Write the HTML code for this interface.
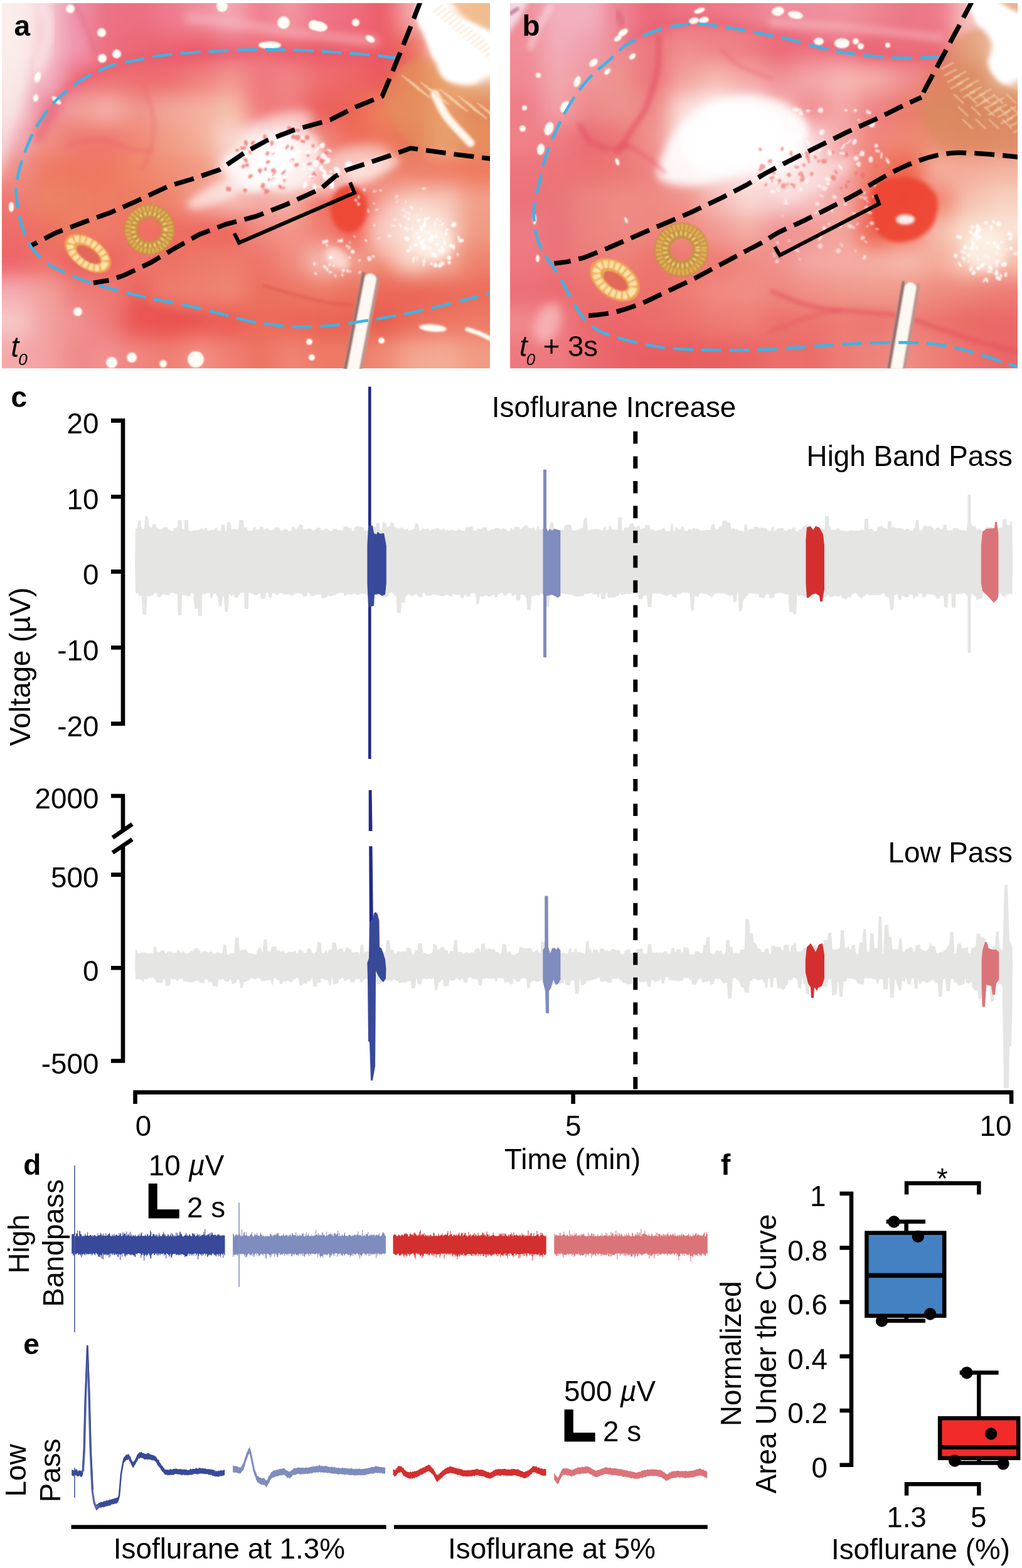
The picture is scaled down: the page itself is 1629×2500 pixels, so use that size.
<!DOCTYPE html>
<html lang="en"><head><meta charset="utf-8"><title>Figure</title>
<style>html,body{margin:0;padding:0;background:#fff}svg{display:block}text{font-family:"Liberation Sans",Arial,Helvetica,sans-serif;fill:#000}</style></head><body>
<svg width="1629" height="2500" viewBox="0 0 1629 2500">
<rect width="1629" height="2500" fill="#fff"/>
<defs><filter id="b1" x="-50%" y="-50%" width="200%" height="200%" color-interpolation-filters="sRGB"><feGaussianBlur stdDeviation="1"/></filter><filter id="b1.5" x="-50%" y="-50%" width="200%" height="200%" color-interpolation-filters="sRGB"><feGaussianBlur stdDeviation="1.5"/></filter><filter id="b2" x="-50%" y="-50%" width="200%" height="200%" color-interpolation-filters="sRGB"><feGaussianBlur stdDeviation="2"/></filter><filter id="b3" x="-50%" y="-50%" width="200%" height="200%" color-interpolation-filters="sRGB"><feGaussianBlur stdDeviation="3"/></filter><filter id="b4" x="-50%" y="-50%" width="200%" height="200%" color-interpolation-filters="sRGB"><feGaussianBlur stdDeviation="4"/></filter><filter id="b5" x="-50%" y="-50%" width="200%" height="200%" color-interpolation-filters="sRGB"><feGaussianBlur stdDeviation="5"/></filter><filter id="b6" x="-50%" y="-50%" width="200%" height="200%" color-interpolation-filters="sRGB"><feGaussianBlur stdDeviation="6"/></filter><filter id="b7" x="-50%" y="-50%" width="200%" height="200%" color-interpolation-filters="sRGB"><feGaussianBlur stdDeviation="7"/></filter><filter id="b8" x="-50%" y="-50%" width="200%" height="200%" color-interpolation-filters="sRGB"><feGaussianBlur stdDeviation="8"/></filter><filter id="b9" x="-50%" y="-50%" width="200%" height="200%" color-interpolation-filters="sRGB"><feGaussianBlur stdDeviation="9"/></filter><filter id="b10" x="-50%" y="-50%" width="200%" height="200%" color-interpolation-filters="sRGB"><feGaussianBlur stdDeviation="10"/></filter><filter id="b12" x="-50%" y="-50%" width="200%" height="200%" color-interpolation-filters="sRGB"><feGaussianBlur stdDeviation="12"/></filter><filter id="b14" x="-50%" y="-50%" width="200%" height="200%" color-interpolation-filters="sRGB"><feGaussianBlur stdDeviation="14"/></filter><filter id="b16" x="-50%" y="-50%" width="200%" height="200%" color-interpolation-filters="sRGB"><feGaussianBlur stdDeviation="16"/></filter><filter id="b20" x="-50%" y="-50%" width="200%" height="200%" color-interpolation-filters="sRGB"><feGaussianBlur stdDeviation="20"/></filter><filter id="b30" x="-50%" y="-50%" width="200%" height="200%" color-interpolation-filters="sRGB"><feGaussianBlur stdDeviation="30"/></filter><clipPath id="clipA"><rect x="3" y="5" width="778" height="582.3"/></clipPath><clipPath id="clipB"><rect x="813" y="5" width="809" height="582.3"/></clipPath></defs>
<g id="panel-a"><g clip-path="url(#clipA)">
<g filter="url(#b16)"><rect x="-146.1" y="-144" width="149.6" height="149.5" fill="#F8E5E3"/><rect x="2.5" y="-144" width="49.6" height="149.5" fill="#F8E5E3"/><rect x="51.1" y="-144" width="49.6" height="149.5" fill="#F4C5CF"/><rect x="99.8" y="-144" width="49.6" height="149.5" fill="#EE8FA7"/><rect x="148.4" y="-144" width="49.6" height="149.5" fill="#EC7184"/><rect x="197" y="-144" width="49.6" height="149.5" fill="#EC6F81"/><rect x="245.6" y="-144" width="49.6" height="149.5" fill="#EE7A8D"/><rect x="294.2" y="-144" width="49.6" height="149.5" fill="#F08D9E"/><rect x="342.9" y="-144" width="49.6" height="149.5" fill="#F4A6B1"/><rect x="391.5" y="-144" width="49.6" height="149.5" fill="#F07F8F"/><rect x="440.1" y="-144" width="49.6" height="149.5" fill="#F295A1"/><rect x="488.8" y="-144" width="49.6" height="149.5" fill="#EE7587"/><rect x="537.4" y="-144" width="49.6" height="149.5" fill="#EE6D7E"/><rect x="586" y="-144" width="49.6" height="149.5" fill="#EC5F6A"/><rect x="634.6" y="-144" width="49.6" height="149.5" fill="#F4ACAC"/><rect x="683.2" y="-144" width="49.6" height="149.5" fill="#FFFAF6"/><rect x="731.9" y="-144" width="49.6" height="149.5" fill="#F4D3AC"/><rect x="780.5" y="-144" width="149.6" height="149.5" fill="#F4D3AC"/><rect x="-146.1" y="4.5" width="149.6" height="49.5" fill="#F8E5E3"/><rect x="2.5" y="4.5" width="49.6" height="49.5" fill="#F8E5E3"/><rect x="51.1" y="4.5" width="49.6" height="49.5" fill="#F4C5CF"/><rect x="99.8" y="4.5" width="49.6" height="49.5" fill="#EE8FA7"/><rect x="148.4" y="4.5" width="49.6" height="49.5" fill="#EC7184"/><rect x="197" y="4.5" width="49.6" height="49.5" fill="#EC6F81"/><rect x="245.6" y="4.5" width="49.6" height="49.5" fill="#EE7A8D"/><rect x="294.2" y="4.5" width="49.6" height="49.5" fill="#F08D9E"/><rect x="342.9" y="4.5" width="49.6" height="49.5" fill="#F4A6B1"/><rect x="391.5" y="4.5" width="49.6" height="49.5" fill="#F07F8F"/><rect x="440.1" y="4.5" width="49.6" height="49.5" fill="#F295A1"/><rect x="488.8" y="4.5" width="49.6" height="49.5" fill="#EE7587"/><rect x="537.4" y="4.5" width="49.6" height="49.5" fill="#EE6D7E"/><rect x="586" y="4.5" width="49.6" height="49.5" fill="#EC5F6A"/><rect x="634.6" y="4.5" width="49.6" height="49.5" fill="#F4ACAC"/><rect x="683.2" y="4.5" width="49.6" height="49.5" fill="#FFFAF6"/><rect x="731.9" y="4.5" width="49.6" height="49.5" fill="#F4D3AC"/><rect x="780.5" y="4.5" width="149.6" height="49.5" fill="#F4D3AC"/><rect x="-146.1" y="53" width="149.6" height="49.5" fill="#F8E5E3"/><rect x="2.5" y="53" width="49.6" height="49.5" fill="#F8E5E3"/><rect x="51.1" y="53" width="49.6" height="49.5" fill="#F4C0CD"/><rect x="99.8" y="53" width="49.6" height="49.5" fill="#F095AF"/><rect x="148.4" y="53" width="49.6" height="49.5" fill="#EC6D7E"/><rect x="197" y="53" width="49.6" height="49.5" fill="#EC6776"/><rect x="245.6" y="53" width="49.6" height="49.5" fill="#EC6574"/><rect x="294.2" y="53" width="49.6" height="49.5" fill="#EC5F6A"/><rect x="342.9" y="53" width="49.6" height="49.5" fill="#EE6D7E"/><rect x="391.5" y="53" width="49.6" height="49.5" fill="#F0757E"/><rect x="440.1" y="53" width="49.6" height="49.5" fill="#EE6974"/><rect x="488.8" y="53" width="49.6" height="49.5" fill="#EC626D"/><rect x="537.4" y="53" width="49.6" height="49.5" fill="#EE6571"/><rect x="586" y="53" width="49.6" height="49.5" fill="#EC5C64"/><rect x="634.6" y="53" width="49.6" height="49.5" fill="#EA6D5F"/><rect x="683.2" y="53" width="49.6" height="49.5" fill="#F8E5D3"/><rect x="731.9" y="53" width="49.6" height="49.5" fill="#FFFFFF"/><rect x="780.5" y="53" width="149.6" height="49.5" fill="#FFFFFF"/><rect x="-146.1" y="101.5" width="149.6" height="49.5" fill="#F6DCDC"/><rect x="2.5" y="101.5" width="49.6" height="49.5" fill="#F6DCDC"/><rect x="51.1" y="101.5" width="49.6" height="49.5" fill="#F2B1C1"/><rect x="99.8" y="101.5" width="49.6" height="49.5" fill="#EE7184"/><rect x="148.4" y="101.5" width="49.6" height="49.5" fill="#EE7174"/><rect x="197" y="101.5" width="49.6" height="49.5" fill="#EE6D6F"/><rect x="245.6" y="101.5" width="49.6" height="49.5" fill="#EE6D6F"/><rect x="294.2" y="101.5" width="49.6" height="49.5" fill="#F07F7E"/><rect x="342.9" y="101.5" width="49.6" height="49.5" fill="#F2958F"/><rect x="391.5" y="101.5" width="49.6" height="49.5" fill="#F07A7E"/><rect x="440.1" y="101.5" width="49.6" height="49.5" fill="#F08484"/><rect x="488.8" y="101.5" width="49.6" height="49.5" fill="#EE6D6F"/><rect x="537.4" y="101.5" width="49.6" height="49.5" fill="#EE6566"/><rect x="586" y="101.5" width="49.6" height="49.5" fill="#EA595C"/><rect x="634.6" y="101.5" width="49.6" height="49.5" fill="#E88459"/><rect x="683.2" y="101.5" width="49.6" height="49.5" fill="#F0B67E"/><rect x="731.9" y="101.5" width="49.6" height="49.5" fill="#F8E1CA"/><rect x="780.5" y="101.5" width="149.6" height="49.5" fill="#F8E1CA"/><rect x="-146.1" y="150" width="149.6" height="49.5" fill="#F4CFD3"/><rect x="2.5" y="150" width="49.6" height="49.5" fill="#F4CFD3"/><rect x="51.1" y="150" width="49.6" height="49.5" fill="#EE849B"/><rect x="99.8" y="150" width="49.6" height="49.5" fill="#F2A098"/><rect x="148.4" y="150" width="49.6" height="49.5" fill="#F4B1A7"/><rect x="197" y="150" width="49.6" height="49.5" fill="#F0958D"/><rect x="245.6" y="150" width="49.6" height="49.5" fill="#F2A69B"/><rect x="294.2" y="150" width="49.6" height="49.5" fill="#F4B1A1"/><rect x="342.9" y="150" width="49.6" height="49.5" fill="#F6C0AC"/><rect x="391.5" y="150" width="49.6" height="49.5" fill="#F07A79"/><rect x="440.1" y="150" width="49.6" height="49.5" fill="#F07F7E"/><rect x="488.8" y="150" width="49.6" height="49.5" fill="#EC5F5C"/><rect x="537.4" y="150" width="49.6" height="49.5" fill="#EC6556"/><rect x="586" y="150" width="49.6" height="49.5" fill="#EC845C"/><rect x="634.6" y="150" width="49.6" height="49.5" fill="#EA8A5C"/><rect x="683.2" y="150" width="49.6" height="49.5" fill="#F0B17E"/><rect x="731.9" y="150" width="49.6" height="49.5" fill="#E48456"/><rect x="780.5" y="150" width="149.6" height="49.5" fill="#E48456"/><rect x="-146.1" y="198.5" width="149.6" height="49.5" fill="#F0ACB7"/><rect x="2.5" y="198.5" width="49.6" height="49.5" fill="#F0ACB7"/><rect x="51.1" y="198.5" width="49.6" height="49.5" fill="#F08F84"/><rect x="99.8" y="198.5" width="49.6" height="49.5" fill="#EE7A6F"/><rect x="148.4" y="198.5" width="49.6" height="49.5" fill="#EE786D"/><rect x="197" y="198.5" width="49.6" height="49.5" fill="#F08A74"/><rect x="245.6" y="198.5" width="49.6" height="49.5" fill="#F29E87"/><rect x="294.2" y="198.5" width="49.6" height="49.5" fill="#F4AE98"/><rect x="342.9" y="198.5" width="49.6" height="49.5" fill="#F8D8CF"/><rect x="391.5" y="198.5" width="49.6" height="49.5" fill="#F8D3CF"/><rect x="440.1" y="198.5" width="49.6" height="49.5" fill="#FAE5E1"/><rect x="488.8" y="198.5" width="49.6" height="49.5" fill="#F08A7E"/><rect x="537.4" y="198.5" width="49.6" height="49.5" fill="#EE6D5C"/><rect x="586" y="198.5" width="49.6" height="49.5" fill="#EE755C"/><rect x="634.6" y="198.5" width="49.6" height="49.5" fill="#E47A56"/><rect x="683.2" y="198.5" width="49.6" height="49.5" fill="#F0B68A"/><rect x="731.9" y="198.5" width="49.6" height="49.5" fill="#EC8F62"/><rect x="780.5" y="198.5" width="149.6" height="49.5" fill="#EC8F62"/><rect x="-146.1" y="247" width="149.6" height="49.5" fill="#F08F8A"/><rect x="2.5" y="247" width="49.6" height="49.5" fill="#F08F8A"/><rect x="51.1" y="247" width="49.6" height="49.5" fill="#EE7A64"/><rect x="99.8" y="247" width="49.6" height="49.5" fill="#EE7862"/><rect x="148.4" y="247" width="49.6" height="49.5" fill="#EE7A64"/><rect x="197" y="247" width="49.6" height="49.5" fill="#F0846A"/><rect x="245.6" y="247" width="49.6" height="49.5" fill="#F08F76"/><rect x="294.2" y="247" width="49.6" height="49.5" fill="#F29881"/><rect x="342.9" y="247" width="49.6" height="49.5" fill="#F6C0B7"/><rect x="391.5" y="247" width="49.6" height="49.5" fill="#F8D8D3"/><rect x="440.1" y="247" width="49.6" height="49.5" fill="#F8D3CF"/><rect x="488.8" y="247" width="49.6" height="49.5" fill="#F06D62"/><rect x="537.4" y="247" width="49.6" height="49.5" fill="#F4A095"/><rect x="586" y="247" width="49.6" height="49.5" fill="#F0846F"/><rect x="634.6" y="247" width="49.6" height="49.5" fill="#EE7F6A"/><rect x="683.2" y="247" width="49.6" height="49.5" fill="#EE7A62"/><rect x="731.9" y="247" width="49.6" height="49.5" fill="#EE7A5F"/><rect x="780.5" y="247" width="149.6" height="49.5" fill="#EE7A5F"/><rect x="-146.1" y="295.5" width="149.6" height="49.5" fill="#EE7A74"/><rect x="2.5" y="295.5" width="49.6" height="49.5" fill="#EE7A74"/><rect x="51.1" y="295.5" width="49.6" height="49.5" fill="#EC8466"/><rect x="99.8" y="295.5" width="49.6" height="49.5" fill="#EC7F62"/><rect x="148.4" y="295.5" width="49.6" height="49.5" fill="#EE7A64"/><rect x="197" y="295.5" width="49.6" height="49.5" fill="#EC7F62"/><rect x="245.6" y="295.5" width="49.6" height="49.5" fill="#EE846A"/><rect x="294.2" y="295.5" width="49.6" height="49.5" fill="#F4A095"/><rect x="342.9" y="295.5" width="49.6" height="49.5" fill="#F6C0B7"/><rect x="391.5" y="295.5" width="49.6" height="49.5" fill="#F4ACA7"/><rect x="440.1" y="295.5" width="49.6" height="49.5" fill="#F4B1A7"/><rect x="488.8" y="295.5" width="49.6" height="49.5" fill="#F07162"/><rect x="537.4" y="295.5" width="49.6" height="49.5" fill="#EE4D3E"/><rect x="586" y="295.5" width="49.6" height="49.5" fill="#F4A095"/><rect x="634.6" y="295.5" width="49.6" height="49.5" fill="#F6C5B7"/><rect x="683.2" y="295.5" width="49.6" height="49.5" fill="#F6CABC"/><rect x="731.9" y="295.5" width="49.6" height="49.5" fill="#F2A08A"/><rect x="780.5" y="295.5" width="149.6" height="49.5" fill="#F2A08A"/><rect x="-146.1" y="344" width="149.6" height="49.5" fill="#EE6D6A"/><rect x="2.5" y="344" width="49.6" height="49.5" fill="#EE6D6A"/><rect x="51.1" y="344" width="49.6" height="49.5" fill="#EC715F"/><rect x="99.8" y="344" width="49.6" height="49.5" fill="#EE7F62"/><rect x="148.4" y="344" width="49.6" height="49.5" fill="#EE7A6A"/><rect x="197" y="344" width="49.6" height="49.5" fill="#EE7162"/><rect x="245.6" y="344" width="49.6" height="49.5" fill="#EE6D62"/><rect x="294.2" y="344" width="49.6" height="49.5" fill="#EE695F"/><rect x="342.9" y="344" width="49.6" height="49.5" fill="#EE655C"/><rect x="391.5" y="344" width="49.6" height="49.5" fill="#F08A7E"/><rect x="440.1" y="344" width="49.6" height="49.5" fill="#F2958A"/><rect x="488.8" y="344" width="49.6" height="49.5" fill="#F07F74"/><rect x="537.4" y="344" width="49.6" height="49.5" fill="#F06556"/><rect x="586" y="344" width="49.6" height="49.5" fill="#F4ACA1"/><rect x="634.6" y="344" width="49.6" height="49.5" fill="#FAE5D8"/><rect x="683.2" y="344" width="49.6" height="49.5" fill="#F8DCCF"/><rect x="731.9" y="344" width="49.6" height="49.5" fill="#F09B84"/><rect x="780.5" y="344" width="149.6" height="49.5" fill="#F09B84"/><rect x="-146.1" y="392.5" width="149.6" height="49.5" fill="#EE656A"/><rect x="2.5" y="392.5" width="49.6" height="49.5" fill="#EE656A"/><rect x="51.1" y="392.5" width="49.6" height="49.5" fill="#EE716A"/><rect x="99.8" y="392.5" width="49.6" height="49.5" fill="#EC625C"/><rect x="148.4" y="392.5" width="49.6" height="49.5" fill="#EC655D"/><rect x="197" y="392.5" width="49.6" height="49.5" fill="#EE756A"/><rect x="245.6" y="392.5" width="49.6" height="49.5" fill="#EC7164"/><rect x="294.2" y="392.5" width="49.6" height="49.5" fill="#EE7967"/><rect x="342.9" y="392.5" width="49.6" height="49.5" fill="#EE7D6C"/><rect x="391.5" y="392.5" width="49.6" height="49.5" fill="#EE756A"/><rect x="440.1" y="392.5" width="49.6" height="49.5" fill="#F08A7E"/><rect x="488.8" y="392.5" width="49.6" height="49.5" fill="#F6C0B7"/><rect x="537.4" y="392.5" width="49.6" height="49.5" fill="#F2A08F"/><rect x="586" y="392.5" width="49.6" height="49.5" fill="#F08A74"/><rect x="634.6" y="392.5" width="49.6" height="49.5" fill="#F6C5B1"/><rect x="683.2" y="392.5" width="49.6" height="49.5" fill="#F4B19B"/><rect x="731.9" y="392.5" width="49.6" height="49.5" fill="#EE846F"/><rect x="780.5" y="392.5" width="149.6" height="49.5" fill="#EE846F"/><rect x="-146.1" y="441" width="149.6" height="49.5" fill="#F4ACB3"/><rect x="2.5" y="441" width="49.6" height="49.5" fill="#F4ACB3"/><rect x="51.1" y="441" width="49.6" height="49.5" fill="#F2A19B"/><rect x="99.8" y="441" width="49.6" height="49.5" fill="#EE7D7B"/><rect x="148.4" y="441" width="49.6" height="49.5" fill="#EE7972"/><rect x="197" y="441" width="49.6" height="49.5" fill="#EC655F"/><rect x="245.6" y="441" width="49.6" height="49.5" fill="#EE7D6E"/><rect x="294.2" y="441" width="49.6" height="49.5" fill="#EE8172"/><rect x="342.9" y="441" width="49.6" height="49.5" fill="#EE8672"/><rect x="391.5" y="441" width="49.6" height="49.5" fill="#EC715F"/><rect x="440.1" y="441" width="49.6" height="49.5" fill="#EC7562"/><rect x="488.8" y="441" width="49.6" height="49.5" fill="#EE7A66"/><rect x="537.4" y="441" width="49.6" height="49.5" fill="#EC715F"/><rect x="586" y="441" width="49.6" height="49.5" fill="#EC6959"/><rect x="634.6" y="441" width="49.6" height="49.5" fill="#EA6556"/><rect x="683.2" y="441" width="49.6" height="49.5" fill="#EA6959"/><rect x="731.9" y="441" width="49.6" height="49.5" fill="#EC6D5C"/><rect x="780.5" y="441" width="149.6" height="49.5" fill="#EC6D5C"/><rect x="-146.1" y="489.5" width="149.6" height="49.5" fill="#F6C7C8"/><rect x="2.5" y="489.5" width="49.6" height="49.5" fill="#F6C7C8"/><rect x="51.1" y="489.5" width="49.6" height="49.5" fill="#F2A1A1"/><rect x="99.8" y="489.5" width="49.6" height="49.5" fill="#F09090"/><rect x="148.4" y="489.5" width="49.6" height="49.5" fill="#EE7B79"/><rect x="197" y="489.5" width="49.6" height="49.5" fill="#EA5350"/><rect x="245.6" y="489.5" width="49.6" height="49.5" fill="#EA504D"/><rect x="294.2" y="489.5" width="49.6" height="49.5" fill="#EC5953"/><rect x="342.9" y="489.5" width="49.6" height="49.5" fill="#EC5C54"/><rect x="391.5" y="489.5" width="49.6" height="49.5" fill="#EC6B5A"/><rect x="440.1" y="489.5" width="49.6" height="49.5" fill="#EC6757"/><rect x="488.8" y="489.5" width="49.6" height="49.5" fill="#EA6354"/><rect x="537.4" y="489.5" width="49.6" height="49.5" fill="#EA6253"/><rect x="586" y="489.5" width="49.6" height="49.5" fill="#E85C4D"/><rect x="634.6" y="489.5" width="49.6" height="49.5" fill="#EC6D5C"/><rect x="683.2" y="489.5" width="49.6" height="49.5" fill="#EE7562"/><rect x="731.9" y="489.5" width="49.6" height="49.5" fill="#EE7A66"/><rect x="780.5" y="489.5" width="149.6" height="49.5" fill="#EE7A66"/><rect x="-146.1" y="538" width="149.6" height="49.5" fill="#F4A9A9"/><rect x="2.5" y="538" width="49.6" height="49.5" fill="#F4A9A9"/><rect x="51.1" y="538" width="49.6" height="49.5" fill="#F4A0A1"/><rect x="99.8" y="538" width="49.6" height="49.5" fill="#F08A8A"/><rect x="148.4" y="538" width="49.6" height="49.5" fill="#F28F8F"/><rect x="197" y="538" width="49.6" height="49.5" fill="#F0847E"/><rect x="245.6" y="538" width="49.6" height="49.5" fill="#F07F74"/><rect x="294.2" y="538" width="49.6" height="49.5" fill="#F28F84"/><rect x="342.9" y="538" width="49.6" height="49.5" fill="#F07F74"/><rect x="391.5" y="538" width="49.6" height="49.5" fill="#EE7362"/><rect x="440.1" y="538" width="49.6" height="49.5" fill="#F08474"/><rect x="488.8" y="538" width="49.6" height="49.5" fill="#EE7A66"/><rect x="537.4" y="538" width="49.6" height="49.5" fill="#EE7A66"/><rect x="586" y="538" width="49.6" height="49.5" fill="#F08A74"/><rect x="634.6" y="538" width="49.6" height="49.5" fill="#F4A68F"/><rect x="683.2" y="538" width="49.6" height="49.5" fill="#F4AC95"/><rect x="731.9" y="538" width="49.6" height="49.5" fill="#F29B84"/><rect x="780.5" y="538" width="149.6" height="49.5" fill="#F29B84"/><rect x="-146.1" y="586.5" width="149.6" height="149.5" fill="#F4A9A9"/><rect x="2.5" y="586.5" width="49.6" height="149.5" fill="#F4A9A9"/><rect x="51.1" y="586.5" width="49.6" height="149.5" fill="#F4A0A1"/><rect x="99.8" y="586.5" width="49.6" height="149.5" fill="#F08A8A"/><rect x="148.4" y="586.5" width="49.6" height="149.5" fill="#F28F8F"/><rect x="197" y="586.5" width="49.6" height="149.5" fill="#F0847E"/><rect x="245.6" y="586.5" width="49.6" height="149.5" fill="#F07F74"/><rect x="294.2" y="586.5" width="49.6" height="149.5" fill="#F28F84"/><rect x="342.9" y="586.5" width="49.6" height="149.5" fill="#F07F74"/><rect x="391.5" y="586.5" width="49.6" height="149.5" fill="#EE7362"/><rect x="440.1" y="586.5" width="49.6" height="149.5" fill="#F08474"/><rect x="488.8" y="586.5" width="49.6" height="149.5" fill="#EE7A66"/><rect x="537.4" y="586.5" width="49.6" height="149.5" fill="#EE7A66"/><rect x="586" y="586.5" width="49.6" height="149.5" fill="#F08A74"/><rect x="634.6" y="586.5" width="49.6" height="149.5" fill="#F4A68F"/><rect x="683.2" y="586.5" width="49.6" height="149.5" fill="#F4AC95"/><rect x="731.9" y="586.5" width="49.6" height="149.5" fill="#F29B84"/><rect x="780.5" y="586.5" width="149.6" height="149.5" fill="#F29B84"/></g>
<path d="M-10 -10C-0.3 -56.7 36.7 -21.7 48 -10C59.3 1.7 59.3 35 58 60C56.7 85 46 115 40 140C34 165 27.3 190 22 210C16.7 230 13.3 250 8 260C2.7 270 -7 315 -10 270C-13 225 -19.7 36.7 -10 -10Z" fill="#FCF2EE" opacity="0.6" filter="url(#b9)"/>
<path d="M68 0C69.7 8.3 79 31.7 78 50C77 68.3 64.7 100 62 110" fill="none" stroke="#FFFFFF" stroke-width="14" stroke-linecap="round" opacity="0.6" filter="url(#b8)"/>
<path d="M120 5C123.3 12.5 134.7 36.7 140 50C145.3 63.3 150 79.2 152 85" fill="none" stroke="#DC6678" stroke-width="6" stroke-linecap="round" opacity="0.5" filter="url(#b4)"/>
<path d="M60 220C66.7 208.3 83.3 168 100 150C116.7 132 135 121.7 160 112C185 102.3 210 96.7 250 92C290 87.3 351.7 84.7 400 84C448.3 83.3 500 86 540 88C580 90 623.3 94.7 640 96" fill="none" stroke="#E85468" stroke-width="16" stroke-linecap="round" opacity="0.5" filter="url(#b7)"/>
<path d="M300 28C313.3 29.7 351.7 34 380 38C408.3 42 433.3 47.3 470 52C506.7 56.7 578.3 63.7 600 66" fill="none" stroke="#F8C4CC" stroke-width="12" stroke-linecap="round" opacity="0.6" filter="url(#b7)"/>
<path d="M669.6 -5C676.7 -10.8 698.3 -9.5 707 -5C715.7 -0.5 708.2 11.5 722 22C735.8 32.5 778.7 40.7 790 58C801.3 75.3 797.5 113 790 126C782.5 139 758.8 136 745 136C731.2 136 716.2 133.2 707 126C697.8 118.8 695.3 104.8 690 93C684.7 81.2 679.2 65.5 675 55C670.8 44.5 665.5 40 664.6 30C663.7 20 662.5 0.8 669.6 -5Z" fill="#FFFFFF" opacity="1" filter="url(#b3)"/>
<path d="M722 -5C732 -8.2 778.7 -13.5 790 -5C801.3 3.5 796.7 39.8 790 46C783.3 52.2 760 37.3 750 32C740 26.7 734.7 20.2 730 14C725.3 7.8 712 -1.8 722 -5Z" fill="#F0B888" opacity="0.8" filter="url(#b3)"/>
<path d="M650 100C660 96 680.5 91.3 690 96C699.5 100.7 697.8 121 707 128C716.2 135 731.2 138 745 138C758.8 138 782.5 111.3 790 128C797.5 144.7 805 220.3 790 238C775 255.7 722.5 235.3 700 234C677.5 232.7 669.7 243.2 655 230C640.3 216.8 616.2 173.3 612 155C607.8 136.7 623.7 129.2 630 120C636.3 110.8 640 104 650 100Z" fill="#E2905E" opacity="0.55" filter="url(#b5)"/>
<path d="M693 150C696.2 156 702.5 173 712 186C721.5 199 743.7 221 750 228" fill="none" stroke="#FFFCF4" stroke-width="13" stroke-linecap="round" opacity="0.95" filter="url(#b2)"/>
<path d="M350 262C351.7 251.3 380 236.3 395 228C410 219.7 424.2 214.7 440 212C455.8 209.3 477.5 207.3 490 212C502.5 216.7 513.3 228.7 515 240C516.7 251.3 507.5 269.2 500 280C492.5 290.8 482.5 301.7 470 305C457.5 308.3 439.2 302.2 425 300C410.8 297.8 397.5 298.3 385 292C372.5 285.7 348.3 272.7 350 262Z" fill="#FFFFFF" opacity="0.75" filter="url(#b8)"/>
<ellipse cx="440" cy="258" rx="40" ry="24" transform="rotate(-20 440 258)" fill="#FFFFFF" opacity="0.8" filter="url(#b5)"/>
<ellipse cx="420" cy="290" rx="35" ry="14" transform="rotate(-20 420 290)" fill="#FFFFFF" opacity="0.6" filter="url(#b5)"/>
<ellipse cx="352" cy="306" rx="58" ry="15" transform="rotate(-24 352 306)" fill="#FFFFFF" opacity="0.55" filter="url(#b6)"/>
<ellipse cx="550" cy="272" rx="78" ry="34" transform="rotate(-20 550 272)" fill="#FFFFFF" opacity="0.5" filter="url(#b9)"/>
<ellipse cx="440" cy="206" rx="62" ry="22" transform="rotate(-20 440 206)" fill="#FFFFFF" opacity="0.45" filter="url(#b8)"/>
<ellipse cx="650" cy="372" rx="62" ry="55" fill="#FFF6F0" opacity="0.4" filter="url(#b12)"/>
<ellipse cx="400" cy="262" rx="40" ry="30" transform="rotate(-20 400 262)" fill="#FFFFFF" opacity="0.4" filter="url(#b9)"/>
<ellipse cx="595" cy="268" rx="45" ry="14" transform="rotate(-18 595 268)" fill="#FFF4F0" opacity="0.5" filter="url(#b6)"/>
<ellipse cx="690" cy="388" rx="32" ry="26" transform="rotate(20 690 388)" fill="#FFF8F0" opacity="0.7" filter="url(#b6)"/>
<ellipse cx="538" cy="412" rx="22" ry="14" transform="rotate(40 538 412)" fill="#FFF6F0" opacity="0.6" filter="url(#b5)"/>
<ellipse cx="556" cy="333" rx="29" ry="38" fill="#EE4836" opacity="0.95" filter="url(#b3)"/>
<path d="M215 485C222.5 487.5 242.5 495.5 260 500C277.5 504.5 310 510 320 512" fill="none" stroke="#DC3C40" stroke-width="10" stroke-linecap="round" opacity="0.3" filter="url(#b7)"/>
<ellipse cx="690" cy="523" rx="22" ry="6" transform="rotate(5 690 523)" fill="#FFFDF4" opacity="1" filter="url(#b1.5)"/>
<path d="M745 525C748.3 526.2 758.3 529.2 765 532C771.7 534.8 781.7 540.3 785 542" fill="none" stroke="#FFFDF4" stroke-width="7" stroke-linecap="round" opacity="1" filter="url(#b1.5)"/>
<path d="M420 455C428.3 457.5 453.3 465.5 470 470C486.7 474.5 505 479.3 520 482C535 484.7 553.3 485.3 560 486" fill="none" stroke="#E0504C" stroke-width="4" stroke-linecap="round" opacity="0.6" filter="url(#b2)"/>
<path d="M230 140C232.5 148.3 243.3 173.3 245 190C246.7 206.7 243.3 226.7 240 240C236.7 253.3 227.5 265 225 270" fill="none" stroke="#E8606C" stroke-width="4" stroke-linecap="round" opacity="0.45" filter="url(#b3)"/>
<path d="M110 230C118.3 228.7 143.3 220.7 160 222C176.7 223.3 196.7 235 210 238C223.3 241 235 239.7 240 240" fill="none" stroke="#E8606C" stroke-width="5" stroke-linecap="round" opacity="0.45" filter="url(#b3)"/>
<g stroke="#F8DDB8" stroke-width="2" opacity="0.75" filter="url(#b1)">
<line x1="640" y1="120" x2="662" y2="135"/>
<line x1="646" y1="125.2" x2="668" y2="140.2"/>
<line x1="652" y1="130.4" x2="674" y2="145.4"/>
<line x1="658" y1="135.6" x2="680" y2="150.6"/>
<line x1="664" y1="140.8" x2="686" y2="155.8"/>
<line x1="670" y1="131" x2="692" y2="146"/>
<line x1="676" y1="136.2" x2="698" y2="151.2"/>
<line x1="682" y1="141.4" x2="704" y2="156.4"/>
<line x1="688" y1="146.6" x2="710" y2="161.6"/>
<line x1="694" y1="151.8" x2="716" y2="166.8"/>
<line x1="700" y1="142" x2="722" y2="157"/>
<line x1="706" y1="147.2" x2="728" y2="162.2"/>
<line x1="712" y1="152.4" x2="734" y2="167.4"/>
<line x1="718" y1="157.6" x2="740" y2="172.6"/>
<line x1="724" y1="162.8" x2="746" y2="177.8"/>
<line x1="730" y1="153" x2="752" y2="168"/>
<line x1="736" y1="158.2" x2="758" y2="173.2"/>
<line x1="742" y1="163.4" x2="764" y2="178.4"/>
<line x1="748" y1="168.6" x2="770" y2="183.6"/>
<line x1="754" y1="173.8" x2="776" y2="188.8"/>
<line x1="760" y1="164" x2="782" y2="179"/>
<line x1="766" y1="169.2" x2="788" y2="184.2"/>
<line x1="772" y1="174.4" x2="794" y2="189.4"/>
<line x1="778" y1="179.6" x2="800" y2="194.6"/>
<line x1="784" y1="184.8" x2="806" y2="199.8"/>
<line x1="790" y1="175" x2="812" y2="190"/>
<line x1="690" y1="20" x2="706" y2="8"/>
<line x1="696" y1="25" x2="712" y2="13"/>
<line x1="702" y1="30" x2="718" y2="18"/>
<line x1="708" y1="35" x2="724" y2="23"/>
<line x1="714" y1="40" x2="730" y2="28"/>
<line x1="720" y1="45" x2="736" y2="33"/>
<line x1="726" y1="50" x2="742" y2="38"/>
<line x1="732" y1="55" x2="748" y2="43"/>
<line x1="738" y1="60" x2="754" y2="48"/>
<line x1="744" y1="65" x2="760" y2="53"/>
<line x1="750" y1="70" x2="766" y2="58"/>
<line x1="756" y1="75" x2="772" y2="63"/>
<line x1="762" y1="80" x2="778" y2="68"/>
<line x1="768" y1="85" x2="784" y2="73"/>
<line x1="774" y1="90" x2="790" y2="78"/>
<line x1="780" y1="95" x2="796" y2="83"/>
</g>
<g fill="#EE6A66" filter="url(#b1)" opacity="0.7"><ellipse cx="387.6" cy="265.3" rx="3.1" ry="3.1" transform="rotate(11 387.6 265.3)"/><ellipse cx="391.9" cy="228.1" rx="5" ry="3.1" transform="rotate(85 391.9 228.1)"/><ellipse cx="467.8" cy="218.1" rx="3.9" ry="3.5" transform="rotate(133 467.8 218.1)"/><ellipse cx="474.3" cy="207.7" rx="4.3" ry="2.5" transform="rotate(5 474.3 207.7)"/><ellipse cx="513.1" cy="256.7" rx="4.2" ry="4" transform="rotate(165 513.1 256.7)"/><ellipse cx="419" cy="296.1" rx="3.3" ry="4.5" transform="rotate(17 419 296.1)"/><ellipse cx="465.3" cy="236.1" rx="3.5" ry="2.1" transform="rotate(105 465.3 236.1)"/><ellipse cx="474.3" cy="219.6" rx="4.6" ry="4.7" transform="rotate(102 474.3 219.6)"/><ellipse cx="482.8" cy="225.3" rx="4.5" ry="2.4" transform="rotate(11 482.8 225.3)"/><ellipse cx="422.1" cy="218.1" rx="2.9" ry="4" transform="rotate(7 422.1 218.1)"/><ellipse cx="462.9" cy="205.4" rx="4.2" ry="2.8" transform="rotate(176 462.9 205.4)"/><ellipse cx="460" cy="203.8" rx="2.6" ry="2.6" transform="rotate(28 460 203.8)"/><ellipse cx="519.3" cy="245.3" rx="3.4" ry="2.9" transform="rotate(107 519.3 245.3)"/><ellipse cx="451.9" cy="274.4" rx="4.8" ry="2.5" transform="rotate(129 451.9 274.4)"/><ellipse cx="387.5" cy="236.1" rx="4.9" ry="2.8" transform="rotate(2 387.5 236.1)"/><ellipse cx="423" cy="269.6" rx="2.1" ry="3.1" transform="rotate(10 423 269.6)"/><ellipse cx="465.5" cy="256" rx="4" ry="2.6" transform="rotate(132 465.5 256)"/><ellipse cx="390.2" cy="254.8" rx="3.8" ry="2" transform="rotate(56 390.2 254.8)"/><ellipse cx="413.8" cy="271.5" rx="2.9" ry="2.8" transform="rotate(4 413.8 271.5)"/><ellipse cx="453.9" cy="288.2" rx="2.9" ry="2.4" transform="rotate(42 453.9 288.2)"/><ellipse cx="377.5" cy="252.2" rx="4.1" ry="1.5" transform="rotate(60 377.5 252.2)"/><ellipse cx="506.7" cy="252.6" rx="4.6" ry="1.7" transform="rotate(117 506.7 252.6)"/><ellipse cx="517" cy="254.1" rx="2.7" ry="1.8" transform="rotate(34 517 254.1)"/><ellipse cx="501.4" cy="277" rx="4.4" ry="1.7" transform="rotate(52 501.4 277)"/><ellipse cx="498.8" cy="232.5" rx="3" ry="2.3" transform="rotate(73 498.8 232.5)"/><ellipse cx="472.6" cy="262.3" rx="2.9" ry="1.9" transform="rotate(12 472.6 262.3)"/><ellipse cx="457.7" cy="234.4" rx="4.4" ry="2" transform="rotate(124 457.7 234.4)"/><ellipse cx="472.6" cy="263" rx="3.2" ry="3.9" transform="rotate(61 472.6 263)"/><ellipse cx="390.5" cy="303.4" rx="3.4" ry="2.9" transform="rotate(35 390.5 303.4)"/><ellipse cx="446.9" cy="298" rx="2.5" ry="4.2" transform="rotate(145 446.9 298)"/><ellipse cx="393.7" cy="263.3" rx="3.3" ry="3" transform="rotate(0 393.7 263.3)"/><ellipse cx="403.2" cy="237.7" rx="3.1" ry="3.1" transform="rotate(64 403.2 237.7)"/><ellipse cx="378.2" cy="239.5" rx="2.4" ry="3.1" transform="rotate(68 378.2 239.5)"/><ellipse cx="414.7" cy="272.5" rx="4.3" ry="2.8" transform="rotate(112 414.7 272.5)"/><ellipse cx="426.3" cy="244.7" rx="3.5" ry="2.9" transform="rotate(124 426.3 244.7)"/><ellipse cx="432.2" cy="229.4" rx="3.6" ry="2.2" transform="rotate(76 432.2 229.4)"/><ellipse cx="425.2" cy="305.6" rx="4.8" ry="3" transform="rotate(142 425.2 305.6)"/><ellipse cx="392.4" cy="255.7" rx="2.4" ry="3.7" transform="rotate(159 392.4 255.7)"/><ellipse cx="498.5" cy="280.1" rx="4.2" ry="2" transform="rotate(105 498.5 280.1)"/><ellipse cx="494.9" cy="205.3" rx="2.3" ry="2.2" transform="rotate(32 494.9 205.3)"/><ellipse cx="364.3" cy="301.3" rx="4" ry="4.4" transform="rotate(104 364.3 301.3)"/><ellipse cx="493.5" cy="261.4" rx="4.1" ry="2" transform="rotate(168 493.5 261.4)"/><ellipse cx="452.8" cy="299.4" rx="2.7" ry="1.6" transform="rotate(110 452.8 299.4)"/><ellipse cx="490.7" cy="247.2" rx="3.1" ry="2.2" transform="rotate(75 490.7 247.2)"/><ellipse cx="489.5" cy="219.3" rx="4.1" ry="3.6" transform="rotate(93 489.5 219.3)"/><ellipse cx="436.7" cy="277.2" rx="4.7" ry="1.3" transform="rotate(134 436.7 277.2)"/><ellipse cx="428.6" cy="286.3" rx="2.6" ry="1.7" transform="rotate(105 428.6 286.3)"/><ellipse cx="403" cy="227.9" rx="4.1" ry="3.1" transform="rotate(126 403 227.9)"/><ellipse cx="422.6" cy="302.4" rx="3.8" ry="1.7" transform="rotate(4 422.6 302.4)"/><ellipse cx="435.9" cy="245.9" rx="2.5" ry="2" transform="rotate(139 435.9 245.9)"/><ellipse cx="435.9" cy="271.9" rx="3.4" ry="4.1" transform="rotate(100 435.9 271.9)"/><ellipse cx="436.3" cy="286.5" rx="4.6" ry="2.8" transform="rotate(172 436.3 286.5)"/><ellipse cx="433.5" cy="227.6" rx="2.7" ry="3.5" transform="rotate(172 433.5 227.6)"/><ellipse cx="510.8" cy="229.1" rx="2.6" ry="1.6" transform="rotate(126 510.8 229.1)"/><ellipse cx="391" cy="303.8" rx="2.9" ry="2.8" transform="rotate(15 391 303.8)"/><ellipse cx="398.4" cy="242.8" rx="3.7" ry="2" transform="rotate(60 398.4 242.8)"/><ellipse cx="427.2" cy="258.3" rx="2.6" ry="3.7" transform="rotate(70 427.2 258.3)"/><ellipse cx="448.9" cy="214.3" rx="2.8" ry="2.2" transform="rotate(159 448.9 214.3)"/><ellipse cx="399.1" cy="281.1" rx="4" ry="2.8" transform="rotate(135 399.1 281.1)"/><ellipse cx="447.2" cy="213.6" rx="3.5" ry="2.6" transform="rotate(122 447.2 213.6)"/></g>
<g fill="#FFFFFF" filter="url(#b1)" opacity="0.9"><ellipse cx="490.6" cy="242.7" rx="5.2" ry="3" transform="rotate(160 490.6 242.7)"/><ellipse cx="504.9" cy="238.6" rx="6.7" ry="1.8" transform="rotate(129 504.9 238.6)"/><ellipse cx="495.6" cy="268.8" rx="5.2" ry="2.8" transform="rotate(31 495.6 268.8)"/><ellipse cx="411" cy="280.1" rx="5.8" ry="4.1" transform="rotate(64 411 280.1)"/><ellipse cx="442.5" cy="256.8" rx="6.4" ry="1.7" transform="rotate(44 442.5 256.8)"/><ellipse cx="523" cy="254.8" rx="3.7" ry="3.1" transform="rotate(138 523 254.8)"/><ellipse cx="456.5" cy="289.3" rx="2.6" ry="1.8" transform="rotate(20 456.5 289.3)"/><ellipse cx="524.6" cy="280.9" rx="2.9" ry="2.1" transform="rotate(133 524.6 280.9)"/><ellipse cx="530.5" cy="282.4" rx="5" ry="1.9" transform="rotate(34 530.5 282.4)"/><ellipse cx="484.4" cy="269.8" rx="3" ry="2.9" transform="rotate(5 484.4 269.8)"/><ellipse cx="528.5" cy="292.4" rx="6.7" ry="3" transform="rotate(104 528.5 292.4)"/><ellipse cx="501.4" cy="298.4" rx="5.4" ry="3.3" transform="rotate(87 501.4 298.4)"/><ellipse cx="496.2" cy="280.9" rx="2" ry="4.9" transform="rotate(88 496.2 280.9)"/><ellipse cx="483.8" cy="262.2" rx="3" ry="2.4" transform="rotate(90 483.8 262.2)"/><ellipse cx="503.4" cy="261.1" rx="4.8" ry="6.4" transform="rotate(24 503.4 261.1)"/><ellipse cx="526.8" cy="273.6" rx="2.3" ry="2.3" transform="rotate(14 526.8 273.6)"/><ellipse cx="486.2" cy="295.1" rx="3.6" ry="5.4" transform="rotate(24 486.2 295.1)"/><ellipse cx="537.3" cy="272.1" rx="6.6" ry="4.9" transform="rotate(61 537.3 272.1)"/><ellipse cx="529.1" cy="295.2" rx="6.3" ry="3.7" transform="rotate(87 529.1 295.2)"/><ellipse cx="417.5" cy="233" rx="2.4" ry="1.7" transform="rotate(89 417.5 233)"/><ellipse cx="511.9" cy="267.6" rx="4.1" ry="3.4" transform="rotate(83 511.9 267.6)"/><ellipse cx="521.1" cy="258.1" rx="2.9" ry="5.6" transform="rotate(66 521.1 258.1)"/><ellipse cx="459.4" cy="267.1" rx="5" ry="1.6" transform="rotate(37 459.4 267.1)"/><ellipse cx="525.3" cy="240" rx="4.3" ry="1.8" transform="rotate(30 525.3 240)"/><ellipse cx="464.6" cy="241.8" rx="2.1" ry="1.5" transform="rotate(88 464.6 241.8)"/><ellipse cx="409.6" cy="231.6" rx="4.2" ry="3.4" transform="rotate(9 409.6 231.6)"/><ellipse cx="464.5" cy="257.8" rx="2.1" ry="4.2" transform="rotate(16 464.5 257.8)"/><ellipse cx="475.9" cy="241.5" rx="5.1" ry="2.1" transform="rotate(9 475.9 241.5)"/><ellipse cx="516.4" cy="249.3" rx="5.9" ry="4.2" transform="rotate(54 516.4 249.3)"/><ellipse cx="440" cy="248.6" rx="6.1" ry="3.5" transform="rotate(16 440 248.6)"/><ellipse cx="509.2" cy="297.8" rx="5" ry="1" transform="rotate(16 509.2 297.8)"/><ellipse cx="427.3" cy="232.6" rx="2.3" ry="5" transform="rotate(36 427.3 232.6)"/><ellipse cx="555.8" cy="263.4" rx="6" ry="6.4" transform="rotate(6 555.8 263.4)"/><ellipse cx="448.8" cy="272.5" rx="6.7" ry="1.6" transform="rotate(152 448.8 272.5)"/><ellipse cx="418.3" cy="257.3" rx="3.7" ry="5.2" transform="rotate(31 418.3 257.3)"/><ellipse cx="518.4" cy="281.4" rx="6.2" ry="4.6" transform="rotate(65 518.4 281.4)"/><ellipse cx="466.4" cy="246.1" rx="5.9" ry="2.8" transform="rotate(30 466.4 246.1)"/><ellipse cx="515.3" cy="272.4" rx="5.6" ry="2.9" transform="rotate(27 515.3 272.4)"/><ellipse cx="513.7" cy="231.6" rx="4.3" ry="4.9" transform="rotate(17 513.7 231.6)"/><ellipse cx="437.9" cy="289.1" rx="5.2" ry="6" transform="rotate(80 437.9 289.1)"/></g>
<g fill="#FFFFFF" filter="url(#b1)" opacity="0.9"><ellipse cx="729.7" cy="406" rx="2.7" ry="1.5" transform="rotate(71 729.7 406)"/><ellipse cx="696.9" cy="349.9" rx="1.8" ry="2.3" transform="rotate(8 696.9 349.9)"/><ellipse cx="655.3" cy="398" rx="3.5" ry="0.9" transform="rotate(174 655.3 398)"/><ellipse cx="662" cy="390.6" rx="3" ry="3.4" transform="rotate(141 662 390.6)"/><ellipse cx="693.5" cy="356.9" rx="2.1" ry="1.6" transform="rotate(20 693.5 356.9)"/><ellipse cx="648.6" cy="381.9" rx="2.3" ry="3.6" transform="rotate(115 648.6 381.9)"/><ellipse cx="716.1" cy="418.5" rx="2.7" ry="2.6" transform="rotate(19 716.1 418.5)"/><ellipse cx="723.5" cy="393.5" rx="4.4" ry="1.7" transform="rotate(83 723.5 393.5)"/><ellipse cx="674.6" cy="383.6" rx="1.8" ry="3" transform="rotate(76 674.6 383.6)"/><ellipse cx="704.8" cy="394.5" rx="2.2" ry="2.7" transform="rotate(60 704.8 394.5)"/><ellipse cx="683.1" cy="347.6" rx="2.3" ry="2" transform="rotate(130 683.1 347.6)"/><ellipse cx="701.2" cy="423.8" rx="3.4" ry="2.9" transform="rotate(162 701.2 423.8)"/><ellipse cx="735" cy="383.6" rx="4.2" ry="2.9" transform="rotate(165 735 383.6)"/><ellipse cx="712.2" cy="366.5" rx="3.3" ry="1.9" transform="rotate(134 712.2 366.5)"/><ellipse cx="667.6" cy="378.9" rx="2.7" ry="3.6" transform="rotate(51 667.6 378.9)"/><ellipse cx="650.3" cy="366.9" rx="2.9" ry="1" transform="rotate(137 650.3 366.9)"/><ellipse cx="677.3" cy="354.5" rx="2.6" ry="2.4" transform="rotate(97 677.3 354.5)"/><ellipse cx="676" cy="416.7" rx="2.5" ry="2.9" transform="rotate(145 676 416.7)"/><ellipse cx="669.7" cy="361.8" rx="4.3" ry="0.9" transform="rotate(95 669.7 361.8)"/><ellipse cx="693.6" cy="354.9" rx="1.7" ry="2" transform="rotate(83 693.6 354.9)"/><ellipse cx="683.2" cy="370.4" rx="1.7" ry="1.9" transform="rotate(56 683.2 370.4)"/><ellipse cx="664.7" cy="412.2" rx="3" ry="1.3" transform="rotate(77 664.7 412.2)"/><ellipse cx="702.7" cy="400.8" rx="4.7" ry="2.7" transform="rotate(24 702.7 400.8)"/><ellipse cx="715.8" cy="411.1" rx="3.3" ry="3.4" transform="rotate(50 715.8 411.1)"/><ellipse cx="704.3" cy="420.7" rx="4.7" ry="2.6" transform="rotate(167 704.3 420.7)"/><ellipse cx="721.4" cy="394.2" rx="3" ry="1.9" transform="rotate(32 721.4 394.2)"/><ellipse cx="694.7" cy="376.7" rx="2.7" ry="2.8" transform="rotate(81 694.7 376.7)"/><ellipse cx="671.5" cy="387" rx="2.9" ry="4.1" transform="rotate(167 671.5 387)"/><ellipse cx="697.5" cy="389.5" rx="3.2" ry="2.1" transform="rotate(164 697.5 389.5)"/><ellipse cx="650.2" cy="400.2" rx="2.8" ry="3.1" transform="rotate(172 650.2 400.2)"/><ellipse cx="704.4" cy="357.6" rx="4.7" ry="1.5" transform="rotate(149 704.4 357.6)"/><ellipse cx="671.6" cy="364.4" rx="4.8" ry="3.2" transform="rotate(70 671.6 364.4)"/><ellipse cx="668.2" cy="351.8" rx="2.4" ry="2.7" transform="rotate(41 668.2 351.8)"/><ellipse cx="692.6" cy="406.9" rx="4.4" ry="3.4" transform="rotate(0 692.6 406.9)"/><ellipse cx="646.9" cy="364.1" rx="3.2" ry="1.9" transform="rotate(8 646.9 364.1)"/><ellipse cx="707.5" cy="398.2" rx="2" ry="1.5" transform="rotate(31 707.5 398.2)"/><ellipse cx="659" cy="414" rx="4.6" ry="1.6" transform="rotate(96 659 414)"/><ellipse cx="678.2" cy="349.6" rx="2.9" ry="3.2" transform="rotate(23 678.2 349.6)"/><ellipse cx="675.2" cy="422.3" rx="1.8" ry="2.1" transform="rotate(179 675.2 422.3)"/><ellipse cx="688.5" cy="403.3" rx="2.6" ry="1.1" transform="rotate(134 688.5 403.3)"/><ellipse cx="718.2" cy="391.2" rx="3.1" ry="2.4" transform="rotate(96 718.2 391.2)"/><ellipse cx="723.3" cy="358" rx="3.6" ry="4.4" transform="rotate(32 723.3 358)"/><ellipse cx="656.8" cy="363.9" rx="2.2" ry="1.7" transform="rotate(73 656.8 363.9)"/><ellipse cx="708.5" cy="387.3" rx="4.2" ry="1.4" transform="rotate(79 708.5 387.3)"/><ellipse cx="654.6" cy="394" rx="2.6" ry="2.2" transform="rotate(57 654.6 394)"/><ellipse cx="675.8" cy="394.1" rx="4.9" ry="4.4" transform="rotate(150 675.8 394.1)"/><ellipse cx="667" cy="351.1" rx="3.3" ry="2.7" transform="rotate(116 667 351.1)"/><ellipse cx="685.3" cy="383" rx="3.4" ry="4.5" transform="rotate(95 685.3 383)"/><ellipse cx="684.2" cy="395.6" rx="1.7" ry="2.8" transform="rotate(139 684.2 395.6)"/><ellipse cx="676.7" cy="359.3" rx="3.4" ry="3.3" transform="rotate(156 676.7 359.3)"/><ellipse cx="711.1" cy="372.5" rx="2.6" ry="2.3" transform="rotate(67 711.1 372.5)"/><ellipse cx="705.2" cy="418.8" rx="3.5" ry="1.2" transform="rotate(66 705.2 418.8)"/><ellipse cx="701.5" cy="352.6" rx="1.8" ry="1.7" transform="rotate(5 701.5 352.6)"/><ellipse cx="693.9" cy="422.9" rx="3.4" ry="3.7" transform="rotate(150 693.9 422.9)"/><ellipse cx="731.3" cy="379.7" rx="3.9" ry="1.8" transform="rotate(68 731.3 379.7)"/><ellipse cx="687.5" cy="420.1" rx="2.5" ry="2" transform="rotate(107 687.5 420.1)"/><ellipse cx="723.2" cy="356.5" rx="2.5" ry="2.2" transform="rotate(77 723.2 356.5)"/><ellipse cx="702.9" cy="399.4" rx="3" ry="1.8" transform="rotate(124 702.9 399.4)"/><ellipse cx="648.4" cy="379.8" rx="4.1" ry="2.6" transform="rotate(1 648.4 379.8)"/><ellipse cx="688" cy="378" rx="4.6" ry="2.9" transform="rotate(75 688 378)"/></g>
<g fill="#FFFFFF" filter="url(#b1)" opacity="0.8"><ellipse cx="558.3" cy="433" rx="2" ry="1.3" transform="rotate(115 558.3 433)"/><ellipse cx="502.7" cy="436.1" rx="2.8" ry="1.6" transform="rotate(41 502.7 436.1)"/><ellipse cx="546.9" cy="431.4" rx="2.8" ry="2.2" transform="rotate(119 546.9 431.4)"/><ellipse cx="552.8" cy="392.1" rx="2.2" ry="2.1" transform="rotate(95 552.8 392.1)"/><ellipse cx="562" cy="401.3" rx="3.4" ry="3.5" transform="rotate(132 562 401.3)"/><ellipse cx="520.4" cy="383.6" rx="2.6" ry="1.4" transform="rotate(156 520.4 383.6)"/><ellipse cx="521.6" cy="429.4" rx="3.8" ry="1.7" transform="rotate(71 521.6 429.4)"/><ellipse cx="521.2" cy="391.2" rx="1.6" ry="1.9" transform="rotate(153 521.2 391.2)"/><ellipse cx="583.3" cy="383.4" rx="2.5" ry="1.5" transform="rotate(45 583.3 383.4)"/><ellipse cx="526.3" cy="421.6" rx="2.4" ry="1.1" transform="rotate(79 526.3 421.6)"/><ellipse cx="556.5" cy="394.7" rx="3.2" ry="1.7" transform="rotate(109 556.5 394.7)"/><ellipse cx="517.6" cy="425.1" rx="2.5" ry="2.3" transform="rotate(113 517.6 425.1)"/><ellipse cx="544.2" cy="383.4" rx="3.5" ry="2.7" transform="rotate(104 544.2 383.4)"/><ellipse cx="526.8" cy="433.9" rx="3.2" ry="1.9" transform="rotate(177 526.8 433.9)"/><ellipse cx="534.6" cy="439.7" rx="2.7" ry="1.7" transform="rotate(60 534.6 439.7)"/><ellipse cx="573.2" cy="415" rx="1.8" ry="2.6" transform="rotate(86 573.2 415)"/><ellipse cx="553.9" cy="431.8" rx="2.6" ry="2.2" transform="rotate(148 553.9 431.8)"/><ellipse cx="520.3" cy="385.6" rx="3.4" ry="1.9" transform="rotate(160 520.3 385.6)"/><ellipse cx="588.5" cy="412.5" rx="4" ry="3.1" transform="rotate(52 588.5 412.5)"/><ellipse cx="501.1" cy="420.7" rx="3.3" ry="1.8" transform="rotate(102 501.1 420.7)"/><ellipse cx="525" cy="421.9" rx="2.9" ry="1.4" transform="rotate(99 525 421.9)"/><ellipse cx="532" cy="423.5" rx="1.9" ry="1.5" transform="rotate(73 532 423.5)"/><ellipse cx="557.6" cy="386.4" rx="1.6" ry="1.6" transform="rotate(90 557.6 386.4)"/><ellipse cx="516.7" cy="386" rx="2.8" ry="3.6" transform="rotate(92 516.7 386)"/><ellipse cx="539.7" cy="384" rx="2.2" ry="2.2" transform="rotate(21 539.7 384)"/><ellipse cx="594.8" cy="408.6" rx="2.6" ry="2.1" transform="rotate(33 594.8 408.6)"/><ellipse cx="557.1" cy="410.6" rx="2" ry="2" transform="rotate(142 557.1 410.6)"/><ellipse cx="573.3" cy="434.2" rx="1.7" ry="2.9" transform="rotate(40 573.3 434.2)"/><ellipse cx="545.7" cy="438.5" rx="2.3" ry="2" transform="rotate(120 545.7 438.5)"/><ellipse cx="526.9" cy="410.5" rx="2.4" ry="3.2" transform="rotate(90 526.9 410.5)"/></g>
<g fill="#FFFFFF" filter="url(#b1)" opacity="0.7"><ellipse cx="642.5" cy="334.2" rx="3.5" ry="1.7" transform="rotate(105 642.5 334.2)"/><ellipse cx="606.6" cy="303.7" rx="1.9" ry="1.9" transform="rotate(136 606.6 303.7)"/><ellipse cx="620.6" cy="376.3" rx="3.6" ry="2.3" transform="rotate(7 620.6 376.3)"/><ellipse cx="626.8" cy="359.7" rx="3.8" ry="1.2" transform="rotate(176 626.8 359.7)"/><ellipse cx="648.7" cy="338.8" rx="3.3" ry="1.4" transform="rotate(120 648.7 338.8)"/><ellipse cx="632.5" cy="312.9" rx="1.8" ry="2.9" transform="rotate(24 632.5 312.9)"/><ellipse cx="560.9" cy="306.6" rx="3.5" ry="1.8" transform="rotate(178 560.9 306.6)"/><ellipse cx="633.3" cy="321.1" rx="3.3" ry="1" transform="rotate(125 633.3 321.1)"/><ellipse cx="580.5" cy="302.6" rx="2.8" ry="2.3" transform="rotate(18 580.5 302.6)"/><ellipse cx="656.3" cy="331.1" rx="3.5" ry="2.2" transform="rotate(58 656.3 331.1)"/><ellipse cx="587" cy="336.2" rx="3.5" ry="1.5" transform="rotate(74 587 336.2)"/><ellipse cx="571.5" cy="325.3" rx="2.9" ry="2.3" transform="rotate(52 571.5 325.3)"/><ellipse cx="563" cy="302.1" rx="2.3" ry="1.6" transform="rotate(47 563 302.1)"/><ellipse cx="651.4" cy="348.1" rx="3.2" ry="2.5" transform="rotate(76 651.4 348.1)"/><ellipse cx="597" cy="305" rx="3.5" ry="1.5" transform="rotate(166 597 305)"/><ellipse cx="629.8" cy="349.9" rx="2.6" ry="1.8" transform="rotate(30 629.8 349.9)"/><ellipse cx="603.9" cy="379.9" rx="1.8" ry="2" transform="rotate(44 603.9 379.9)"/><ellipse cx="671" cy="333.1" rx="1.5" ry="1.3" transform="rotate(127 671 333.1)"/><ellipse cx="664.3" cy="372.5" rx="1.6" ry="2.1" transform="rotate(85 664.3 372.5)"/><ellipse cx="596.1" cy="324.4" rx="1.8" ry="1.7" transform="rotate(173 596.1 324.4)"/><ellipse cx="565.3" cy="377.1" rx="2" ry="1.5" transform="rotate(95 565.3 377.1)"/><ellipse cx="652.3" cy="340.7" rx="3.1" ry="1.4" transform="rotate(92 652.3 340.7)"/><ellipse cx="675.5" cy="300.5" rx="1.7" ry="3.1" transform="rotate(75 675.5 300.5)"/><ellipse cx="645.3" cy="344.8" rx="2.5" ry="2.1" transform="rotate(5 645.3 344.8)"/><ellipse cx="596.7" cy="359" rx="2.1" ry="1.7" transform="rotate(64 596.7 359)"/><ellipse cx="638.1" cy="359.5" rx="3.9" ry="1.6" transform="rotate(60 638.1 359.5)"/><ellipse cx="567" cy="319.2" rx="3" ry="1.9" transform="rotate(32 567 319.2)"/><ellipse cx="571.8" cy="314.3" rx="2.8" ry="2" transform="rotate(101 571.8 314.3)"/><ellipse cx="600.8" cy="334.5" rx="1.6" ry="2.9" transform="rotate(65 600.8 334.5)"/><ellipse cx="647.1" cy="321.8" rx="2" ry="1.2" transform="rotate(109 647.1 321.8)"/></g>
<g fill="#FFFDF4" filter="url(#b1)"><circle cx="112" cy="14" r="7"/><circle cx="162" cy="52" r="7"/><circle cx="186" cy="86" r="7"/><circle cx="163" cy="93" r="7"/><ellipse cx="60" cy="123" rx="5" ry="9" transform="rotate(15 60 123)"/><ellipse cx="57" cy="156" rx="4" ry="6" transform="rotate(10 57 156)"/><ellipse cx="90" cy="160" rx="4" ry="9" transform="rotate(-50 90 160)"/><circle cx="354" cy="10" r="9"/><ellipse cx="508" cy="42" rx="14" ry="8" transform="rotate(10 508 42)"/><circle cx="452" cy="36" r="10"/><circle cx="500" cy="40" r="8"/><circle cx="567" cy="36" r="6"/><ellipse cx="430" cy="72" rx="18" ry="6" transform="rotate(0 430 72)"/><ellipse cx="590" cy="62" rx="8" ry="5" transform="rotate(30 590 62)"/><circle cx="124" cy="497" r="7"/><circle cx="178" cy="578" r="9"/><circle cx="210" cy="570" r="8"/><circle cx="312" cy="573" r="13"/><circle cx="260" cy="580" r="6"/><ellipse cx="18" cy="330" rx="4" ry="8" transform="rotate(0 18 330)"/><circle cx="493" cy="545" r="5"/><circle cx="608" cy="543" r="5"/><circle cx="497" cy="570" r="5"/></g>
<g transform="translate(238 366) scale(1 1.0)"><circle r="29.5" fill="none" stroke="#C6923F" stroke-width="21" filter="url(#b1)"/><circle r="34.1" fill="none" stroke="#E2B45C" stroke-width="8.4" stroke-dasharray="3.5 3" filter="url(#b1)"/><circle r="25.7" fill="none" stroke="#F6DC8C" stroke-width="6.3" stroke-dasharray="2.5 5" filter="url(#b1)"/></g>
<g transform="rotate(35 140 404)" filter="url(#b1)"><ellipse cx="140" cy="404" rx="42" ry="24" fill="#EFA452"/><ellipse cx="140" cy="404" rx="32" ry="17" fill="none" stroke="#FBE3A6" stroke-width="11" stroke-dasharray="7 2.5"/><ellipse cx="142" cy="405" rx="22" ry="10" fill="#E2685A"/></g>
<g filter="url(#b1)"><line x1="588.8" y1="450.7" x2="557.1" y2="616.5" stroke="#C8A8A0" stroke-width="30" stroke-linecap="round"/><line x1="579.4" y1="435.8" x2="545.3" y2="614.2" stroke="#8E6E6A" stroke-width="4.2" stroke-linecap="round"/><line x1="590.4" y1="445.2" x2="557.6" y2="616.6" stroke="#FDF8F2" stroke-width="18.6" stroke-linecap="round"/><line x1="604" y1="439.9" x2="569.7" y2="618.9" stroke="#B89088" stroke-width="3" stroke-linecap="round"/></g>
<path d="M634 93C627.3 92.2 609 89.5 594 88C579 86.5 565 85.4 544 84C523 82.6 493.2 80.5 468 79.7C442.8 78.9 420.2 78.5 393 79.2C365.8 79.9 328.2 82.4 305 84C281.8 85.6 269.5 86.8 254 89C238.5 91.2 224.5 94.5 212 97C199.5 99.5 188.7 101.1 179 104C169.3 106.9 162.3 110.4 154 114.4C145.7 118.4 137.3 122.6 129 128C120.7 133.4 111.6 140.7 104 147C96.4 153.3 89.8 158.8 83.5 166C77.2 173.2 71.1 182.5 66 190C60.9 197.5 57.2 202.8 53 211C48.8 219.2 44.7 229.3 41 239C37.3 248.7 33.5 259.5 31 269C28.5 278.5 26.7 287.3 26 296C25.3 304.7 25.8 311.3 27 321C28.2 330.7 30.3 343.9 33 354C35.7 364.1 39.2 373.6 43 381.5C46.8 389.4 50.2 394.9 56 401.6C61.8 408.3 69.2 415.8 78 421.7C86.8 427.6 98 432.2 109 437C120 441.8 132.3 446.7 144 450.6C155.7 454.6 164.8 456.9 179 460.7C193.2 464.5 212.2 469.5 229 473.3C245.8 477.1 263.2 479.8 280 483.3C296.8 486.9 311.2 490 330 494.6C348.8 499.2 376.2 507.2 393 511C409.8 514.8 418.5 515.6 431 517.3C443.5 519 455.5 520.5 468 521C480.5 521.5 493.3 521.1 506 520.5C518.7 519.9 529.3 519.1 544 517.3C558.7 515.5 577.3 512.4 594 509.7C610.7 507 627.2 504.2 644 500.9C660.8 497.5 678.2 493.6 695 489.6C711.8 485.6 729.2 480.9 745 477C760.8 473.1 782.5 467.8 790 466" fill="none" stroke="#3CB4E6" stroke-width="4.6" stroke-dasharray="32 13"/>
<path d="M671 0 L654.5 42.7 L639.4 80.4 L621.8 123.2 L609.2 153.4 L569 169.7 L526.3 191 L513.7 194.8 L468.4 207.4 L425.7 223.8 L393 241.4 L350 270.5 L304.7 286 L269.5 296.5 L216.7 321.1 L176.5 338.7 L131.2 355.1 L88.5 371.4 L50.8 391" fill="none" stroke="#000" stroke-width="7.5" stroke-dasharray="32 13"/>
<path d="M790 254 L727.4 246.4 L682.2 240.1 L654.5 236.3 L619.3 248.9 L581.6 261.5 L551.4 271.5 L533.8 281.6 L511.2 301 L455.9 326.2 L408 345 L360 357.6 L317.3 374 L279.6 395.3 L239.4 419.2 L196.6 439.3 L174 446.9 L149 451" fill="none" stroke="#000" stroke-width="7.5" stroke-dasharray="32 13" stroke-dashoffset="10"/>
<path d="M558 291 L565 307.4 L381 387 L373.5 372" fill="none" stroke="#000" stroke-width="6"/>
</g>
<text x="22.5" y="56.5" font-size="46" font-weight="bold">a</text>
<text x="17.5" y="568.8" font-size="45.5" font-style="italic">t<tspan font-size="26" dy="13.5" dx="-1">0</tspan></text></g>
<g id="panel-b"><g clip-path="url(#clipB)">
<g filter="url(#b16)"><rect x="661.9" y="-144" width="151.6" height="149.5" fill="#F08D9B"/><rect x="812.5" y="-144" width="51.6" height="149.5" fill="#F08D9B"/><rect x="863.1" y="-144" width="51.6" height="149.5" fill="#F2B0BD"/><rect x="913.6" y="-144" width="51.6" height="149.5" fill="#F2B0BF"/><rect x="964.2" y="-144" width="51.6" height="149.5" fill="#EE8192"/><rect x="1014.8" y="-144" width="51.6" height="149.5" fill="#EC6878"/><rect x="1065.3" y="-144" width="51.6" height="149.5" fill="#EE7483"/><rect x="1115.9" y="-144" width="51.6" height="149.5" fill="#EE7887"/><rect x="1166.4" y="-144" width="51.6" height="149.5" fill="#EE7F8D"/><rect x="1217" y="-144" width="51.6" height="149.5" fill="#F08D9B"/><rect x="1267.6" y="-144" width="51.6" height="149.5" fill="#F08D9B"/><rect x="1318.1" y="-144" width="51.6" height="149.5" fill="#F0929D"/><rect x="1368.7" y="-144" width="51.6" height="149.5" fill="#EE8592"/><rect x="1419.2" y="-144" width="51.6" height="149.5" fill="#EC7885"/><rect x="1469.8" y="-144" width="51.6" height="149.5" fill="#EE7A89"/><rect x="1520.4" y="-144" width="51.6" height="149.5" fill="#F6C1C1"/><rect x="1570.9" y="-144" width="51.6" height="149.5" fill="#FCF0E8"/><rect x="1621.5" y="-144" width="151.6" height="149.5" fill="#FCF0E8"/><rect x="661.9" y="4.5" width="151.6" height="49.5" fill="#F08D9B"/><rect x="812.5" y="4.5" width="51.6" height="49.5" fill="#F08D9B"/><rect x="863.1" y="4.5" width="51.6" height="49.5" fill="#F2B0BD"/><rect x="913.6" y="4.5" width="51.6" height="49.5" fill="#F2B0BF"/><rect x="964.2" y="4.5" width="51.6" height="49.5" fill="#EE8192"/><rect x="1014.8" y="4.5" width="51.6" height="49.5" fill="#EC6878"/><rect x="1065.3" y="4.5" width="51.6" height="49.5" fill="#EE7483"/><rect x="1115.9" y="4.5" width="51.6" height="49.5" fill="#EE7887"/><rect x="1166.4" y="4.5" width="51.6" height="49.5" fill="#EE7F8D"/><rect x="1217" y="4.5" width="51.6" height="49.5" fill="#F08D9B"/><rect x="1267.6" y="4.5" width="51.6" height="49.5" fill="#F08D9B"/><rect x="1318.1" y="4.5" width="51.6" height="49.5" fill="#F0929D"/><rect x="1368.7" y="4.5" width="51.6" height="49.5" fill="#EE8592"/><rect x="1419.2" y="4.5" width="51.6" height="49.5" fill="#EC7885"/><rect x="1469.8" y="4.5" width="51.6" height="49.5" fill="#EE7A89"/><rect x="1520.4" y="4.5" width="51.6" height="49.5" fill="#F6C1C1"/><rect x="1570.9" y="4.5" width="51.6" height="49.5" fill="#FCF0E8"/><rect x="1621.5" y="4.5" width="151.6" height="49.5" fill="#FCF0E8"/><rect x="661.9" y="53" width="151.6" height="49.5" fill="#F08D98"/><rect x="812.5" y="53" width="51.6" height="49.5" fill="#F08D98"/><rect x="863.1" y="53" width="51.6" height="49.5" fill="#F2ACB9"/><rect x="913.6" y="53" width="51.6" height="49.5" fill="#F09FAE"/><rect x="964.2" y="53" width="51.6" height="49.5" fill="#EE8992"/><rect x="1014.8" y="53" width="51.6" height="49.5" fill="#EC787F"/><rect x="1065.3" y="53" width="51.6" height="49.5" fill="#F08D8D"/><rect x="1115.9" y="53" width="51.6" height="49.5" fill="#EE8585"/><rect x="1166.4" y="53" width="51.6" height="49.5" fill="#EE7C81"/><rect x="1217" y="53" width="51.6" height="49.5" fill="#EC6876"/><rect x="1267.6" y="53" width="51.6" height="49.5" fill="#EE7481"/><rect x="1318.1" y="53" width="51.6" height="49.5" fill="#EE7885"/><rect x="1368.7" y="53" width="51.6" height="49.5" fill="#EC6674"/><rect x="1419.2" y="53" width="51.6" height="49.5" fill="#EC6C7A"/><rect x="1469.8" y="53" width="51.6" height="49.5" fill="#EC707F"/><rect x="1520.4" y="53" width="51.6" height="49.5" fill="#F0B996"/><rect x="1570.9" y="53" width="51.6" height="49.5" fill="#FFFCF8"/><rect x="1621.5" y="53" width="151.6" height="49.5" fill="#FFFCF8"/><rect x="661.9" y="101.5" width="151.6" height="49.5" fill="#F08992"/><rect x="812.5" y="101.5" width="51.6" height="49.5" fill="#F08992"/><rect x="863.1" y="101.5" width="51.6" height="49.5" fill="#F2A7B0"/><rect x="913.6" y="101.5" width="51.6" height="49.5" fill="#F0969B"/><rect x="964.2" y="101.5" width="51.6" height="49.5" fill="#EE928D"/><rect x="1014.8" y="101.5" width="51.6" height="49.5" fill="#EC7478"/><rect x="1065.3" y="101.5" width="51.6" height="49.5" fill="#F2A39B"/><rect x="1115.9" y="101.5" width="51.6" height="49.5" fill="#F6B9B0"/><rect x="1166.4" y="101.5" width="51.6" height="49.5" fill="#F4A7A8"/><rect x="1217" y="101.5" width="51.6" height="49.5" fill="#F09498"/><rect x="1267.6" y="101.5" width="51.6" height="49.5" fill="#F4A7A8"/><rect x="1318.1" y="101.5" width="51.6" height="49.5" fill="#F6B7B2"/><rect x="1368.7" y="101.5" width="51.6" height="49.5" fill="#F4AEAA"/><rect x="1419.2" y="101.5" width="51.6" height="49.5" fill="#F09094"/><rect x="1469.8" y="101.5" width="51.6" height="49.5" fill="#E87C68"/><rect x="1520.4" y="101.5" width="51.6" height="49.5" fill="#DC8D64"/><rect x="1570.9" y="101.5" width="51.6" height="49.5" fill="#F4D2B9"/><rect x="1621.5" y="101.5" width="151.6" height="49.5" fill="#F4D2B9"/><rect x="661.9" y="150" width="151.6" height="49.5" fill="#EE7C87"/><rect x="812.5" y="150" width="51.6" height="49.5" fill="#EE7C87"/><rect x="863.1" y="150" width="51.6" height="49.5" fill="#F29FA8"/><rect x="913.6" y="150" width="51.6" height="49.5" fill="#EE898B"/><rect x="964.2" y="150" width="51.6" height="49.5" fill="#EE928D"/><rect x="1014.8" y="150" width="51.6" height="49.5" fill="#EE8985"/><rect x="1065.3" y="150" width="51.6" height="49.5" fill="#FADFDB"/><rect x="1115.9" y="150" width="51.6" height="49.5" fill="#FFFAFA"/><rect x="1166.4" y="150" width="51.6" height="49.5" fill="#FCECEC"/><rect x="1217" y="150" width="51.6" height="49.5" fill="#F6B4B5"/><rect x="1267.6" y="150" width="51.6" height="49.5" fill="#F08D92"/><rect x="1318.1" y="150" width="51.6" height="49.5" fill="#F4A7A5"/><rect x="1368.7" y="150" width="51.6" height="49.5" fill="#EE8185"/><rect x="1419.2" y="150" width="51.6" height="49.5" fill="#EA7C6C"/><rect x="1469.8" y="150" width="51.6" height="49.5" fill="#DC8960"/><rect x="1520.4" y="150" width="51.6" height="49.5" fill="#D8855C"/><rect x="1570.9" y="150" width="51.6" height="49.5" fill="#DC8D64"/><rect x="1621.5" y="150" width="151.6" height="49.5" fill="#DC8D64"/><rect x="661.9" y="198.5" width="151.6" height="49.5" fill="#F08189"/><rect x="812.5" y="198.5" width="51.6" height="49.5" fill="#F08189"/><rect x="863.1" y="198.5" width="51.6" height="49.5" fill="#EE7C85"/><rect x="913.6" y="198.5" width="51.6" height="49.5" fill="#EA6C70"/><rect x="964.2" y="198.5" width="51.6" height="49.5" fill="#EC7878"/><rect x="1014.8" y="198.5" width="51.6" height="49.5" fill="#F0928D"/><rect x="1065.3" y="198.5" width="51.6" height="49.5" fill="#FCE8E8"/><rect x="1115.9" y="198.5" width="51.6" height="49.5" fill="#FFFFFF"/><rect x="1166.4" y="198.5" width="51.6" height="49.5" fill="#FFFCFC"/><rect x="1217" y="198.5" width="51.6" height="49.5" fill="#FFF8F8"/><rect x="1267.6" y="198.5" width="51.6" height="49.5" fill="#FADBDB"/><rect x="1318.1" y="198.5" width="51.6" height="49.5" fill="#F4A7A8"/><rect x="1368.7" y="198.5" width="51.6" height="49.5" fill="#F0857C"/><rect x="1419.2" y="198.5" width="51.6" height="49.5" fill="#F08974"/><rect x="1469.8" y="198.5" width="51.6" height="49.5" fill="#E88D6C"/><rect x="1520.4" y="198.5" width="51.6" height="49.5" fill="#E48964"/><rect x="1570.9" y="198.5" width="51.6" height="49.5" fill="#E48D6C"/><rect x="1621.5" y="198.5" width="151.6" height="49.5" fill="#E48D6C"/><rect x="661.9" y="247" width="151.6" height="49.5" fill="#EE747C"/><rect x="812.5" y="247" width="51.6" height="49.5" fill="#EE747C"/><rect x="863.1" y="247" width="51.6" height="49.5" fill="#EC7478"/><rect x="913.6" y="247" width="51.6" height="49.5" fill="#EC7274"/><rect x="964.2" y="247" width="51.6" height="49.5" fill="#EC7876"/><rect x="1014.8" y="247" width="51.6" height="49.5" fill="#EE8581"/><rect x="1065.3" y="247" width="51.6" height="49.5" fill="#F4B0B0"/><rect x="1115.9" y="247" width="51.6" height="49.5" fill="#FADFDF"/><rect x="1166.4" y="247" width="51.6" height="49.5" fill="#FCE4E4"/><rect x="1217" y="247" width="51.6" height="49.5" fill="#FCE8E8"/><rect x="1267.6" y="247" width="51.6" height="49.5" fill="#F8D2D2"/><rect x="1318.1" y="247" width="51.6" height="49.5" fill="#F4A7A3"/><rect x="1368.7" y="247" width="51.6" height="49.5" fill="#F07C6C"/><rect x="1419.2" y="247" width="51.6" height="49.5" fill="#EE644B"/><rect x="1469.8" y="247" width="51.6" height="49.5" fill="#F4B09F"/><rect x="1520.4" y="247" width="51.6" height="49.5" fill="#F4AC9B"/><rect x="1570.9" y="247" width="51.6" height="49.5" fill="#F4B4A3"/><rect x="1621.5" y="247" width="151.6" height="49.5" fill="#F4B4A3"/><rect x="661.9" y="295.5" width="151.6" height="49.5" fill="#EC707A"/><rect x="812.5" y="295.5" width="51.6" height="49.5" fill="#EC707A"/><rect x="863.1" y="295.5" width="51.6" height="49.5" fill="#EA7678"/><rect x="913.6" y="295.5" width="51.6" height="49.5" fill="#EC8581"/><rect x="964.2" y="295.5" width="51.6" height="49.5" fill="#EE8B85"/><rect x="1014.8" y="295.5" width="51.6" height="49.5" fill="#EE8983"/><rect x="1065.3" y="295.5" width="51.6" height="49.5" fill="#F09289"/><rect x="1115.9" y="295.5" width="51.6" height="49.5" fill="#F6B9B5"/><rect x="1166.4" y="295.5" width="51.6" height="49.5" fill="#F8D7D2"/><rect x="1217" y="295.5" width="51.6" height="49.5" fill="#F8CECE"/><rect x="1267.6" y="295.5" width="51.6" height="49.5" fill="#F6C1C1"/><rect x="1318.1" y="295.5" width="51.6" height="49.5" fill="#F4A7A3"/><rect x="1368.7" y="295.5" width="51.6" height="49.5" fill="#EE6858"/><rect x="1419.2" y="295.5" width="51.6" height="49.5" fill="#EE503D"/><rect x="1469.8" y="295.5" width="51.6" height="49.5" fill="#F08570"/><rect x="1520.4" y="295.5" width="51.6" height="49.5" fill="#F6C1B0"/><rect x="1570.9" y="295.5" width="51.6" height="49.5" fill="#F8D2C1"/><rect x="1621.5" y="295.5" width="151.6" height="49.5" fill="#F8D2C1"/><rect x="661.9" y="344" width="151.6" height="49.5" fill="#EE7C85"/><rect x="812.5" y="344" width="51.6" height="49.5" fill="#EE7C85"/><rect x="863.1" y="344" width="51.6" height="49.5" fill="#EA747A"/><rect x="913.6" y="344" width="51.6" height="49.5" fill="#EC837F"/><rect x="964.2" y="344" width="51.6" height="49.5" fill="#EE8983"/><rect x="1014.8" y="344" width="51.6" height="49.5" fill="#EE877F"/><rect x="1065.3" y="344" width="51.6" height="49.5" fill="#EE8981"/><rect x="1115.9" y="344" width="51.6" height="49.5" fill="#F09A92"/><rect x="1166.4" y="344" width="51.6" height="49.5" fill="#F4ACA3"/><rect x="1217" y="344" width="51.6" height="49.5" fill="#F09292"/><rect x="1267.6" y="344" width="51.6" height="49.5" fill="#F09692"/><rect x="1318.1" y="344" width="51.6" height="49.5" fill="#F4A79F"/><rect x="1368.7" y="344" width="51.6" height="49.5" fill="#EE604D"/><rect x="1419.2" y="344" width="51.6" height="49.5" fill="#F07C6C"/><rect x="1469.8" y="344" width="51.6" height="49.5" fill="#F6BDAC"/><rect x="1520.4" y="344" width="51.6" height="49.5" fill="#FAE3D2"/><rect x="1570.9" y="344" width="51.6" height="49.5" fill="#FAE4D7"/><rect x="1621.5" y="344" width="151.6" height="49.5" fill="#FAE4D7"/><rect x="661.9" y="392.5" width="151.6" height="49.5" fill="#EE7881"/><rect x="812.5" y="392.5" width="51.6" height="49.5" fill="#EE7881"/><rect x="863.1" y="392.5" width="51.6" height="49.5" fill="#EC7278"/><rect x="913.6" y="392.5" width="51.6" height="49.5" fill="#EC7C78"/><rect x="964.2" y="392.5" width="51.6" height="49.5" fill="#EE8178"/><rect x="1014.8" y="392.5" width="51.6" height="49.5" fill="#EE746C"/><rect x="1065.3" y="392.5" width="51.6" height="49.5" fill="#EE7870"/><rect x="1115.9" y="392.5" width="51.6" height="49.5" fill="#EE7C74"/><rect x="1166.4" y="392.5" width="51.6" height="49.5" fill="#F08981"/><rect x="1217" y="392.5" width="51.6" height="49.5" fill="#F0928D"/><rect x="1267.6" y="392.5" width="51.6" height="49.5" fill="#F4A7A3"/><rect x="1318.1" y="392.5" width="51.6" height="49.5" fill="#F4ACA3"/><rect x="1368.7" y="392.5" width="51.6" height="49.5" fill="#F4B0A3"/><rect x="1419.2" y="392.5" width="51.6" height="49.5" fill="#F6B9AC"/><rect x="1469.8" y="392.5" width="51.6" height="49.5" fill="#F4AC9B"/><rect x="1520.4" y="392.5" width="51.6" height="49.5" fill="#F8D2C1"/><rect x="1570.9" y="392.5" width="51.6" height="49.5" fill="#F6C1B0"/><rect x="1621.5" y="392.5" width="151.6" height="49.5" fill="#F6C1B0"/><rect x="661.9" y="441" width="151.6" height="49.5" fill="#EC6E76"/><rect x="812.5" y="441" width="51.6" height="49.5" fill="#EC6E76"/><rect x="863.1" y="441" width="51.6" height="49.5" fill="#EC6C70"/><rect x="913.6" y="441" width="51.6" height="49.5" fill="#EC706E"/><rect x="964.2" y="441" width="51.6" height="49.5" fill="#EC7470"/><rect x="1014.8" y="441" width="51.6" height="49.5" fill="#EC706C"/><rect x="1065.3" y="441" width="51.6" height="49.5" fill="#EE7C74"/><rect x="1115.9" y="441" width="51.6" height="49.5" fill="#F08981"/><rect x="1166.4" y="441" width="51.6" height="49.5" fill="#F08D85"/><rect x="1217" y="441" width="51.6" height="49.5" fill="#EE877F"/><rect x="1267.6" y="441" width="51.6" height="49.5" fill="#F09086"/><rect x="1318.1" y="441" width="51.6" height="49.5" fill="#F0988B"/><rect x="1368.7" y="441" width="51.6" height="49.5" fill="#F09A8D"/><rect x="1419.2" y="441" width="51.6" height="49.5" fill="#F09889"/><rect x="1469.8" y="441" width="51.6" height="49.5" fill="#EE8B7F"/><rect x="1520.4" y="441" width="51.6" height="49.5" fill="#EE8578"/><rect x="1570.9" y="441" width="51.6" height="49.5" fill="#EE7C74"/><rect x="1621.5" y="441" width="151.6" height="49.5" fill="#EE7C74"/><rect x="661.9" y="489.5" width="151.6" height="49.5" fill="#F0898D"/><rect x="812.5" y="489.5" width="51.6" height="49.5" fill="#F0898D"/><rect x="863.1" y="489.5" width="51.6" height="49.5" fill="#EE7C81"/><rect x="913.6" y="489.5" width="51.6" height="49.5" fill="#EC686E"/><rect x="964.2" y="489.5" width="51.6" height="49.5" fill="#EC666A"/><rect x="1014.8" y="489.5" width="51.6" height="49.5" fill="#EC6C6C"/><rect x="1065.3" y="489.5" width="51.6" height="49.5" fill="#EC726E"/><rect x="1115.9" y="489.5" width="51.6" height="49.5" fill="#EE7A74"/><rect x="1166.4" y="489.5" width="51.6" height="49.5" fill="#EE7F76"/><rect x="1217" y="489.5" width="51.6" height="49.5" fill="#EC726C"/><rect x="1267.6" y="489.5" width="51.6" height="49.5" fill="#EC746E"/><rect x="1318.1" y="489.5" width="51.6" height="49.5" fill="#EE7A74"/><rect x="1368.7" y="489.5" width="51.6" height="49.5" fill="#EC7670"/><rect x="1419.2" y="489.5" width="51.6" height="49.5" fill="#EE8178"/><rect x="1469.8" y="489.5" width="51.6" height="49.5" fill="#EC746E"/><rect x="1520.4" y="489.5" width="51.6" height="49.5" fill="#EA6A66"/><rect x="1570.9" y="489.5" width="51.6" height="49.5" fill="#EA6868"/><rect x="1621.5" y="489.5" width="151.6" height="49.5" fill="#EA6868"/><rect x="661.9" y="538" width="151.6" height="49.5" fill="#EE787F"/><rect x="812.5" y="538" width="51.6" height="49.5" fill="#EE787F"/><rect x="863.1" y="538" width="51.6" height="49.5" fill="#EE7A7F"/><rect x="913.6" y="538" width="51.6" height="49.5" fill="#EC6C70"/><rect x="964.2" y="538" width="51.6" height="49.5" fill="#EA6268"/><rect x="1014.8" y="538" width="51.6" height="49.5" fill="#EA5E62"/><rect x="1065.3" y="538" width="51.6" height="49.5" fill="#EA5E5E"/><rect x="1115.9" y="538" width="51.6" height="49.5" fill="#EA6060"/><rect x="1166.4" y="538" width="51.6" height="49.5" fill="#EA6464"/><rect x="1217" y="538" width="51.6" height="49.5" fill="#EC6E6A"/><rect x="1267.6" y="538" width="51.6" height="49.5" fill="#EC6C68"/><rect x="1318.1" y="538" width="51.6" height="49.5" fill="#EE7C76"/><rect x="1368.7" y="538" width="51.6" height="49.5" fill="#EE837A"/><rect x="1419.2" y="538" width="51.6" height="49.5" fill="#F08B83"/><rect x="1469.8" y="538" width="51.6" height="49.5" fill="#EE7F76"/><rect x="1520.4" y="538" width="51.6" height="49.5" fill="#EC726E"/><rect x="1570.9" y="538" width="51.6" height="49.5" fill="#EA6868"/><rect x="1621.5" y="538" width="151.6" height="49.5" fill="#EA6868"/><rect x="661.9" y="586.5" width="151.6" height="149.5" fill="#EE787F"/><rect x="812.5" y="586.5" width="51.6" height="149.5" fill="#EE787F"/><rect x="863.1" y="586.5" width="51.6" height="149.5" fill="#EE7A7F"/><rect x="913.6" y="586.5" width="51.6" height="149.5" fill="#EC6C70"/><rect x="964.2" y="586.5" width="51.6" height="149.5" fill="#EA6268"/><rect x="1014.8" y="586.5" width="51.6" height="149.5" fill="#EA5E62"/><rect x="1065.3" y="586.5" width="51.6" height="149.5" fill="#EA5E5E"/><rect x="1115.9" y="586.5" width="51.6" height="149.5" fill="#EA6060"/><rect x="1166.4" y="586.5" width="51.6" height="149.5" fill="#EA6464"/><rect x="1217" y="586.5" width="51.6" height="149.5" fill="#EC6E6A"/><rect x="1267.6" y="586.5" width="51.6" height="149.5" fill="#EC6C68"/><rect x="1318.1" y="586.5" width="51.6" height="149.5" fill="#EE7C76"/><rect x="1368.7" y="586.5" width="51.6" height="149.5" fill="#EE837A"/><rect x="1419.2" y="586.5" width="51.6" height="149.5" fill="#F08B83"/><rect x="1469.8" y="586.5" width="51.6" height="149.5" fill="#EE7F76"/><rect x="1520.4" y="586.5" width="51.6" height="149.5" fill="#EC726E"/><rect x="1570.9" y="586.5" width="51.6" height="149.5" fill="#EA6868"/><rect x="1621.5" y="586.5" width="151.6" height="149.5" fill="#EA6868"/></g>
<path d="M805 -5C811.2 -14.5 837.5 -9.5 842 -5C846.5 -0.5 835.7 14.5 832 22C828.3 29.5 824.5 35 820 40C815.5 45 807.5 59.5 805 52C802.5 44.5 798.8 4.5 805 -5Z" fill="#F6E0E8" opacity="0.9" filter="url(#b4)"/>
<path d="M813 22 L825 14" fill="none" stroke="#A04060" stroke-width="5" stroke-linecap="round" opacity="0.7" filter="url(#b2)"/>
<path d="M878 10C875 15 865.5 29.2 860 40C854.5 50.8 847.5 69.2 845 75" fill="none" stroke="#FFFFFF" stroke-width="8" stroke-linecap="round" opacity="0.5" filter="url(#b5)"/>
<path d="M985 20 L992 40" fill="none" stroke="#D05A70" stroke-width="8" stroke-linecap="round" opacity="0.6" filter="url(#b4)"/>
<path d="M1000 62C1010 58 1038.3 42.7 1060 38C1081.7 33.3 1103.3 32 1130 34C1156.7 36 1188.3 43.3 1220 50C1251.7 56.7 1286.7 67.7 1320 74C1353.3 80.3 1390 85.7 1420 88C1450 90.3 1486.7 88 1500 88" fill="none" stroke="#E4546A" stroke-width="14" stroke-linecap="round" opacity="0.45" filter="url(#b7)"/>
<path d="M1230 36C1246.7 37 1296.7 39.3 1330 42C1363.3 44.7 1401.7 49 1430 52C1458.3 55 1488.3 58.7 1500 60" fill="none" stroke="#F8C0CA" stroke-width="10" stroke-linecap="round" opacity="0.6" filter="url(#b6)"/>
<path d="M1552 -10C1567.5 -14.2 1625.3 -33.3 1640 -10C1654.7 13.3 1646.7 105.8 1640 130C1633.3 154.2 1610.8 139.2 1600 135C1589.2 130.8 1578 115.8 1575 105C1572 94.2 1584.2 80 1582 70C1579.8 60 1567.8 54.2 1562 45C1556.2 35.8 1548.7 24.2 1547 15C1545.3 5.8 1536.5 -5.8 1552 -10Z" fill="#FFFFFF" opacity="1" filter="url(#b3)"/>
<path d="M1590 -5C1595 -8.2 1631.7 -9.5 1640 -5C1648.3 -0.5 1645 18.8 1640 22C1635 25.2 1618.3 18.5 1610 14C1601.7 9.5 1585 -1.8 1590 -5Z" fill="#E8A070" opacity="0.8" filter="url(#b3)"/>
<path d="M1515 75C1529.7 56.5 1549.2 45.8 1560 45C1570.8 44.2 1577.7 60 1580 70C1582.3 80 1571 94 1574 105C1577 116 1587 131.5 1598 136C1609 140.5 1633 114.7 1640 132C1647 149.3 1653.3 222 1640 240C1626.7 258 1583.3 240.7 1560 240C1536.7 239.3 1514.7 250 1500 236C1485.3 222 1469.5 182.8 1472 156C1474.5 129.2 1500.3 93.5 1515 75Z" fill="#D88A60" opacity="0.5" filter="url(#b5)"/>
<path d="M1048 280C1043.8 266 1063.3 230 1075 212C1086.7 194 1100.8 181.7 1118 172C1135.2 162.3 1158 156 1178 154C1198 152 1221.3 155 1238 160C1254.7 165 1269.7 175 1278 184C1286.3 193 1289.7 203.7 1288 214C1286.3 224.3 1279.3 237 1268 246C1256.7 255 1238 261.7 1220 268C1202 274.3 1180 279.3 1160 284C1140 288.7 1118.7 296.7 1100 296C1081.3 295.3 1052.2 294 1048 280Z" fill="#FFFFFF" opacity="0.9" filter="url(#b7)"/>
<ellipse cx="1170" cy="222" rx="80" ry="42" transform="rotate(-20 1170 222)" fill="#FFFFFF" opacity="0.9" filter="url(#b6)"/>
<ellipse cx="1255" cy="262" rx="55" ry="22" transform="rotate(-25 1255 262)" fill="#FFFFFF" opacity="0.5" filter="url(#b8)"/>
<ellipse cx="1300" cy="285" rx="70" ry="20" transform="rotate(-27 1300 285)" fill="#FFF0F0" opacity="0.45" filter="url(#b8)"/>
<path d="M1050 60C1049.7 68.3 1051.3 91.7 1048 110C1044.7 128.3 1037.2 153.3 1030 170C1022.8 186.7 1012.5 198.3 1005 210C997.5 221.7 988.3 235 985 240" fill="none" stroke="#E65468" stroke-width="9" stroke-linecap="round" opacity="0.65" filter="url(#b3)"/>
<path d="M925 200C927.5 204.2 931.7 218.7 940 225C948.3 231.3 965 236.8 975 238C985 239.2 995.8 233 1000 232" fill="none" stroke="#E65468" stroke-width="8" stroke-linecap="round" opacity="0.65" filter="url(#b3)"/>
<path d="M1150 80C1155 84.2 1166.7 97.5 1180 105C1193.3 112.5 1221.7 121.7 1230 125" fill="none" stroke="#E86070" stroke-width="5" stroke-linecap="round" opacity="0.45" filter="url(#b3)"/>
<path d="M1000 232C1005 235 1020 242.8 1030 250C1040 257.2 1055 270.8 1060 275" fill="none" stroke="#E65468" stroke-width="5" stroke-linecap="round" opacity="0.5" filter="url(#b3)"/>
<path d="M1392 298C1397 287.8 1408.3 286 1420 284C1431.7 282 1450 281.3 1462 286C1474 290.7 1487.3 301 1492 312C1496.7 323 1494.3 341 1490 352C1485.7 363 1476 372.3 1466 378C1456 383.7 1440.7 386.7 1430 386C1419.3 385.3 1408.7 380.8 1402 374C1395.3 367.2 1391.7 357.7 1390 345C1388.3 332.3 1387 308.2 1392 298Z" fill="#EE4634" opacity="0.95" filter="url(#b3)"/>
<ellipse cx="1443" cy="350" rx="15" ry="8" fill="#FFFFFF" opacity="0.9" filter="url(#b2)"/>
<ellipse cx="1572" cy="400" rx="34" ry="32" fill="#FFF8EE" opacity="0.7" filter="url(#b7)"/>
<ellipse cx="873" cy="515" rx="20" ry="34" transform="rotate(20 873 515)" fill="#FAD0D0" opacity="0.6" filter="url(#b8)"/>
<path d="M1230 465C1241.7 469.2 1275 484.5 1300 490C1325 495.5 1356.7 495.5 1380 498C1403.3 500.5 1420 500.5 1440 505C1460 509.5 1480 518.3 1500 525C1520 531.7 1540 539.2 1560 545C1580 550.8 1610 557.5 1620 560" fill="none" stroke="#E4485A" stroke-width="7" stroke-linecap="round" opacity="0.5" filter="url(#b3)"/>
<path d="M1225 530C1235.8 525.8 1270.8 510.8 1290 505C1309.2 499.2 1331.7 496.7 1340 495" fill="none" stroke="#E4485A" stroke-width="5" stroke-linecap="round" opacity="0.4" filter="url(#b3)"/>
<g stroke="#F6DAB6" stroke-width="2" opacity="0.7" filter="url(#b1)">
<line x1="1500" y1="110" x2="1520" y2="100"/>
<line x1="1505" y1="120.5" x2="1525" y2="110.5"/>
<line x1="1510" y1="131" x2="1530" y2="121"/>
<line x1="1515" y1="141.5" x2="1535" y2="131.5"/>
<line x1="1520" y1="124" x2="1540" y2="114"/>
<line x1="1525" y1="134.5" x2="1545" y2="124.5"/>
<line x1="1530" y1="145" x2="1550" y2="135"/>
<line x1="1535" y1="155.5" x2="1555" y2="145.5"/>
<line x1="1540" y1="138" x2="1560" y2="128"/>
<line x1="1545" y1="148.5" x2="1565" y2="138.5"/>
<line x1="1550" y1="159" x2="1570" y2="149"/>
<line x1="1555" y1="169.5" x2="1575" y2="159.5"/>
<line x1="1560" y1="152" x2="1580" y2="142"/>
<line x1="1565" y1="162.5" x2="1585" y2="152.5"/>
<line x1="1570" y1="173" x2="1590" y2="163"/>
<line x1="1575" y1="183.5" x2="1595" y2="173.5"/>
<line x1="1580" y1="166" x2="1600" y2="156"/>
<line x1="1585" y1="176.5" x2="1605" y2="166.5"/>
<line x1="1590" y1="187" x2="1610" y2="177"/>
<line x1="1595" y1="197.5" x2="1615" y2="187.5"/>
<line x1="1600" y1="180" x2="1620" y2="170"/>
<line x1="1605" y1="190.5" x2="1625" y2="180.5"/>
<line x1="1610" y1="201" x2="1630" y2="191"/>
<line x1="1615" y1="211.5" x2="1635" y2="201.5"/>
<line x1="1520" y1="150" x2="1536" y2="165"/>
<line x1="1527" y1="170" x2="1543" y2="185"/>
<line x1="1534" y1="190" x2="1550" y2="205"/>
<line x1="1541" y1="150" x2="1557" y2="165"/>
<line x1="1548" y1="170" x2="1564" y2="185"/>
<line x1="1555" y1="190" x2="1571" y2="205"/>
<line x1="1562" y1="150" x2="1578" y2="165"/>
<line x1="1569" y1="170" x2="1585" y2="185"/>
<line x1="1576" y1="190" x2="1592" y2="205"/>
<line x1="1583" y1="150" x2="1599" y2="165"/>
<line x1="1590" y1="170" x2="1606" y2="185"/>
<line x1="1597" y1="190" x2="1613" y2="205"/>
<line x1="1604" y1="150" x2="1620" y2="165"/>
<line x1="1611" y1="170" x2="1627" y2="185"/>
</g>
<g fill="#EE6A6A" filter="url(#b1)" opacity="0.6"><ellipse cx="1328.4" cy="283.2" rx="4.4" ry="4.2" transform="rotate(166 1328.4 283.2)"/><ellipse cx="1215.5" cy="265.3" rx="4.8" ry="3.8" transform="rotate(20 1215.5 265.3)"/><ellipse cx="1299.1" cy="251" rx="3.6" ry="1.9" transform="rotate(39 1299.1 251)"/><ellipse cx="1263.1" cy="294.6" rx="4.3" ry="2.2" transform="rotate(24 1263.1 294.6)"/><ellipse cx="1327.3" cy="243.2" rx="2" ry="2.8" transform="rotate(38 1327.3 243.2)"/><ellipse cx="1396.7" cy="291.7" rx="2.9" ry="3.8" transform="rotate(122 1396.7 291.7)"/><ellipse cx="1248.9" cy="296.2" rx="4.1" ry="4.6" transform="rotate(53 1248.9 296.2)"/><ellipse cx="1278.6" cy="245.8" rx="2.4" ry="1.4" transform="rotate(108 1278.6 245.8)"/><ellipse cx="1210.6" cy="279.1" rx="3" ry="2.7" transform="rotate(86 1210.6 279.1)"/><ellipse cx="1270" cy="266.3" rx="4.1" ry="2.1" transform="rotate(4 1270 266.3)"/><ellipse cx="1352.5" cy="289.9" rx="2.1" ry="3" transform="rotate(104 1352.5 289.9)"/><ellipse cx="1211.7" cy="238" rx="2.5" ry="2.9" transform="rotate(136 1211.7 238)"/><ellipse cx="1386.6" cy="296.2" rx="3" ry="2.3" transform="rotate(139 1386.6 296.2)"/><ellipse cx="1230.5" cy="283.6" rx="4.4" ry="2.4" transform="rotate(170 1230.5 283.6)"/><ellipse cx="1227.3" cy="257.1" rx="3.8" ry="3.2" transform="rotate(166 1227.3 257.1)"/><ellipse cx="1313.6" cy="255.3" rx="3" ry="1.4" transform="rotate(26 1313.6 255.3)"/><ellipse cx="1340.9" cy="299.8" rx="2.5" ry="2.1" transform="rotate(96 1340.9 299.8)"/><ellipse cx="1287.1" cy="250.4" rx="3.8" ry="3.3" transform="rotate(75 1287.1 250.4)"/><ellipse cx="1220.6" cy="294.5" rx="2.1" ry="3.2" transform="rotate(23 1220.6 294.5)"/><ellipse cx="1349" cy="296.7" rx="3.9" ry="2.4" transform="rotate(78 1349 296.7)"/><ellipse cx="1238.4" cy="289.9" rx="2.9" ry="3.4" transform="rotate(153 1238.4 289.9)"/><ellipse cx="1395.4" cy="264.5" rx="3.5" ry="3.1" transform="rotate(52 1395.4 264.5)"/><ellipse cx="1286.7" cy="244.5" rx="3.1" ry="4.9" transform="rotate(112 1286.7 244.5)"/><ellipse cx="1304.9" cy="257" rx="2.3" ry="2.5" transform="rotate(156 1304.9 257)"/><ellipse cx="1278.7" cy="286.1" rx="4.3" ry="3.4" transform="rotate(136 1278.7 286.1)"/><ellipse cx="1279.1" cy="280.8" rx="2.8" ry="3.1" transform="rotate(124 1279.1 280.8)"/><ellipse cx="1265.8" cy="296.5" rx="3.9" ry="1.9" transform="rotate(98 1265.8 296.5)"/><ellipse cx="1257.6" cy="278.7" rx="3.4" ry="3.7" transform="rotate(143 1257.6 278.7)"/><ellipse cx="1276.1" cy="276.9" rx="4.2" ry="3" transform="rotate(151 1276.1 276.9)"/><ellipse cx="1375.3" cy="279.7" rx="4.9" ry="3.7" transform="rotate(95 1375.3 279.7)"/><ellipse cx="1241.6" cy="289.4" rx="4.8" ry="2.9" transform="rotate(129 1241.6 289.4)"/><ellipse cx="1348.8" cy="246.2" rx="4.3" ry="3.1" transform="rotate(75 1348.8 246.2)"/><ellipse cx="1328.5" cy="285.4" rx="3.9" ry="2.1" transform="rotate(28 1328.5 285.4)"/><ellipse cx="1293.8" cy="277.3" rx="2.7" ry="3.3" transform="rotate(7 1293.8 277.3)"/><ellipse cx="1299.6" cy="249.7" rx="2.2" ry="1.6" transform="rotate(32 1299.6 249.7)"/><ellipse cx="1246.7" cy="237.3" rx="3.4" ry="2.5" transform="rotate(106 1246.7 237.3)"/><ellipse cx="1255.2" cy="293.7" rx="2" ry="2.1" transform="rotate(73 1255.2 293.7)"/><ellipse cx="1231.9" cy="289" rx="3.1" ry="1.7" transform="rotate(17 1231.9 289)"/><ellipse cx="1313.6" cy="257.1" rx="3.7" ry="4.4" transform="rotate(75 1313.6 257.1)"/><ellipse cx="1364.5" cy="276.7" rx="3.1" ry="1.9" transform="rotate(101 1364.5 276.7)"/><ellipse cx="1391.9" cy="297.9" rx="3.8" ry="2.9" transform="rotate(0 1391.9 297.9)"/><ellipse cx="1230.5" cy="271.8" rx="3.8" ry="2" transform="rotate(160 1230.5 271.8)"/><ellipse cx="1281.4" cy="263.1" rx="2.7" ry="2.8" transform="rotate(68 1281.4 263.1)"/><ellipse cx="1392.6" cy="294.4" rx="3.8" ry="2.8" transform="rotate(89 1392.6 294.4)"/><ellipse cx="1288.9" cy="255.7" rx="5" ry="2.2" transform="rotate(85 1288.9 255.7)"/><ellipse cx="1233.2" cy="275.4" rx="3.3" ry="2.6" transform="rotate(148 1233.2 275.4)"/><ellipse cx="1212.5" cy="269.6" rx="2.8" ry="4.3" transform="rotate(44 1212.5 269.6)"/><ellipse cx="1260.9" cy="245.1" rx="5" ry="2.3" transform="rotate(85 1260.9 245.1)"/><ellipse cx="1332.5" cy="274.3" rx="4.2" ry="2.1" transform="rotate(54 1332.5 274.3)"/><ellipse cx="1311.4" cy="256.8" rx="2.9" ry="2.6" transform="rotate(64 1311.4 256.8)"/></g>
<g fill="#FFFFFF" filter="url(#b1)" opacity="0.8"><ellipse cx="1371.6" cy="246.8" rx="2.1" ry="2.2" transform="rotate(164 1371.6 246.8)"/><ellipse cx="1398.7" cy="240.9" rx="2.1" ry="3.7" transform="rotate(103 1398.7 240.9)"/><ellipse cx="1364.6" cy="252.2" rx="3.9" ry="3.9" transform="rotate(70 1364.6 252.2)"/><ellipse cx="1391.9" cy="195.5" rx="3.2" ry="2.8" transform="rotate(150 1391.9 195.5)"/><ellipse cx="1362" cy="226.3" rx="3.1" ry="4.9" transform="rotate(25 1362 226.3)"/><ellipse cx="1320.9" cy="241.4" rx="4" ry="1.9" transform="rotate(105 1320.9 241.4)"/><ellipse cx="1384.2" cy="178.9" rx="2.9" ry="4.7" transform="rotate(119 1384.2 178.9)"/><ellipse cx="1234.9" cy="263.9" rx="5.9" ry="5.1" transform="rotate(8 1234.9 263.9)"/><ellipse cx="1390" cy="198.5" rx="4.6" ry="5" transform="rotate(24 1390 198.5)"/><ellipse cx="1285.6" cy="289.3" rx="2.6" ry="3.1" transform="rotate(29 1285.6 289.3)"/><ellipse cx="1348.3" cy="175.7" rx="2.4" ry="1.9" transform="rotate(10 1348.3 175.7)"/><ellipse cx="1339.3" cy="266.5" rx="5.5" ry="1.8" transform="rotate(56 1339.3 266.5)"/><ellipse cx="1344" cy="233.6" rx="5.8" ry="1.8" transform="rotate(125 1344 233.6)"/><ellipse cx="1258.7" cy="252.1" rx="4" ry="4.4" transform="rotate(111 1258.7 252.1)"/><ellipse cx="1280" cy="241.7" rx="3" ry="3.8" transform="rotate(24 1280 241.7)"/><ellipse cx="1274.5" cy="218.3" rx="4.9" ry="2.3" transform="rotate(117 1274.5 218.3)"/><ellipse cx="1246.2" cy="256.8" rx="2.4" ry="2" transform="rotate(42 1246.2 256.8)"/><ellipse cx="1396.6" cy="232.5" rx="3.3" ry="2.7" transform="rotate(130 1396.6 232.5)"/><ellipse cx="1240.2" cy="189.6" rx="5.8" ry="2.9" transform="rotate(20 1240.2 189.6)"/><ellipse cx="1414.8" cy="256.5" rx="5.3" ry="2.1" transform="rotate(63 1414.8 256.5)"/><ellipse cx="1274.7" cy="213.3" rx="4.5" ry="2.4" transform="rotate(24 1274.7 213.3)"/><ellipse cx="1387.9" cy="254.2" rx="5.2" ry="3.5" transform="rotate(93 1387.9 254.2)"/><ellipse cx="1342.6" cy="244.5" rx="5" ry="2" transform="rotate(5 1342.6 244.5)"/><ellipse cx="1268.5" cy="175.1" rx="5.6" ry="3.5" transform="rotate(0 1268.5 175.1)"/><ellipse cx="1319.3" cy="285.7" rx="4.5" ry="2.7" transform="rotate(17 1319.3 285.7)"/><ellipse cx="1259.4" cy="190.7" rx="3.5" ry="3.3" transform="rotate(27 1259.4 190.7)"/><ellipse cx="1278.3" cy="206.1" rx="2.6" ry="1.9" transform="rotate(86 1278.3 206.1)"/><ellipse cx="1236.1" cy="290.2" rx="3.5" ry="4.9" transform="rotate(121 1236.1 290.2)"/><ellipse cx="1319.6" cy="292.9" rx="2.5" ry="3" transform="rotate(121 1319.6 292.9)"/><ellipse cx="1368.6" cy="191.2" rx="2.8" ry="1.3" transform="rotate(14 1368.6 191.2)"/><ellipse cx="1306.2" cy="296.6" rx="3.5" ry="2.4" transform="rotate(50 1306.2 296.6)"/><ellipse cx="1369.1" cy="263.3" rx="2.7" ry="2.5" transform="rotate(169 1369.1 263.3)"/><ellipse cx="1352.7" cy="226" rx="5.9" ry="1.1" transform="rotate(140 1352.7 226)"/><ellipse cx="1307.9" cy="175.8" rx="4.2" ry="4.5" transform="rotate(63 1307.9 175.8)"/><ellipse cx="1247.8" cy="179.3" rx="5.6" ry="3.8" transform="rotate(9 1247.8 179.3)"/><ellipse cx="1276.3" cy="176.6" rx="3.6" ry="1.4" transform="rotate(73 1276.3 176.6)"/><ellipse cx="1288.1" cy="176.7" rx="2.2" ry="3.5" transform="rotate(91 1288.1 176.7)"/><ellipse cx="1306.4" cy="239.1" rx="2.3" ry="1.8" transform="rotate(97 1306.4 239.1)"/><ellipse cx="1405" cy="247.8" rx="5.4" ry="1.5" transform="rotate(97 1405 247.8)"/><ellipse cx="1322.4" cy="244.3" rx="3.5" ry="3.9" transform="rotate(164 1322.4 244.3)"/><ellipse cx="1288.4" cy="228.4" rx="5.3" ry="1.6" transform="rotate(56 1288.4 228.4)"/><ellipse cx="1246.7" cy="270.4" rx="5.3" ry="1.8" transform="rotate(14 1246.7 270.4)"/><ellipse cx="1276.5" cy="181" rx="3.7" ry="2.7" transform="rotate(11 1276.5 181)"/><ellipse cx="1363.1" cy="176.2" rx="2.8" ry="2.2" transform="rotate(17 1363.1 176.2)"/><ellipse cx="1309.9" cy="210.8" rx="5" ry="4" transform="rotate(117 1309.9 210.8)"/><ellipse cx="1374.3" cy="244.7" rx="3.8" ry="4.4" transform="rotate(171 1374.3 244.7)"/><ellipse cx="1368.3" cy="261.2" rx="3.1" ry="3.6" transform="rotate(23 1368.3 261.2)"/><ellipse cx="1242.5" cy="192" rx="3.1" ry="3" transform="rotate(11 1242.5 192)"/><ellipse cx="1375.1" cy="242.4" rx="2.1" ry="1.2" transform="rotate(64 1375.1 242.4)"/><ellipse cx="1393.4" cy="293.4" rx="4.4" ry="2.1" transform="rotate(65 1393.4 293.4)"/></g>
<g fill="#FFFFFF" filter="url(#b1)" opacity="0.9"><ellipse cx="1578.4" cy="432.7" rx="4" ry="1.4" transform="rotate(30 1578.4 432.7)"/><ellipse cx="1590.9" cy="394.6" rx="4.8" ry="2.4" transform="rotate(57 1590.9 394.6)"/><ellipse cx="1611.5" cy="396.1" rx="3" ry="2.7" transform="rotate(168 1611.5 396.1)"/><ellipse cx="1573.3" cy="447" rx="3.6" ry="1.7" transform="rotate(75 1573.3 447)"/><ellipse cx="1523.3" cy="407.7" rx="3.2" ry="3.2" transform="rotate(38 1523.3 407.7)"/><ellipse cx="1547.7" cy="370.1" rx="3.5" ry="2.4" transform="rotate(43 1547.7 370.1)"/><ellipse cx="1555.2" cy="374.8" rx="4.9" ry="4.1" transform="rotate(111 1555.2 374.8)"/><ellipse cx="1560.1" cy="364.3" rx="4.4" ry="1.7" transform="rotate(30 1560.1 364.3)"/><ellipse cx="1529.9" cy="421.8" rx="4.7" ry="2" transform="rotate(58 1529.9 421.8)"/><ellipse cx="1588.3" cy="436.3" rx="3.7" ry="3" transform="rotate(1 1588.3 436.3)"/><ellipse cx="1571.2" cy="408.7" rx="2.1" ry="1.9" transform="rotate(4 1571.2 408.7)"/><ellipse cx="1551.2" cy="388.3" rx="3.2" ry="2.8" transform="rotate(176 1551.2 388.3)"/><ellipse cx="1589.3" cy="417" rx="3.4" ry="2.9" transform="rotate(106 1589.3 417)"/><ellipse cx="1587.9" cy="402.2" rx="2.5" ry="1" transform="rotate(64 1587.9 402.2)"/><ellipse cx="1578" cy="426" rx="4" ry="2.5" transform="rotate(49 1578 426)"/><ellipse cx="1591.6" cy="357.2" rx="4.1" ry="3.8" transform="rotate(161 1591.6 357.2)"/><ellipse cx="1588.8" cy="433.8" rx="4.1" ry="2.2" transform="rotate(93 1588.8 433.8)"/><ellipse cx="1609.6" cy="373.9" rx="4.9" ry="2.4" transform="rotate(0 1609.6 373.9)"/><ellipse cx="1559" cy="367.8" rx="3.8" ry="4.4" transform="rotate(110 1559 367.8)"/><ellipse cx="1558.7" cy="360.9" rx="3.9" ry="2.9" transform="rotate(67 1558.7 360.9)"/><ellipse cx="1608.7" cy="371.3" rx="2.6" ry="2" transform="rotate(161 1608.7 371.3)"/><ellipse cx="1536.7" cy="413.3" rx="4.2" ry="1.2" transform="rotate(101 1536.7 413.3)"/><ellipse cx="1603" cy="437.9" rx="4" ry="2.1" transform="rotate(95 1603 437.9)"/><ellipse cx="1610.5" cy="380.2" rx="2.5" ry="3.6" transform="rotate(33 1610.5 380.2)"/><ellipse cx="1576.3" cy="410.3" rx="2.1" ry="1.7" transform="rotate(116 1576.3 410.3)"/><ellipse cx="1589" cy="422.9" rx="1.7" ry="2.9" transform="rotate(172 1589 422.9)"/><ellipse cx="1551.8" cy="435" rx="3.8" ry="2.9" transform="rotate(125 1551.8 435)"/><ellipse cx="1604.1" cy="397.7" rx="1.9" ry="1.3" transform="rotate(16 1604.1 397.7)"/><ellipse cx="1535.2" cy="411.6" rx="1.9" ry="3.6" transform="rotate(146 1535.2 411.6)"/><ellipse cx="1600.4" cy="421.3" rx="4.7" ry="3.9" transform="rotate(173 1600.4 421.3)"/><ellipse cx="1557.4" cy="395.9" rx="3.9" ry="2.2" transform="rotate(72 1557.4 395.9)"/><ellipse cx="1574.3" cy="387.5" rx="1.9" ry="2.5" transform="rotate(123 1574.3 387.5)"/><ellipse cx="1569.6" cy="446.3" rx="4.8" ry="1.5" transform="rotate(129 1569.6 446.3)"/><ellipse cx="1549.6" cy="361.7" rx="3.2" ry="2.4" transform="rotate(165 1549.6 361.7)"/><ellipse cx="1558.2" cy="379.1" rx="3.2" ry="3.5" transform="rotate(103 1558.2 379.1)"/><ellipse cx="1549.6" cy="383.7" rx="4.5" ry="1.7" transform="rotate(75 1549.6 383.7)"/><ellipse cx="1543.8" cy="416.6" rx="1.8" ry="1.3" transform="rotate(85 1543.8 416.6)"/><ellipse cx="1618.5" cy="404.1" rx="2.9" ry="2.6" transform="rotate(64 1618.5 404.1)"/><ellipse cx="1596.6" cy="386.1" rx="1.6" ry="1.7" transform="rotate(68 1596.6 386.1)"/><ellipse cx="1571.7" cy="355.3" rx="2.3" ry="3.5" transform="rotate(84 1571.7 355.3)"/><ellipse cx="1528.5" cy="377.9" rx="4.8" ry="2.9" transform="rotate(9 1528.5 377.9)"/><ellipse cx="1559.3" cy="427.8" rx="3" ry="3.4" transform="rotate(116 1559.3 427.8)"/><ellipse cx="1583.6" cy="353.6" rx="1.6" ry="3" transform="rotate(157 1583.6 353.6)"/><ellipse cx="1595.6" cy="439.2" rx="2" ry="3" transform="rotate(174 1595.6 439.2)"/><ellipse cx="1562.1" cy="377.1" rx="3.1" ry="2.1" transform="rotate(22 1562.1 377.1)"/><ellipse cx="1536.9" cy="395.8" rx="1.8" ry="2.7" transform="rotate(159 1536.9 395.8)"/><ellipse cx="1579.9" cy="363.6" rx="2.3" ry="4.6" transform="rotate(5 1579.9 363.6)"/><ellipse cx="1538.5" cy="392.9" rx="2.4" ry="2.8" transform="rotate(139 1538.5 392.9)"/><ellipse cx="1535.2" cy="401.8" rx="4.9" ry="2.2" transform="rotate(19 1535.2 401.8)"/><ellipse cx="1584.4" cy="387.5" rx="2.8" ry="2.5" transform="rotate(173 1584.4 387.5)"/><ellipse cx="1544.1" cy="406.9" rx="2.4" ry="3" transform="rotate(24 1544.1 406.9)"/><ellipse cx="1568.1" cy="420.6" rx="1.5" ry="3" transform="rotate(90 1568.1 420.6)"/><ellipse cx="1581.1" cy="429.3" rx="1.7" ry="1.7" transform="rotate(69 1581.1 429.3)"/><ellipse cx="1549.8" cy="395" rx="3.8" ry="3.2" transform="rotate(95 1549.8 395)"/><ellipse cx="1591.3" cy="443.7" rx="4.8" ry="3.2" transform="rotate(29 1591.3 443.7)"/><ellipse cx="1564.9" cy="423.6" rx="3.4" ry="2.8" transform="rotate(53 1564.9 423.6)"/><ellipse cx="1575.2" cy="433" rx="2" ry="2" transform="rotate(101 1575.2 433)"/><ellipse cx="1540.7" cy="395.4" rx="1.7" ry="1.2" transform="rotate(25 1540.7 395.4)"/><ellipse cx="1547.6" cy="428.4" rx="4.1" ry="2.2" transform="rotate(112 1547.6 428.4)"/><ellipse cx="1558.9" cy="412.9" rx="2.4" ry="2.3" transform="rotate(78 1558.9 412.9)"/></g>
<g fill="#FFFFFF" filter="url(#b1)" opacity="0.6"><ellipse cx="1382.5" cy="321.2" rx="2" ry="1.5" transform="rotate(101 1382.5 321.2)"/><ellipse cx="1231.6" cy="305.2" rx="4.4" ry="3" transform="rotate(7 1231.6 305.2)"/><ellipse cx="1330.1" cy="314.1" rx="4" ry="2.9" transform="rotate(39 1330.1 314.1)"/><ellipse cx="1391.3" cy="313.3" rx="1.7" ry="2.1" transform="rotate(12 1391.3 313.3)"/><ellipse cx="1308.2" cy="377.9" rx="4.6" ry="2.2" transform="rotate(115 1308.2 377.9)"/><ellipse cx="1373.4" cy="314.5" rx="4.1" ry="1.6" transform="rotate(0 1373.4 314.5)"/><ellipse cx="1358.9" cy="361.9" rx="4.7" ry="1.8" transform="rotate(38 1358.9 361.9)"/><ellipse cx="1274.8" cy="413.6" rx="2.2" ry="1.2" transform="rotate(14 1274.8 413.6)"/><ellipse cx="1302.3" cy="374.6" rx="3.8" ry="1.2" transform="rotate(88 1302.3 374.6)"/><ellipse cx="1346.8" cy="353.7" rx="3.5" ry="2.7" transform="rotate(48 1346.8 353.7)"/><ellipse cx="1313.9" cy="364.3" rx="4.7" ry="2.9" transform="rotate(75 1313.9 364.3)"/><ellipse cx="1363.3" cy="400.3" rx="2.5" ry="1.2" transform="rotate(64 1363.3 400.3)"/><ellipse cx="1381.2" cy="331.8" rx="3.7" ry="3.7" transform="rotate(20 1381.2 331.8)"/><ellipse cx="1360.9" cy="340.4" rx="1.9" ry="3.4" transform="rotate(104 1360.9 340.4)"/><ellipse cx="1238.5" cy="416.7" rx="2.8" ry="3.2" transform="rotate(46 1238.5 416.7)"/><ellipse cx="1299.4" cy="339.5" rx="1.8" ry="1.5" transform="rotate(73 1299.4 339.5)"/><ellipse cx="1377.8" cy="307.5" rx="2.6" ry="2.1" transform="rotate(142 1377.8 307.5)"/><ellipse cx="1382.4" cy="360.8" rx="1.9" ry="1.8" transform="rotate(4 1382.4 360.8)"/><ellipse cx="1326" cy="334.8" rx="1.9" ry="3.2" transform="rotate(170 1326 334.8)"/><ellipse cx="1309.2" cy="312.3" rx="4.2" ry="1.5" transform="rotate(15 1309.2 312.3)"/><ellipse cx="1397.8" cy="365.1" rx="3" ry="1.9" transform="rotate(175 1397.8 365.1)"/><ellipse cx="1302.7" cy="325.1" rx="3.3" ry="3.3" transform="rotate(114 1302.7 325.1)"/><ellipse cx="1386.2" cy="339.1" rx="4.3" ry="1.9" transform="rotate(9 1386.2 339.1)"/><ellipse cx="1389.6" cy="355.9" rx="3.1" ry="3.7" transform="rotate(90 1389.6 355.9)"/><ellipse cx="1278.3" cy="389.3" rx="2.4" ry="2.8" transform="rotate(108 1278.3 389.3)"/><ellipse cx="1252.8" cy="324.3" rx="3.9" ry="2.2" transform="rotate(179 1252.8 324.3)"/><ellipse cx="1252.7" cy="320.1" rx="1.8" ry="2.5" transform="rotate(154 1252.7 320.1)"/><ellipse cx="1257.7" cy="383.8" rx="1.9" ry="2.2" transform="rotate(64 1257.7 383.8)"/><ellipse cx="1238.9" cy="386.5" rx="1.9" ry="2.8" transform="rotate(106 1238.9 386.5)"/><ellipse cx="1338.6" cy="358.6" rx="4.6" ry="3" transform="rotate(60 1338.6 358.6)"/><ellipse cx="1379.1" cy="315.9" rx="3" ry="2.9" transform="rotate(23 1379.1 315.9)"/><ellipse cx="1341.4" cy="390.8" rx="4" ry="1.5" transform="rotate(56 1341.4 390.8)"/><ellipse cx="1375" cy="379.4" rx="3" ry="3.7" transform="rotate(61 1375 379.4)"/><ellipse cx="1354.4" cy="360.6" rx="4" ry="3.3" transform="rotate(28 1354.4 360.6)"/><ellipse cx="1314.1" cy="300.1" rx="4.3" ry="3.9" transform="rotate(7 1314.1 300.1)"/><ellipse cx="1321" cy="357.4" rx="1.9" ry="2.2" transform="rotate(153 1321 357.4)"/><ellipse cx="1270.5" cy="399.5" rx="3.8" ry="2.3" transform="rotate(41 1270.5 399.5)"/><ellipse cx="1276.5" cy="301.2" rx="3.8" ry="3.1" transform="rotate(90 1276.5 301.2)"/><ellipse cx="1303.9" cy="336.8" rx="4.1" ry="2.2" transform="rotate(136 1303.9 336.8)"/><ellipse cx="1305.6" cy="382.3" rx="1.7" ry="2.2" transform="rotate(26 1305.6 382.3)"/><ellipse cx="1239.7" cy="301.7" rx="4.2" ry="1.4" transform="rotate(78 1239.7 301.7)"/><ellipse cx="1366.5" cy="357.2" rx="3.3" ry="1.4" transform="rotate(138 1366.5 357.2)"/><ellipse cx="1336" cy="400.2" rx="3.6" ry="3.7" transform="rotate(111 1336 400.2)"/><ellipse cx="1233.4" cy="406.1" rx="5" ry="1.2" transform="rotate(61 1233.4 406.1)"/><ellipse cx="1247" cy="344.3" rx="1.8" ry="1.1" transform="rotate(77 1247 344.3)"/><ellipse cx="1281" cy="387.5" rx="2.9" ry="2" transform="rotate(161 1281 387.5)"/><ellipse cx="1347.2" cy="326" rx="2.9" ry="2.2" transform="rotate(4 1347.2 326)"/><ellipse cx="1307.5" cy="392.1" rx="3.9" ry="3.8" transform="rotate(137 1307.5 392.1)"/><ellipse cx="1378" cy="410.1" rx="4.3" ry="2.5" transform="rotate(118 1378 410.1)"/><ellipse cx="1380.1" cy="385.6" rx="3.1" ry="1.4" transform="rotate(45 1380.1 385.6)"/></g>
<g fill="#FFFDF4" filter="url(#b1)"><ellipse cx="993" cy="52" rx="9" ry="5" transform="rotate(-35 993 52)"/><ellipse cx="985" cy="61" rx="7" ry="4" transform="rotate(-35 985 61)"/><ellipse cx="946" cy="100" rx="8" ry="5" transform="rotate(-40 946 100)"/><ellipse cx="968" cy="114" rx="6" ry="4" transform="rotate(-50 968 114)"/><ellipse cx="1008" cy="90" rx="6" ry="4" transform="rotate(-40 1008 90)"/><ellipse cx="1106" cy="33" rx="8" ry="5" transform="rotate(-10 1106 33)"/><ellipse cx="1122" cy="32" rx="8" ry="5" transform="rotate(-10 1122 32)"/><ellipse cx="1115" cy="17" rx="9" ry="4" transform="rotate(-20 1115 17)"/><ellipse cx="1240" cy="18" rx="10" ry="7" transform="rotate(-10 1240 18)"/><ellipse cx="1268" cy="24" rx="12" ry="6" transform="rotate(10 1268 24)"/><ellipse cx="1305" cy="66" rx="8" ry="6" transform="rotate(0 1305 66)"/><ellipse cx="1342" cy="69" rx="12" ry="8" transform="rotate(0 1342 69)"/><circle cx="1364" cy="66" r="5"/><circle cx="1372" cy="74" r="5"/><circle cx="1415" cy="72" r="4"/><ellipse cx="920" cy="130" rx="5" ry="9" transform="rotate(20 920 130)"/><ellipse cx="900" cy="170" rx="6" ry="10" transform="rotate(30 900 170)"/><ellipse cx="875" cy="205" rx="7" ry="11" transform="rotate(20 875 205)"/><ellipse cx="862" cy="238" rx="6" ry="9" transform="rotate(10 862 238)"/><circle cx="833" cy="205" r="5"/><circle cx="836" cy="172" r="4"/><circle cx="858" cy="120" r="4"/><ellipse cx="852" cy="350" rx="3" ry="8" transform="rotate(0 852 350)"/><ellipse cx="857" cy="412" rx="3" ry="6" transform="rotate(0 857 412)"/><ellipse cx="984" cy="258" rx="3" ry="6" transform="rotate(-20 984 258)"/><ellipse cx="998" cy="351" rx="2" ry="5" transform="rotate(-20 998 351)"/></g>
<g transform="translate(1086 398) scale(1 1.0)"><circle r="30.5" fill="none" stroke="#C6923F" stroke-width="25" filter="url(#b1)"/><circle r="36" fill="none" stroke="#E2B45C" stroke-width="10" stroke-dasharray="3.5 3" filter="url(#b1)"/><circle r="26" fill="none" stroke="#F6DC8C" stroke-width="7.5" stroke-dasharray="2.5 5" filter="url(#b1)"/></g>
<g transform="rotate(35 980 446)" filter="url(#b1)"><ellipse cx="980" cy="446" rx="44" ry="29" fill="#EFA452"/><ellipse cx="980" cy="446" rx="33" ry="20" fill="none" stroke="#FBE3A6" stroke-width="12.1" stroke-dasharray="7 2.5"/><ellipse cx="982" cy="447" rx="22" ry="11" fill="#E2685A"/></g>
<g filter="url(#b1)"><line x1="1449.5" y1="464.8" x2="1423.7" y2="616.6" stroke="#C8A8A0" stroke-width="30" stroke-linecap="round"/><line x1="1439.8" y1="450.1" x2="1411.8" y2="614.6" stroke="#8E6E6A" stroke-width="4.2" stroke-linecap="round"/><line x1="1451" y1="459.3" x2="1424.3" y2="616.7" stroke="#FDF8F2" stroke-width="18.6" stroke-linecap="round"/><line x1="1464.5" y1="453.6" x2="1436.4" y2="618.7" stroke="#B89088" stroke-width="3" stroke-linecap="round"/></g>
<path d="M1499 90C1491.3 90.4 1467.2 92.3 1453 92.5C1438.8 92.7 1427 92 1414 91.2C1401 90.5 1388.1 89.5 1375 88C1361.9 86.5 1348.7 84.5 1335.5 82C1322.3 79.5 1309.1 76.3 1296 73C1282.9 69.7 1270 65.5 1257 62.4C1244 59.3 1231.1 57.2 1218 54.6C1204.9 52 1189.6 48.7 1178.6 46.8C1167.6 44.9 1160.8 44.3 1152 43C1143.2 41.7 1134.7 39.8 1126 39C1117.3 38.2 1108.7 38 1100 38.4C1091.3 38.8 1082.7 40 1074 41.6C1065.3 43.2 1056.7 45.2 1048 48C1039.3 50.8 1030.7 54.3 1022 58.5C1013.3 62.7 1004.5 66.8 996 73C987.5 79.2 978.3 89.5 971 96C963.7 102.5 957.6 107 952 112C946.4 117 942.2 121 937.4 126.3C932.6 131.6 927.4 138.1 923 144C918.6 149.9 915.2 155.2 911 161.9C906.8 168.6 902.1 176.3 898 184C893.9 191.7 890.5 199 886.3 208.3C882.1 217.6 876.5 230.4 873 240C869.5 249.6 867.4 256.7 865 266C862.6 275.3 860.8 286.7 858.7 296C856.6 305.3 853.5 313.3 852.2 322C850.9 330.7 850.4 338.4 851 348C851.6 357.6 853.2 370 856 379.6C858.8 389.2 863.8 398.3 868 405.7C872.2 413.1 876.2 416.6 881 424C885.8 431.4 891.4 440.9 896.6 450C901.8 459.1 907.6 471 912 478.8C916.4 486.6 918.8 491.4 922.7 497C926.7 502.6 930.1 507.5 935.7 512.7C941.4 517.9 946.6 523.6 956.6 528.4C966.6 533.2 982.7 537.7 995.8 541.4C1008.9 545.1 1022 548.2 1035 550.6C1048 553 1058.8 554.6 1074 555.8C1089.2 557 1108.6 557.5 1126 557.9C1143.4 558.3 1162.4 558.5 1178.6 558.4C1194.8 558.3 1205.6 558 1223 557.1C1240.4 556.2 1264.2 554.5 1283 553.2C1301.8 551.9 1318 550.4 1335.5 549.3C1353 548.2 1370.3 547.2 1387.7 546.7C1405.1 546.2 1424.8 546 1440 546.1C1455.2 546.2 1466 546.2 1479 547.4C1492 548.6 1504.9 550.5 1518 553.2C1531.1 555.9 1544.3 559.7 1557.4 563.6C1570.5 567.5 1584.5 572.8 1596.6 576.7C1608.7 580.6 1624.4 585.3 1630 587" fill="none" stroke="#3CB4E6" stroke-width="4.6" stroke-dasharray="32 13"/>
<path d="M1550.5 0C1547.3 6 1538 23.7 1531.3 36.3C1524.6 48.9 1516.9 63.3 1510.4 75.5C1503.9 87.7 1498.3 98.1 1492.2 109.4C1486.1 120.7 1477.8 135.8 1473.9 143.4C1470 151 1469.6 153.2 1468.7 155.1" fill="none" stroke="#000" stroke-width="7.5" stroke-dasharray="32 13"/>
<path d="M1468.7 155.1 L1439.9 168.2 L1400.8 187.8 L1348.6 211.3 L1296.3 237.4 L1251.9 259.6 L1218 277.5 L1191.6 294 L1152.4 314.3 L1100.2 339.1 L1048 361.3 L1008.8 378.2 L969.7 395.2 L930.5 410.9 L904.4 417.4 L883.5 420" fill="none" stroke="#000" stroke-width="7.5" stroke-dasharray="32 13" stroke-dashoffset="12"/>
<path d="M1630 251C1622.2 250.2 1597.8 247.7 1583.5 246.5C1569.2 245.3 1555.3 244.3 1544.4 243.9C1533.5 243.5 1527 243.2 1518.3 243.9C1509.6 244.6 1500.9 245.9 1492.2 247.8C1483.5 249.8 1474.7 252.5 1466 255.6C1457.3 258.6 1448.6 262.2 1439.9 266.1C1431.2 270 1422.9 274.1 1413.8 279.1C1404.7 284.1 1392.5 291.4 1385.1 296C1377.7 300.6 1379 301 1369.4 306.4C1359.8 311.8 1342.1 321.2 1327.7 328.6C1313.3 336 1298.1 343.6 1283.3 350.8C1268.5 358 1249.8 366 1238.9 371.7C1228 377.4 1228 379.1 1218 384.8C1208 390.5 1191.7 398.7 1178.6 405.7C1165.5 412.7 1152.5 419.7 1139.4 426.6C1126.3 433.6 1113.3 440.9 1100.2 447.4C1087.1 453.9 1074 459.6 1061 465.7C1048 471.8 1035 478.8 1021.9 484C1008.9 489.2 994.9 493.9 982.7 497C970.5 500.1 957.5 501.2 948.8 502.3C940.1 503.4 933.5 503.4 930.5 503.6" fill="none" stroke="#000" stroke-width="7.5" stroke-dasharray="32 13"/>
<path d="M1395.5 310.4 L1401 325 L1243 407 L1235 393.5" fill="none" stroke="#000" stroke-width="6"/>
</g>
<text x="832.5" y="56.5" font-size="46" font-weight="bold">b</text>
<text x="828" y="567.5" font-size="45.5"><tspan font-style="italic">t</tspan><tspan font-size="26" dy="14" dx="-2" font-style="italic">0</tspan><tspan dy="-14" dx="0"> + 3s</tspan></text></g>
<g id="panel-c"><path fill="#E5E5E4" stroke="#E5E5E4" stroke-width="1.2" stroke-linejoin="round" d="M215.7 896L216.5 843.7L219.2 843.6L220.8 830.9L223.8 831.1L225.4 843.5L226.6 844.6L228.2 844.9L230.4 843.6L232 823.1L235.4 824.1L237 840.1L238.6 839.1L240.2 841.9L242.1 841.8L243.7 836L247.9 836.2L249.5 843.3L252.2 842.4L253.8 845L258.5 844.7L260.1 842.4L263.9 840.9L265.5 842.4L267.1 841.6L268.7 846.2L270.4 845.4L272 847.4L276 848L277.6 842.6L282.4 841.6L283.4 845.5L284.1 829.5L288.7 829.5L289.4 845.5L290.1 843.7L291.7 845.6L292.9 844.6L294 845.5L294.7 829.5L299.3 829.5L300 845.5L301.2 846.8L306.3 847.6L307.9 846.2L311 846.1L312.6 846.2L318.3 845.1L319.9 843.8L322.4 842.5L324 845.3L325.7 846.2L327.3 841.5L329.5 843L331.1 846.9L334.3 846.7L335.9 845.5L342 845L343.6 842.5L344.8 841.6L346.4 846.2L352.1 847.4L353.7 836.2L357 837.2L358.6 847.4L361.4 848.6L363 832.7L367.1 833.7L368.7 845L371 844L372.6 844L379 844L380.6 844.2L381 845.5L381.7 829.5L386.3 829.5L387 845.5L387.5 830.6L389.1 842.1L393 841L394.6 846.6L399.3 847L400.9 846.7L402.8 847.2L404.4 842L406.5 840.5L408.1 844.6L413.7 845.5L415.3 839.7L419 841.1L420.6 846.9L421.7 845.5L423.3 844.1L426.6 842.6L428.2 845.4L434.4 846.3L436 845.1L438 843.9L439.6 841L445.1 842.3L446.7 846.7L451.3 845.8L452.9 844.7L457.9 845.2L459.5 847.1L464.8 847.4L466.4 840.7L469.5 841.8L471.1 845.1L472.8 844.2L474.4 841.7L476.1 842.1L477.7 836.3L481.7 837.8L483.3 844.3L489.5 844.5L491.1 843.1L496.8 843.9L498.4 846.6L500.7 847.3L502.3 844.3L505.5 843.1L507.1 841.7L509.9 842L511.5 846L517.5 845.9L519.1 842.7L522.8 844.2L524.4 846.9L529.7 847L531.3 843.8L536.2 843.6L537.8 846.1L543 845.9L544.6 846.2L546.9 846L548.5 839.9L553.6 840L555.2 842.1L559.5 842.3L561.1 847.3L564.9 846L566.5 839.8L571.2 839.7L572.8 840L578.9 841.1L580.5 845.9L582.1 847.1L583.7 846.9L588.3 845.7L589.9 846.1L591.6 845L593.2 841L599.5 839.7L601.1 833.9L604.1 834.9L605.7 846.4L609 846.9L610.6 832.8L614.4 834.2L616 841L618.7 840.9L620.3 839.6L621.6 840.8L623.2 832.9L626.6 834L628.2 840.4L631.4 841.5L633 843.1L639 842.5L640.6 841.1L642 842.4L643.6 845.1L649.6 844.2L651.2 846.5L652.6 846.6L654.2 846.2L657 844.9L658.6 843.7L660.9 844.9L662.5 835.2L666.1 835.8L667.7 846.2L672.7 846.6L674.3 842.4L675.3 843.8L676.9 844.7L681.9 843.4L683.5 846.6L685 846.8L686.6 845.2L690.2 844.7L691.8 843.6L698.1 842.6L699.7 844.5L704.5 845.8L706.1 844L707.7 843.3L709.3 846.5L711.6 845.4L713.2 845.9L717.8 846.7L719.4 845L721.9 845.7L723.5 846.8L729.7 846.7L731.3 843.7L733.5 845.2L735.1 846.7L738.1 846.7L739.7 847.1L741.7 848.3L743.3 840.9L746.8 841.7L748.4 840.1L752.6 839.5L754.2 846.1L759.9 846.7L761.5 843.2L767.8 844.6L769.4 841.7L774.9 841.3L776.5 846.6L781.4 846.5L783 845.2L788.5 844.2L790.1 842.2L794.2 843L795.8 843.2L796.9 843.7L798.5 844.5L800 844.2L801.6 842.6L806.2 844.1L807.8 847.4L813.1 847L814.7 842.2L816 842.9L817.6 846.8L818.9 846.1L820.5 840.3L826.8 840.6L828.4 844.4L831.9 844L833.5 840.5L834.8 841.2L836.4 838.6L839.9 838L841.5 842L846.2 842.6L847.8 842.6L851.5 841.4L853.1 846.4L855.1 845.1L856.7 839.4L857.7 839.6L859.3 845.4L861.7 844L863.3 845.3L865.3 844L866.9 846.3L868.6 846.3L870.2 846.6L875.9 846.6L877.5 833.3L881.3 833.8L882.9 845.3L884.6 846.8L886.2 844.2L891.3 845.4L892.9 845.3L898.8 845.7L900.4 838.1L903.5 837.8L905.1 836.9L909.7 837.5L911.3 845.9L917.3 846.6L918.9 845.9L922.6 844.7L924.2 843.5L929.6 842.2L931.2 827.2L935 826.5L936.6 845.3L941 846.7L942.6 844L948.6 844.6L950.2 843.9L955.2 844.6L956.8 845.7L961.3 846.7L962.9 842L964.7 840.8L966.3 845.7L969.9 845.8L971.5 837.9L973.2 839.1L974.8 844.7L977.6 844.5L979.2 845.7L985 845.5L985.7 825.5L990.3 825.5L991 845.5L993.8 848L995.4 841.3L999 842L1000.6 841L1002.9 841.1L1004.5 835.5L1008.8 834.3L1010.4 840.1L1013.9 841.6L1015.5 840L1018.6 838.5L1020.2 843.8L1022.4 844.8L1024 843.1L1027.8 842.6L1029.4 837.7L1034.5 837.6L1036.1 846.8L1037.2 846.4L1038.8 844.3L1041.4 845L1043 846.8L1047.4 846.7L1049 845.4L1053.1 846.2L1054.7 843.7L1058.9 842.3L1060.5 847.2L1065 847.3L1066.6 847.3L1068.8 847.9L1070.4 836.1L1071.4 835.5L1073 847.2L1076.2 848L1077.8 840.8L1078.9 841.1L1080.5 844.9L1085.1 844.9L1086.7 839.9L1088.8 840.5L1090.4 847.1L1095.8 847.7L1097.4 844.3L1103.5 845.3L1105.1 841.7L1107.2 842.8L1108.8 844.2L1111.9 842.8L1113.5 846L1115.2 844.8L1116.8 847L1122.5 845.5L1124.1 846.1L1130.2 845.4L1131.8 845L1132.8 845.3L1134.4 837.1L1138 835.7L1139.6 845.1L1141.2 846L1142.8 843.9L1145.7 845.2L1147.3 840L1150.8 838.7L1152.4 830.8L1156.9 830L1158.5 833.3L1163.3 834L1164.9 844.2L1169.9 842.8L1171.5 845.1L1175.8 844.4L1177.4 847.4L1180 846.2L1181.6 847.1L1186 848.5L1187.6 836.4L1189.8 836.7L1191.4 845.7L1193.7 845.8L1195.3 844.2L1201.3 843.2L1202.9 840.1L1208 840.6L1209.6 842.4L1212.3 843.3L1213.9 841.5L1218.9 842.8L1220.5 843.7L1221.6 842.6L1223.2 846.2L1229.5 847.5L1231.1 840.4L1232.6 841.2L1234.2 847.4L1237.3 846.9L1238.9 843.7L1244 842.7L1245.6 842L1248.1 842.4L1249.7 846.4L1254.6 847.5L1256.2 844.3L1262 844.8L1263.6 842.2L1266.7 841.2L1268.3 847.2L1272.8 848.4L1274.4 843.9L1277.9 845.3L1279.5 839.7L1282 840.6L1283.6 838.5L1289.8 837.4L1291.4 842.3L1294.8 841.5L1296.4 842.7L1302.5 843.6L1304.1 843.8L1307 844.7L1308.6 842.2L1310.9 843.7L1312.5 843.7L1315 845.5L1315.7 823.5L1320.3 823.5L1321 845.5L1322.5 839.7L1324.1 845.2L1328.5 845.5L1330.1 846L1332.6 844.7L1334.2 843.6L1336.8 842.5L1338.4 845.8L1344.8 846.7L1346.4 847.4L1351.3 847.6L1352.9 847L1358.3 845.9L1359.9 847.1L1363.3 846.7L1364.9 846.8L1370.9 846.5L1372.5 845L1375.4 844.9L1377 847.4L1378 845.5L1378.7 827.5L1383.3 827.5L1384 845.5L1384.6 844.6L1389.9 843.3L1391.5 846.9L1397.8 848.2L1399.4 840.1L1405.4 839.1L1407 841.2L1408.7 842L1410.3 842.7L1413.5 843.5L1415 845.5L1415.7 831.5L1420.3 831.5L1421 845.5L1422.9 840.3L1426.9 841.7L1428.5 843L1434.1 842.6L1435.7 843.4L1438.2 843.1L1439.8 844.8L1443.1 846.3L1444.7 843.4L1449 844.2L1450.6 846.6L1455.7 846.6L1457.3 842.6L1458.8 842.8L1460.4 830L1463.4 829.3L1465 845.6L1470.2 846.9L1471.8 839.5L1475.5 838.5L1477.1 839.8L1483.5 838.9L1485.1 842.3L1487 841.1L1488.6 846.9L1490.4 845.6L1492 843L1493.3 841.8L1494.9 841.4L1497.3 842.5L1498.9 844.8L1502.6 844.8L1504.2 837.9L1507.4 836.6L1509 845.3L1513.6 846.5L1515.2 845.8L1519 846.2L1520.6 841.9L1526.4 843.1L1528 845.5L1534.3 845.8L1535.9 846.2L1541.2 846.6L1542.8 833.8L1547.9 834.8L1549.5 839.5L1554.5 839.1L1556.1 845L1562.4 844.5L1564 846.3L1566.6 846L1568.2 847.5L1571.5 846.3L1573.1 840.1L1576.7 841.3L1578.3 841L1581.2 840.8L1582.8 845.7L1586.9 846.8L1588.5 841.5L1594.6 842.5L1596.2 841.6L1597.6 841.9L1599.2 828L1603.2 828.4L1604.8 837.6L1609.3 838.3L1610.9 832.3L1612.8 833.1L1613.6 896L1612.8 945.9L1612.2 947.3L1610.6 944.7L1609.1 945.7L1607.5 947.2L1603.5 946.4L1601.9 951L1597.4 949.5L1595.8 945.5L1591.2 946.2L1589.6 948.5L1587.1 948.2L1585.5 943.9L1582.3 945.4L1580.7 948.9L1574.3 950.3L1572.7 946.7L1570.8 947.1L1569.2 945.1L1566.7 945.1L1565.1 952.9L1559.7 953.9L1558.1 956.4L1556.6 955.8L1555 949.7L1553.1 949.7L1551.5 945.9L1548.8 944.9L1547.2 950.8L1541 949.3L1539.4 946L1535.4 944.8L1533.8 946.2L1529.1 946.5L1527.5 946.6L1523 946.5L1522.3 968.5L1517.7 968.5L1517 946.5L1516.4 946.3L1511.3 944.9L1509.7 968.5L1505.8 967.2L1504.2 948.9L1498.7 949.8L1497.1 954.1L1493 953.1L1491.4 949L1488.8 948.8L1487.2 946.7L1482 947.6L1480.4 945.9L1476.4 946.4L1474.8 951.1L1471.4 951.5L1469.8 945.5L1464.1 945.9L1462.5 951.1L1458.9 950.2L1457.3 954.4L1456.4 954.1L1454.8 948.2L1449.5 947.1L1447.9 951.2L1443 951.3L1441.4 950.1L1437.1 949.4L1435.5 956.3L1432.7 955.7L1431.1 945.2L1429.6 946.3L1428 947.8L1425 947.1L1423.4 971.2L1419.6 972.5L1418 953.1L1414.4 951.7L1412.8 950.1L1411.8 949.9L1410.2 945.5L1406.5 945.3L1404.9 947.5L1400.6 948.3L1399 948.4L1394.2 948.2L1392.6 948.1L1387.1 949L1385.5 947.4L1383.3 947.3L1381.7 946.4L1380.1 947L1378.5 949.7L1375 950.8L1373.4 953.1L1371.9 953.8L1370.3 950.4L1367.8 950L1366.2 945.9L1361.9 944.5L1360.3 947.2L1357.9 945.9L1356.3 951.3L1350.5 950.8L1348.9 954.8L1344.5 953.6L1342.9 953.4L1341.9 952.1L1340.3 947.5L1339 947.5L1337.4 950.2L1335.2 950.1L1333.6 950.1L1329.8 948.8L1328.2 950.2L1322.9 951.6L1321.3 948.8L1318.5 947.3L1316.9 951L1313.9 951.8L1312.3 951.8L1309.1 951.7L1307.5 948.5L1302.4 948.8L1300.8 947.9L1295.2 947.7L1293.6 948.1L1291.2 947.8L1289.6 950L1288 950L1286.4 950.4L1281.6 951.8L1280 948.5L1275.8 948.5L1274.2 948.8L1273.2 950.2L1271.6 946.5L1270.1 945.6L1268.5 978.4L1265.2 979.4L1263.6 975.2L1258.7 975.2L1257.1 946.8L1251.8 947.1L1250.2 945.4L1246.4 944.7L1244.8 944.7L1241.9 944.9L1240.3 944.8L1234.8 945.8L1233.2 952.6L1227.3 953.5L1225.7 945.8L1220 947.3L1218.4 953.2L1213.6 952.2L1212 952.2L1210.7 952.4L1209.1 945.8L1204.8 946.7L1203.2 945.3L1199.6 946.2L1198 945.4L1193.2 945.1L1191.6 949.2L1189.9 948.4L1188.3 953.8L1186.4 953.6L1184.8 956.6L1183.9 956.5L1182.3 973.3L1178.7 974.4L1177.1 944.1L1174.6 945.4L1173 959.2L1170.1 960.4L1168.5 947.7L1166.1 948.6L1164.5 949.7L1163.3 949.8L1161.7 948.3L1155.8 946.9L1154.2 945.3L1148.7 945.9L1147.1 944.6L1143.9 945.3L1142.3 946.2L1137.5 946.9L1135.9 950.2L1134.2 951.6L1132.6 949.4L1129.2 949L1127.6 946.5L1121.6 946.1L1120 945.2L1114.3 946.4L1112.7 951.1L1106.7 949.8L1105.1 972.2L1101.8 973.6L1100.2 945.6L1098.7 946.6L1097.1 943.9L1092.9 944.6L1091.3 944L1085.2 944.6L1083.6 946.8L1079.2 946L1077.6 952.9L1076.4 952.3L1074.8 951.3L1072.5 950.3L1070.9 946.2L1064.6 947.6L1063 949.7L1058.4 948.3L1056.8 947.2L1052.8 945.9L1051.2 945.6L1047 946.3L1045.4 944.9L1039.3 946.2L1037.7 967.2L1033 967.3L1031.4 948L1025.2 949.4L1023.6 955.2L1018.4 954.2L1016.8 943.9L1013.3 944.7L1011.7 946.8L1007.9 945.7L1006.3 945.6L1004.6 946L1003 946.9L996.6 946L995 947.2L991.2 948.6L989.6 945.5L987.7 945.8L986.1 949.2L982 950.1L980.4 951.9L976.3 952L974.7 951.7L969.4 952.5L967.8 943.3L965.5 944.6L963.9 954L959.2 954.9L957.6 944.8L955.6 944.5L954 951.8L952.7 950.9L951.1 946.4L945.5 946.9L943.9 944.7L938.2 945.4L936.6 946.4L931.2 945.5L929.6 949.7L927.3 949.5L925.7 949.5L921.5 951L919.9 950.4L914.1 949.8L912.5 947.3L906.2 947.5L904.6 946.4L899.2 946L897.6 945.5L893.5 944.9L891.9 950.4L886.7 949.5L885.1 948L882.2 948.4L880.6 949.4L876 948.5L874.4 966.3L870.3 966.5L868.7 945.2L867.4 944.6L865.8 946.2L861 945.3L859.4 949.1L853.3 947.7L851.7 949.8L846.8 950L845.2 972.3L840.9 971.2L839.3 952.3L837.7 951.6L836.1 948.1L829.9 947L828.3 956.1L824 957.2L822.4 947.2L818.9 948.4L817.3 950.5L816.3 949.1L814.7 944.9L810.6 945L809 946.6L807.8 945.7L806.2 949.6L803 948.3L801.4 944.1L797.4 944.7L795.8 947.1L792.9 946.3L791.3 952.5L789.4 952.1L787.8 947.2L784.3 948.4L782.7 950.6L778 950.1L776.4 949L772.1 948.7L770.5 950.8L764.6 949.6L763 962.2L760.1 963.2L758.5 945.9L754.1 944.8L752.5 945.8L749.8 945.5L748.2 950.5L744.5 951L742.9 946.6L739.8 947.3L738.2 953.4L735 952.4L733.4 947.6L728.3 947.8L726.7 947.4L723.9 947.3L722.3 945.5L721.2 945.1L719.6 951L716.9 949.8L715.3 948.7L711 947.4L709.4 948.8L703.3 950.2L701.7 948.5L696.1 948.8L694.5 947.7L693.6 947.2L692 947.4L688.4 946.3L686.8 949.2L683.1 949.2L681.5 948.2L679.2 949.3L677.6 944.9L673.8 944.7L672.2 951.6L666.7 951.1L665.1 946.7L660.8 945.8L659.2 949.8L654 948.6L652.4 946.4L650.2 945.2L648.6 949L646.3 950.1L644.7 960.3L639.9 959.8L638.3 977.3L633.6 976.4L632 950.1L628.7 948.8L627.1 944.7L624.9 944.8L623.3 944L620 944.6L618.4 949.8L616.1 950.5L614.5 951.6L610.6 950.5L609 944.8L603.6 945.4L602 949.5L599.8 948.6L598.2 947L593.8 946.8L592.2 946L589.2 945.1L587.6 948.6L583.8 947.7L582.2 946.1L579.3 944.8L577.7 946.3L574.5 945.8L572.9 946.4L570.1 947.9L568.5 946.9L563.4 945.5L561.8 947.1L558.6 947.4L557 947.1L552.6 947L551 949.5L549.6 949.5L548 944.8L542.8 944.7L541.2 944.7L537.6 945.7L536 947.8L531.5 948.1L529.9 949.2L525.5 950.2L523.9 948.2L521.7 948.3L520.1 951.8L518.6 951.4L517 953.3L513.6 952.9L512 947.6L506.9 947.2L505.3 948.1L503.1 947L501.5 949.6L495.6 949.8L494 945.2L489.8 944.5L488.2 949.8L483.5 950.9L481.9 947L480.8 946.1L479.2 945.5L477.2 945.9L475.6 944.8L470.4 945L468.8 948L467.3 946.5L465.7 950L463.8 949.3L462.2 946.5L459.9 947L458.3 946.4L452.8 947.4L451.2 945.3L445.4 944.7L443.8 947.1L439.7 947.2L438.1 945.5L433.6 944.6L432 953.1L429.3 952L427.7 944.3L423.8 944.7L422.2 954L416.5 954.1L414.9 944.9L412.8 945.3L411.2 946.7L409.9 948.1L408.3 948.5L403.9 947.3L402.3 945.4L397.1 944.5L395.8 946.5L395.1 970.5L390.5 970.5L389.8 946.5L389.1 943.8L383 944.6L381.4 947.9L379.5 948.7L377.9 952.7L374.3 951.8L372.7 945.3L371.8 946.8L370.2 948.9L368.8 949.9L367.2 947.2L364.4 946.1L362.8 975.2L359 974.4L357.4 950.5L354.5 949.5L352.9 966.1L349.5 965.5L347.9 950.1L346.4 950.7L344.8 945.7L339.4 946.4L337.8 953.4L336.3 953L334.7 944.7L328.6 945.5L327 947L321.7 946.5L321 981.5L316.4 981.5L315.7 946.5L314.7 970.2L310.6 969.7L309 947L307.9 945.8L306.3 944.7L304.2 945.8L302.6 949.8L297.8 950.4L296.2 948L292.7 948.2L291.1 948.9L289.4 946.5L288.7 980.5L284.1 980.5L283.4 946.5L279 946.1L277.4 944.3L271.3 944.8L269.7 948.7L264 948L262.4 946.8L258 947.6L256.4 951.1L252.4 951.8L250.8 944.8L245.3 945.5L243.7 949L241.5 948.4L239.9 949.5L236.5 950.7L234.9 949.4L234 948.7L232.4 979.6L227.9 978.9L226.3 949.1L222.6 949.7L221 945.5L219.3 945.2L217.7 946L216.5 944.6Z"/>
<path fill="#E5E5E4" stroke="#E5E5E4" stroke-width="1.2" stroke-linejoin="round" d="M215.7 1540L216.5 1514.9L217.5 1515.4L219.1 1519.9L223.9 1521.1L225.5 1519.2L231.4 1519.7L233 1520.5L236.3 1520.3L237.9 1520.7L244.1 1520.4L245.7 1509.2L248 1509.8L249.6 1518.4L255.4 1519L257 1515.5L261.3 1516.3L262.9 1520.3L265.9 1521.2L267.5 1517.3L270.1 1518.1L271.7 1517.3L273.6 1518.3L275.2 1520.1L281.4 1520L283 1514.9L286 1516.2L287.6 1519.5L289.2 1520.5L290.8 1517.2L293.3 1518.6L294.9 1520.2L299.4 1521.4L301 1519.2L303.4 1520.3L305 1516.6L308.3 1517.1L309.9 1513.1L314.8 1511.7L316.4 1515.5L318.4 1515.6L320 1519.9L321.7 1520.6L323.3 1517.3L329.1 1517L330.7 1519.1L332.8 1520.3L334.4 1517.6L338.1 1517.9L339.7 1520.8L344.2 1521.4L345.8 1518.9L348.9 1519.5L350.5 1520.2L355 1520L356.6 1506.4L360 1507.5L361.6 1522L366.4 1522.3L368 1520.1L373.9 1521.2L375.5 1495.4L379.7 1495.8L381.3 1517.2L384.5 1516.1L386.1 1514.5L388.9 1515.5L390.5 1514L392.1 1515.4L393.7 1517.1L394.8 1518L396.4 1520.8L399 1520.4L400.6 1520.9L402.4 1520.7L404 1521.8L408.9 1522.3L410.5 1515.9L411.4 1515L413 1511.1L415.5 1512.5L417.1 1519L419.3 1518.1L420.9 1498.8L424.6 1498L426.2 1517.1L431.7 1518.3L433.3 1510.2L439.4 1509.5L441 1515.9L446.4 1516L448 1520.1L449.2 1518.8L450.8 1516.2L452.4 1517.6L454 1520.5L458.8 1519.1L460.4 1517.8L464.8 1518.5L466.4 1518.3L467.6 1518.9L469.2 1517.4L470.9 1516.9L472.5 1521.6L474.7 1520.3L476.3 1515.1L479.1 1513.9L480.7 1517.2L482.4 1517.1L484 1520L489.1 1519.5L490.7 1512.5L494.9 1513.6L496.5 1519.6L499 1520.5L500.6 1521.3L501.8 1521.4L503.4 1518.3L504.9 1518.4L506.5 1502.6L510.9 1503.8L512.5 1520.1L517.4 1519.9L519 1515.9L520.5 1515.7L522.1 1521.6L523 1521.1L524.6 1514.3L529 1515.1L530.6 1502.8L535.1 1503.4L536.7 1514.8L538.7 1515.8L540.3 1513.5L545.5 1512.8L547.1 1517.7L549.8 1518.1L551.4 1512.2L555.3 1511.2L556.9 1514.8L559.1 1513.9L560.7 1520.1L565.5 1518.8L567.1 1518.6L570.7 1518.4L572.3 1522L573.7 1523L575.3 1507.3L578.5 1506.7L580.1 1521.5L581.1 1520.5L582.7 1517.8L587.9 1517.8L589.5 1519.9L592.7 1520.1L594.3 1516.3L598.9 1516.9L600.5 1510.9L603.8 1511.4L605.4 1517.6L607.4 1516.2L609 1519.4L614.9 1518L616.5 1499.5L620.6 1500.1L622.2 1514.8L626.2 1514.9L627.8 1520.4L632.3 1521.8L633.9 1517L635.8 1517.1L637.4 1519L638.8 1519.3L640.4 1517.3L644.2 1517.6L645.8 1516.9L647.4 1518.1L649 1511.1L654.6 1512.3L656.2 1521.9L660 1522.8L661.6 1515.3L665.7 1515.3L667.3 1504.6L671.9 1504.5L673.5 1519.2L678.3 1520.3L679.9 1521.5L686.3 1521.9L687.9 1519.4L689.7 1519.2L691.3 1505.5L695 1507L696.6 1514.5L700.7 1515.1L702.3 1511.2L707.1 1510.1L708.7 1516.6L712.7 1515.5L714.3 1521.8L716.1 1521.3L717.7 1516.7L723.2 1517.1L724.8 1499.3L727.9 1499.1L729.5 1519L734.8 1517.8L736.4 1521.9L741 1520.9L742.6 1518.2L746.7 1519.7L748.3 1520.8L749.8 1521.5L751.4 1518.5L756.1 1519.6L757.7 1513.5L763.4 1512.1L765 1519.9L766 1520.9L767.6 1505.4L772.1 1504.9L773.7 1514.6L776.8 1515.6L778.4 1512.8L783.9 1514.1L785.5 1514.7L788.2 1513.6L789.8 1518.6L794 1518.7L795.6 1521.1L799.7 1521.5L801.3 1505L806.1 1506.4L807.7 1519.5L809.4 1520.2L811 1517.5L813.4 1517.4L815 1522L821.2 1523.4L822.8 1520.5L826.8 1520.1L828.4 1510.4L832.8 1511.1L834.4 1512.5L839.6 1513.1L841.2 1512.3L846.3 1512.2L847.9 1517.7L852.3 1519L853.9 1516.1L856.7 1514.7L858.3 1519.1L861.8 1519.6L863.4 1501.8L867.2 1502L868.8 1510.2L872.4 1509.5L874 1518.7L877.9 1519.2L879.5 1520L885.5 1519.7L887.1 1520.8L893.4 1520L895 1520.5L898.2 1519.3L899.8 1520.4L902.3 1521.8L903.9 1521L905.7 1521.3L907.3 1513.1L909.3 1512L910.9 1518.9L915.3 1518.6L916.9 1513.2L918.3 1512L919.9 1519.6L922.6 1518.4L924.2 1519.2L928.7 1520.1L930.3 1522L933 1521.4L934.6 1501.7L937.6 1501.4L939.2 1514.2L941.9 1514.4L943.5 1521.7L944.5 1521.5L946.1 1514.6L952.4 1515.1L954 1519.3L955.4 1520.3L957 1513.1L962.1 1513L963.7 1516.4L967.9 1515.9L969.5 1517.4L973.7 1516.8L975.3 1513.7L980.4 1514.3L982 1515.7L987.1 1515.7L988.7 1521.1L994.8 1522.6L996.4 1516.4L999.9 1515L1001.5 1513.8L1003.7 1515L1005.3 1520.7L1006.3 1520.5L1007.9 1520.5L1009.8 1520.9L1011.4 1517.9L1013.1 1518.9L1014.7 1513.6L1015.8 1514.3L1017.4 1513.8L1023.7 1512.9L1025.3 1521.9L1028.7 1520.7L1030.3 1521.8L1031.8 1522.1L1033.4 1506.3L1037.2 1505L1038.8 1519.1L1044.8 1519.9L1046.4 1519.1L1049.7 1520L1051.3 1519L1056.4 1519.8L1058 1518.2L1062 1517.1L1063.6 1521L1069.3 1521.6L1070.9 1512.5L1073.6 1511.3L1075.2 1518.8L1077 1518.6L1078.6 1514.9L1084.4 1513.8L1086 1519.9L1088.9 1518.8L1090.5 1510.7L1096.8 1512.2L1098.4 1521.2L1100 1522.3L1101.6 1521.9L1106.5 1522.9L1108.1 1517.6L1112.8 1516.9L1114.4 1519.2L1120.1 1520.6L1121.7 1506.8L1125.1 1507L1126.7 1495.2L1130.2 1494.1L1131.8 1518.9L1133.4 1519.9L1135 1521.8L1139.6 1521L1141.2 1516.7L1144.9 1515.4L1146.5 1517.5L1149.3 1516.1L1150.9 1521.3L1156.7 1522L1158.3 1499.1L1162 1499L1163.6 1510.6L1166.5 1510.4L1168.1 1521.2L1172 1519.8L1173.6 1520.5L1179.3 1520.7L1180.9 1514.6L1187.2 1514.9L1188.8 1465.9L1193.5 1466.6L1195.1 1488.4L1199.4 1489.2L1201 1504.8L1203 1503.6L1204.6 1506.6L1205.7 1507.1L1207.3 1512L1211.8 1513.5L1213.4 1518.8L1218.4 1518.8L1220 1513.2L1224.2 1512.5L1225.8 1521.7L1228.7 1522L1230.3 1508.3L1234.1 1507.9L1235.7 1510.3L1239.6 1509.9L1241.2 1510.6L1243.6 1510.5L1245.2 1514.6L1248.7 1515.7L1250.3 1507.6L1256.3 1506.7L1257.9 1519.4L1260.1 1518.4L1261.7 1507.7L1265.1 1506.6L1266.7 1504.6L1267.9 1503.6L1269.5 1517L1274.9 1518.2L1276.5 1517.2L1279.3 1517.1L1280.9 1511.8L1284.3 1511.2L1285.9 1515.7L1289.3 1514.8L1290.9 1511.3L1296 1511.3L1297.6 1507.3L1299.8 1507.8L1301.4 1514L1304.4 1515.3L1306 1521.1L1307.9 1521.8L1309.5 1520.8L1312.1 1520.4L1313.7 1499.3L1319.4 1499.5L1321 1487.9L1324.6 1487.3L1326.2 1514.2L1328.7 1513.8L1330.3 1514.9L1335.7 1513.6L1337.3 1512.5L1339.2 1511.9L1340.8 1483.8L1344.5 1483.7L1346.1 1512.7L1349.7 1512L1351.3 1510.8L1352.4 1509.8L1354 1514.6L1357.1 1513.5L1358.7 1507.7L1362.1 1507.1L1363.7 1521.2L1368.6 1522.6L1370.2 1502.6L1374.9 1503.8L1376.5 1481L1379.6 1482.2L1381.2 1518.3L1386.2 1517.7L1387.8 1489.1L1391.6 1488.9L1393.2 1512.1L1399.6 1512.6L1401.2 1461.6L1404.6 1462.4L1406.2 1521.3L1408.8 1521.2L1410.4 1475.9L1415.1 1475L1416.7 1493.9L1420.3 1494L1421.9 1513.9L1425.5 1514.3L1427.1 1513.7L1432.4 1515.1L1434 1496.4L1436.6 1496.6L1438.2 1517.7L1442.2 1518.3L1443.8 1513.4L1448.6 1513.1L1450.2 1510.1L1453.6 1511.4L1455.2 1516.8L1458.5 1518.2L1460.1 1507.5L1465.8 1506.2L1467.4 1514.9L1471.4 1514.9L1473 1517.4L1477.6 1516.4L1479.2 1513.1L1480.9 1513.9L1482.5 1504.6L1483.9 1504.9L1485.5 1510.2L1490 1508.9L1491.6 1519.7L1496.3 1521.1L1497.9 1518.6L1503.4 1519.4L1505 1515.6L1509.1 1514.3L1510.7 1508L1513.4 1509.1L1515 1486L1519.2 1486.8L1520.8 1520.5L1524.7 1520.6L1526.3 1505.6L1531.2 1504.7L1532.8 1514.3L1534.4 1512.8L1536 1512.2L1542 1511.4L1543.6 1520.4L1547.3 1521.6L1548.9 1511.4L1552.4 1512.6L1554 1509.8L1555.7 1508.6L1557.3 1488.9L1562.1 1489.4L1563.7 1495L1569.8 1496.3L1571.4 1513.4L1574.2 1514.4L1575.8 1519.2L1581 1520.5L1582.6 1509.5L1586.6 1509.2L1588.2 1486.2L1591.3 1485.8L1592.9 1512.1L1594.5 1511.6L1596.1 1516.7L1597.9 1515.4L1599.5 1508.6L1602.2 1509.7L1603.8 1501.6L1605.2 1502.7L1606.8 1516.2L1610.5 1517.2L1612.1 1520.7L1612.8 1521.1L1613.6 1540L1612.8 1563.7L1611.6 1563.3L1610 1563.3L1605.6 1564.7L1604 1573.1L1598 1573.2L1596.4 1568.2L1591.2 1568.3L1589.6 1560.5L1585 1559.8L1583.4 1596L1579.6 1596.7L1578 1571.2L1574.2 1570.4L1572.6 1580.6L1570.6 1580.6L1569 1574L1565.3 1574.2L1563.7 1591.5L1560.6 1592.9L1559 1578.1L1554.2 1578.6L1552.6 1575.4L1550.4 1574.4L1548.8 1563.6L1546.8 1564.6L1545.2 1567.6L1540.5 1566.4L1538.9 1559.8L1537.8 1559.4L1536.2 1569.3L1533 1568.7L1531.4 1570.5L1527.3 1571.3L1525.7 1565.5L1521.7 1566.4L1520.1 1560.7L1514.8 1560.2L1513.2 1579.9L1509 1579.3L1507.4 1559.5L1502.6 1560.8L1501 1588.3L1496.7 1588.6L1495.1 1566.9L1490.2 1565.6L1488.6 1562.5L1483.9 1561.6L1482.3 1564.5L1481.1 1564.2L1479.5 1566L1476.3 1566.7L1474.7 1563.9L1468.4 1564.5L1466.8 1568.6L1465.8 1567.3L1464.2 1560.6L1463.3 1559.2L1461.7 1576L1458.5 1575.4L1456.9 1559.3L1452.7 1558.7L1451.1 1569.2L1446.9 1568.1L1445.3 1560L1443.3 1559L1441.7 1564.2L1437.4 1562.8L1435.8 1578.3L1432.8 1577.9L1431.2 1569.3L1430.2 1570.3L1428.6 1561.6L1425.8 1561.6L1424.2 1590.2L1419.4 1590L1417.8 1558L1415.7 1558.3L1414.1 1576.6L1409 1577.4L1407.4 1560.6L1401.5 1560.1L1399.9 1567.9L1397.9 1566.5L1396.3 1561.3L1390.1 1559.9L1388.5 1558.6L1383.7 1559.6L1382.1 1559L1377.5 1558.5L1375.9 1568.8L1370.9 1568.9L1369.3 1566.5L1367.1 1567.8L1365.5 1561.7L1363.6 1562.5L1362 1559.9L1355.9 1559.7L1354.3 1559.7L1350.1 1558.5L1348.5 1564.4L1344 1564L1342.4 1589.3L1338.6 1588.4L1337 1565.4L1334.5 1565.6L1332.9 1585L1327 1586.4L1325.4 1560.1L1319.2 1561.4L1317.6 1572.9L1311.9 1571.8L1310.3 1565.6L1308.1 1565.9L1306.5 1558.4L1302.4 1559.7L1300.8 1564.7L1299.2 1564.6L1297.6 1563L1292.8 1563.8L1291.2 1565.4L1290.3 1565.2L1288.7 1585.5L1285.5 1584.5L1283.9 1567.8L1281.7 1568.3L1280.1 1558.7L1278.1 1558.9L1276.5 1575.7L1272.9 1574.7L1271.3 1561.1L1267.8 1559.7L1266.2 1558L1263.1 1558.8L1261.5 1562.2L1256.4 1560.9L1254.8 1569.7L1252.8 1570.6L1251.2 1575.9L1247 1577.1L1245.4 1574.6L1239.7 1575.5L1238.1 1558.8L1232.8 1558.1L1231.2 1573.3L1229 1574.4L1227.4 1559.3L1224 1559.2L1222.4 1574L1220.5 1575.4L1218.9 1565.4L1217.3 1565.4L1215.7 1560.9L1212.3 1561.4L1210.7 1561.6L1207.3 1562.9L1205.7 1560.4L1200 1559.2L1198.4 1562.6L1194.6 1563.5L1193 1582.4L1187.4 1581.1L1185.8 1573.9L1181.4 1573.7L1179.8 1565.8L1178.2 1564.5L1176.6 1561.1L1174.8 1561.2L1173.2 1558.7L1169.7 1558.8L1168.1 1559.5L1167.1 1560.7L1165.5 1591.3L1160.9 1592.1L1159.3 1566.3L1157.2 1566.7L1155.6 1566.4L1153.1 1567.3L1151.5 1564.4L1150 1563.5L1148.4 1559.4L1146.7 1559.3L1145.1 1560.4L1138.9 1559.7L1137.3 1568.1L1132.7 1569.2L1131.1 1562L1129.7 1562.4L1128.1 1564.2L1123.6 1565.2L1122 1565.1L1120 1566.1L1118.4 1559.3L1112.8 1560.8L1111.2 1564.7L1110.2 1565.5L1108.6 1570L1103.7 1569L1102.1 1561.4L1098.9 1561.6L1097.3 1557.8L1094.9 1558.4L1093.3 1559.1L1089.7 1558.5L1088.1 1562.3L1086.8 1563.4L1085.2 1562.7L1080.5 1564L1078.9 1563.1L1072.7 1562.8L1071.1 1561.6L1066.4 1562.3L1064.8 1556.7L1059.8 1558.1L1058.2 1567.7L1054.9 1567.1L1053.3 1557.6L1052.3 1558.6L1050.7 1563.8L1048.6 1562.5L1047 1564.3L1043.9 1565.5L1042.3 1562.8L1037.8 1561.5L1036.2 1572.6L1033.3 1572.5L1031.7 1564.9L1026.3 1564.5L1024.7 1564.7L1019.5 1565.9L1017.9 1559.4L1011.9 1558.6L1010.3 1560.2L1008.1 1559L1006.5 1568.3L1000.1 1569L998.5 1566.6L992.2 1565.6L990.6 1562.1L987.9 1562.2L986.3 1558.7L983 1559.2L981.4 1561L975.7 1559.7L974.1 1566.3L969.2 1566.5L967.6 1564.4L962.3 1563.3L960.7 1565.1L957.6 1564.4L956 1558L951.8 1558.1L950.2 1560.8L945.1 1560.3L943.5 1562.7L941.8 1561.3L940.2 1563.2L934.6 1562.4L933 1569.1L931.6 1568.1L930 1569.7L926.7 1570.1L925.1 1557.6L923.5 1558.5L921.9 1583.9L917.4 1584L915.8 1562.7L914.6 1563.3L913 1562.4L909.4 1563.6L907.8 1570.7L902.2 1569.7L900.6 1559.3L899.1 1560.8L897.5 1567.4L892.2 1567.4L890.6 1569.4L885.5 1570.3L883.9 1568.3L881.5 1569.7L879.9 1565.5L877.8 1564.3L876.2 1568L875.1 1566.7L873.5 1569.7L872.4 1571.1L870.8 1559.1L865.3 1558.3L863.7 1563L861.5 1562.1L859.9 1563.8L854 1565.1L852.4 1562.1L850.2 1563.2L848.6 1564.6L845.5 1564L843.9 1574.9L840.9 1575L839.3 1560.1L837.3 1559.8L835.7 1558.9L829.8 1560L828.2 1564.4L823.8 1565.2L822.2 1561.5L820.9 1561.6L819.3 1558.7L818.2 1558.6L816.6 1568.7L813.6 1568.8L812 1565.2L811 1565L809.4 1564.7L804.5 1565.8L802.9 1559L796.8 1559.2L795.2 1558.6L793.1 1558L791.5 1564.3L790 1564.3L788.4 1558.7L782.5 1559.8L780.9 1560.2L775.7 1558.7L774.1 1559.5L768.8 1560.6L767.2 1571.2L763.6 1570L762 1561.6L759.7 1560.1L758.1 1560.4L752.4 1560L750.8 1556.9L745.9 1558.4L744.3 1566.6L739.3 1565.3L737.7 1560.1L735.7 1558.7L734.1 1562.3L730.8 1561.7L729.2 1558.8L726.1 1558.8L724.5 1561.8L721.1 1562.7L719.5 1562.8L716 1562.2L714.4 1570.7L711.7 1572L710.1 1572.2L707.9 1570.8L706.3 1561.4L703.2 1561.1L701.6 1565.7L698.4 1565.5L696.8 1577.8L693.8 1577.7L692.2 1560L690.1 1559.1L688.5 1560.7L685.8 1560.5L684.2 1559.7L683 1559.3L681.4 1561.2L678.1 1560.3L676.5 1558.8L675.6 1560.2L674 1559.1L672.7 1559.6L671.1 1568.8L666.5 1568.2L664.9 1559.8L662.8 1561L661.2 1574.8L656.6 1575.5L655 1564.2L649.3 1563.6L647.7 1566.1L641.9 1565.6L640.3 1566.4L635.7 1566.4L634.1 1562.6L631.7 1563.7L630.1 1561.7L626 1561.5L624.4 1564.3L623.1 1563.8L621.5 1562.6L615.7 1563.1L614.1 1563.4L612.1 1562.9L610.5 1566L607.5 1566.4L605.9 1568.3L600.7 1568.8L599.1 1561.2L592.9 1560.6L591.3 1559.4L588.1 1559L586.5 1560.2L582.6 1559.7L581 1560.9L578.2 1562.2L576.6 1566.1L575.5 1565.9L573.9 1560.8L570 1559.9L568.4 1560.6L566 1559.4L564.4 1566L559.4 1565.2L557.8 1560.4L552.6 1561.4L551 1563.7L549 1563.3L547.4 1558.3L544.3 1559L542.7 1560.2L540.1 1560.6L538.5 1567.2L535.9 1568.1L534.3 1568.2L531.7 1569.1L530.1 1557.8L528.3 1559.2L526.7 1570.4L525 1569.7L523.4 1561.9L518 1562.3L516.4 1559.9L511.6 1559.7L510 1567L505.4 1565.6L503.8 1572.9L499.9 1572L498.3 1559L495.8 1559.7L494.2 1563.9L490.1 1563.5L488.5 1567.8L482.7 1567.5L481.1 1571.6L478 1570.2L476.4 1559L472.4 1558.3L470.8 1560.5L467.9 1559.9L466.3 1564.9L461.7 1564.9L460.1 1562.4L457.2 1562.3L455.6 1564.7L451.3 1563.3L449.7 1567.7L446.7 1569L445.1 1562.1L441.1 1562.1L439.5 1558.4L436.1 1559.6L434.5 1569.4L433.6 1568.1L432 1562.1L425.7 1562L424.1 1563.1L420.5 1563L418.9 1563.8L416.7 1564.1L415.1 1559.1L412.7 1559.5L411.1 1557.7L409.6 1558.7L408 1561.3L404.6 1560.4L403 1559.2L398.7 1558.6L397.1 1562.9L395.1 1561.8L393.5 1564.3L388.1 1564.8L386.5 1574.1L383.6 1575.2L382 1561.7L377.5 1560.7L375.9 1566.7L370.4 1568L368.8 1561.5L365.8 1560.2L364.2 1564.7L358.3 1564L356.7 1560L354.5 1560L352.9 1561.8L347.7 1560.7L346.1 1573L339.9 1571.6L338.3 1564.7L333.1 1565.3L331.5 1561.4L326 1560.5L324.4 1567.1L318.3 1566.4L316.7 1563.4L310.5 1562.4L308.9 1564.9L304.1 1565.9L302.5 1564.6L300.5 1565.9L298.9 1564.8L293 1564.3L291.4 1560.5L285 1559.7L283.4 1563.7L281.3 1562.3L279.7 1560.2L275.1 1561.1L273.5 1559.6L272.1 1558.9L270.5 1571.3L264.5 1571.6L262.9 1559.9L260.1 1560L258.5 1566.7L252.2 1565.7L250.6 1566L249.4 1565.7L247.8 1559.4L243.7 1558.8L242.1 1558.2L239.6 1559.4L238 1558.2L236.3 1558.1L234.7 1561.1L230 1560.3L228.4 1564.5L227.4 1564.2L225.8 1561.4L220.1 1560.2L218.5 1560.4L216.5 1561.2Z"/>
<rect x="1542.5" y="788.5" width="5" height="252.5" fill="#E5E5E4"/>
<path fill="#E5E5E4" d="M1598 1520 L1601 1411 L1606 1411 L1609 1500 L1613.6 1510 V1600 L1612 1668 L1609 1668 L1608 1735 L1600 1735 L1598 1600 Z"/>
<rect x="587" y="616.5" width="4.6" height="593.5" fill="#1F2A8C"/>
<path fill="#38499A" d="M585.4 870 L587 838 L594 838 L596 850 L600 852 L602 848 L606 851 L612 850 L615.8 870 V930 L614 948 L609 950 L604 947 L597 948 L596 966 L587 968 L585.4 930 Z"/>
<rect x="866" y="748.7" width="5" height="299.5" fill="#7F8CBE"/>
<path fill="#7F8CBE" d="M865.5 843 H872 L873 848 L876 843 L880 846 L884 843 L893.3 846 V950 L889 953 L880 948 L872 950 L865.5 948 Z"/>
<path fill="#D32F2F" d="M1284.4 860 L1286 841 L1292 839 L1296 845 L1300 839 L1306 841 L1312 852 L1314 870 V940 L1312 950 L1311 959 L1307 959 L1306 950 L1300 946 L1294 948 L1289 953 L1286 953 L1284.4 930 Z"/>
<path fill="#DB7479" d="M1563.8 870 L1566 848 L1572 843 L1585 842 L1586 832 L1589 832 L1590 842 L1591.4 850 V950 L1590 955 L1584 961 L1576 952 L1566 942 L1563.8 930 Z"/>
<path fill="#1F2A8C" d="M587.7 1259.7 H592.5 L593.5 1325 H587.7 Z"/>
<path fill="#1F2A8C" d="M588.2 1349.2 H593.5 L594.8 1470 H588.8 Z"/>
<path fill="#38499A" d="M588.8 1470 L594 1465 L596 1456 L599 1454 L602 1458 L604.4 1468 L605 1510 L608 1512 L611 1520 L614 1530 L615.4 1545 L615 1560 L611 1566 L607 1562 L603 1556 L599 1548 L598.5 1640 L598 1700 L594 1722.7 L591 1722.7 L589 1662 L587 1660 L586 1560 L585.4 1535 L588 1528 Z"/>
<path fill="#7F8CBE" d="M868.2 1428.4 H873.5 L874 1510 L877 1520 L880 1512 L884 1511 L887 1514 L889 1510 L893.4 1515 V1562 L890 1568 L886 1570 L882 1562 L878 1576 L875 1580 L875 1615.6 H870 L869 1580 L865.3 1565 V1515 L868.2 1510 Z"/>
<path fill="#D32F2F" d="M1283.8 1530 L1286 1510 L1292 1504 L1296 1510 L1300 1518 L1305 1506 L1311 1504 L1314 1522 V1560 L1310 1572 L1304 1575 L1302 1580 L1298 1574 L1297 1591 L1293 1591 L1292 1574 L1288 1568 L1283.8 1550 Z"/>
<path fill="#DB7479" d="M1564.6 1530 L1566 1515 L1570 1502 L1573 1502 L1576 1512 L1582 1514 L1588 1514 L1592.3 1518 V1562 L1588 1568 L1586 1586 L1582 1586 L1580 1572 L1572 1570 L1570 1605 L1565.5 1605 L1564.6 1570 Z"/>
<line x1="1012.8" y1="687.8" x2="1012.8" y2="1739" stroke="#000" stroke-width="7" stroke-dasharray="19.6 19.98"/>
<path d="M196 667.3 V1157.2 M177 670.6 H199.3 M177 792 H199.3 M177 911.4 H199.3 M177 1032.5 H199.3 M177 1153.9 H199.3 M196 1265.7 V1325 M196 1349 V1694.8 M177 1269 H199.3 M177 1394.6 H199.3 M177 1543.2 H199.3 M177 1691.5 H199.3 M179.5 1335.4 L210.8 1314.1 M179.5 1359.6 L210.8 1338.3 M212.3 1741.6 H1615.3 M215.5 1741.6 V1760 M913.6 1741.6 V1760 M1612.1 1741.6 V1760" stroke="#000" stroke-width="6.6" fill="none"/>
<text x="30.4" y="649" font-size="46" text-anchor="middle" font-weight="bold" >c</text>
<text x="157.5" y="690.9" font-size="45.8" text-anchor="end" font-weight="normal" >20</text>
<text x="157.5" y="812.3" font-size="45.8" text-anchor="end" font-weight="normal" >10</text>
<text x="157.5" y="931.7" font-size="45.8" text-anchor="end" font-weight="normal" >0</text>
<text x="157.5" y="1052.8" font-size="45.8" text-anchor="end" font-weight="normal" >-10</text>
<text x="157.5" y="1174.2" font-size="45.8" text-anchor="end" font-weight="normal" >-20</text>
<text x="157.5" y="1289.3" font-size="45.8" text-anchor="end" font-weight="normal" >2000</text>
<text x="157.5" y="1414.9" font-size="45.8" text-anchor="end" font-weight="normal" >500</text>
<text x="157.5" y="1563.5" font-size="45.8" text-anchor="end" font-weight="normal" >0</text>
<text x="157.5" y="1711.8" font-size="45.8" text-anchor="end" font-weight="normal" >-500</text>
<text x="48.4" y="1063" font-size="45.8" text-anchor="middle" font-weight="normal" transform="rotate(-90 48.4 1063)" >Voltage (µV)</text>
<text x="978.6" y="664.8" font-size="45.8" text-anchor="middle" font-weight="normal" >Isoflurane Increase</text>
<text x="1614" y="742.9" font-size="45.8" text-anchor="end" font-weight="normal" >High Band Pass</text>
<text x="1614" y="1375.1" font-size="45.8" text-anchor="end" font-weight="normal" >Low Pass</text>
<text x="228.5" y="1810.6" font-size="45.8" text-anchor="middle" font-weight="normal" >0</text>
<text x="913.8" y="1810.6" font-size="45.8" text-anchor="middle" font-weight="normal" >5</text>
<text x="1612.5" y="1810.6" font-size="45.8" text-anchor="end" font-weight="normal" >10</text>
<text x="912.6" y="1864.2" font-size="45.8" text-anchor="middle" font-weight="normal" >Time (min)</text></g>
<g id="panel-de"><path fill="#38499A" d="M114.2 1967.8V1967.8H115.2V1967.5H116.2V1967.9H117.2V1966.9H118.2V1963.8H119.2V1971.2H120.2V1970.7H121.2V1966.1H122.2V1967.1H123.2V1961.6H124.2V1970.6H125.2V1971.2H126.2V1961.9H127.2V1963.2H128.2V1967.9H129.2V1967.7H130.2V1971.5H131.2V1969.8H132.2V1971.3H133.2V1969.7H134.2V1970.7H135.2V1966.9H136.2V1969.4H137.2V1970.3H138.2V1969.6H139.2V1964.2H140.2V1970.2H141.2V1970.6H142.2V1969.7H143.2V1969H144.2V1969.3H145.2V1969.7H146.2V1971.3H147.2V1969H148.2V1971.3H149.2V1969.8H150.2V1969.6H151.2V1969H152.2V1970.9H153.2V1970.9H154.2V1971.2H155.2V1966.8H156.2V1970H157.2V1968.9H158.2V1970H159.2V1968.6H160.2V1965.4H161.2V1967.8H162.2V1970.8H163.2V1969.3H164.2V1966.4H165.2V1970.6H166.2V1969.8H167.2V1970.5H168.2V1966.2H169.2V1970.8H170.2V1968.8H171.2V1969.9H172.2V1967.9H173.2V1967H174.2V1965.5H175.2V1969.2H176.2V1970.9H177.2V1970.9H178.2V1968.5H179.2V1970.7H180.2V1968.1H181.2V1971.1H182.2V1967.7H183.2V1970.4H184.2V1969.2H185.2V1968.7H186.2V1968.4H187.2V1970.5H188.2V1970H189.2V1966.3H190.2V1969.8H191.2V1966.6H192.2V1966.5H193.2V1971.1H194.2V1970.6H195.2V1964.2H196.2V1969.1H197.2V1965.8H198.2V1967.2H199.2V1966.8H200.2V1970.4H201.2V1963.7H202.2V1970.3H203.2V1968.1H204.2V1969.4H205.2V1966.5H206.2V1970.7H207.2V1964H208.2V1970.5H209.2V1967.7H210.2V1971.5H211.2V1969.3H212.2V1970.3H213.2V1969H214.2V1971.2H215.2V1968.8H216.2V1970.3H217.2V1971.4H218.2V1971.1H219.2V1969.5H220.2V1970H221.2V1966.9H222.2V1970.8H223.2V1970H224.2V1966.6H225.2V1964.7H226.2V1969.9H227.2V1971.1H228.2V1970.1H229.2V1970.9H230.2V1970H231.2V1968.1H232.2V1970.7H233.2V1970.5H234.2V1968.1H235.2V1967.5H236.2V1971.1H237.2V1969.9H238.2V1969.2H239.2V1961.7H240.2V1964.3H241.2V1971.4H242.2V1970.5H243.2V1968.1H244.2V1967.2H245.2V1967.4H246.2V1969.7H247.2V1970.7H248.2V1967.5H249.2V1969.3H250.2V1971.4H251.2V1968.7H252.2V1971.5H253.2V1965.7H254.2V1969.3H255.2V1970.9H256.2V1970.3H257.2V1971.2H258.2V1967.3H259.2V1968.8H260.2V1964.1H261.2V1966.7H262.2V1970H263.2V1967.9H264.2V1971.4H265.2V1970.5H266.2V1970.5H267.2V1967.6H268.2V1969.1H269.2V1971.3H270.2V1970H271.2V1969.4H272.2V1966.4H273.2V1971.3H274.2V1966.5H275.2V1968.3H276.2V1971.3H277.2V1969.3H278.2V1971.2H279.2V1970.5H280.2V1965.3H281.2V1970.7H282.2V1965.7H283.2V1969.6H284.2V1970.2H285.2V1969.5H286.2V1963.8H287.2V1964.4H288.2V1968H289.2V1967.2H290.2V1970.4H291.2V1971.4H292.2V1971.2H293.2V1969.9H294.2V1969.8H295.2V1968.6H296.2V1965.7H297.2V1970.2H298.2V1968.5H299.2V1970.5H300.2V1970.5H301.2V1968.4H302.2V1967.7H303.2V1970H304.2V1970.7H305.2V1971.1H306.2V1966.2H307.2V1966.4H308.2V1968.2H309.2V1966.4H310.2V1969.1H311.2V1971.5H312.2V1970.1H313.2V1970H314.2V1967.3H315.2V1969.8H316.2V1968.3H317.2V1971.2H318.2V1967.7H319.2V1970.7H320.2V1970.6H321.2V1968.4H322.2V1969.2H323.2V1968.6H324.2V1963.9H325.2V1968.6H326.2V1959.5H327.2V1970.4H328.2V1969.1H329.2V1970.3H330.2V1968H331.2V1968.7H332.2V1967.8H333.2V1966.8H334.2V1971.2H335.2V1965.4H336.2V1968.4H337.2V1964.8H338.2V1966.2H339.2V1968.8H340.2V1969.2H341.2V1969.6H342.2V1968.4H343.2V1968.5H344.2V1970.3H345.2V1970.1H346.2V1967.4H347.2V1969.3H348.2V1967.2H349.2V1969.3H350.2V1969.8H351.2V1970H352.2V1970.6H353.2V1969.6H354.2V1970.1H355.2V1968.5H356.2V1969.9H357.2V1969.8H358.2V1969.4H358.5V2001.7H358.2V2001.2H357.2V1998.3H356.2V2005.6H355.2V2000.2H354.2V1998.4H353.2V1999.7H352.2V2004.2H351.2V2001.7H350.2V1998.9H349.2V2002.9H348.2V2000.6H347.2V2000.1H346.2V1999.4H345.2V2003.6H344.2V2001.7H343.2V2000.2H342.2V2001.7H341.2V1999.8H340.2V1998.3H339.2V1998.6H338.2V2000.7H337.2V2002.1H336.2V2001H335.2V1999.7H334.2V2001.3H333.2V2000.5H332.2V2002.9H331.2V2004.3H330.2V2000H329.2V1998.6H328.2V2002H327.2V1999.3H326.2V1998.2H325.2V1999.9H324.2V2001.5H323.2V1999.2H322.2V2002.7H321.2V1999.8H320.2V2001H319.2V1999.1H318.2V1999.3H317.2V2002.6H316.2V2008H315.2V1998.4H314.2V2000.2H313.2V2002.5H312.2V1998.4H311.2V1998.2H310.2V1999.7H309.2V1998.9H308.2V2002.3H307.2V1999.7H306.2V1999.8H305.2V2001.9H304.2V1999.2H303.2V1999H302.2V2002.2H301.2V1998.2H300.2V1999.8H299.2V2001.9H298.2V2003.2H297.2V2002.9H296.2V2003.1H295.2V2004.4H294.2V2001.1H293.2V2001H292.2V2000.1H291.2V1999.2H290.2V2000.4H289.2V1999.5H288.2V2001.2H287.2V1999.7H286.2V2001.3H285.2V2001.6H284.2V2000.1H283.2V2000.5H282.2V2000.4H281.2V2001.5H280.2V1999.1H279.2V1999.6H278.2V1999.3H277.2V1999.2H276.2V1999.4H275.2V2001.5H274.2V2004.8H273.2V2005.4H272.2V1999.1H271.2V2001.9H270.2V2003.7H269.2V2000.4H268.2V2000.3H267.2V1999H266.2V1998.3H265.2V2006.4H264.2V2000.3H263.2V1999.8H262.2V2002.2H261.2V1998.1H260.2V1999.5H259.2V1999.6H258.2V1998.9H257.2V1998.9H256.2V2001.3H255.2V1998.4H254.2V2000.9H253.2V1999H252.2V2002.2H251.2V1998.5H250.2V2001.2H249.2V1998.7H248.2V1998.7H247.2V2000.9H246.2V2000.9H245.2V1998.1H244.2V1999.1H243.2V1999H242.2V2001H241.2V2006.4H240.2V2006.2H239.2V2001.8H238.2V1999.5H237.2V1998.1H236.2V2000.7H235.2V2001.2H234.2V2003.4H233.2V2000.2H232.2V2000.3H231.2V2002.4H230.2V2009.9H229.2V2001H228.2V1998.3H227.2V2001H226.2V2000.8H225.2V2005.7H224.2V1998.7H223.2V1998.5H222.2V1998.1H221.2V1998.3H220.2V1998.2H219.2V1999.5H218.2V1999.4H217.2V1999H216.2V2004.2H215.2V2003.5H214.2V2001.3H213.2V2002.1H212.2V2000.2H211.2V2000H210.2V2001H209.2V2000.4H208.2V2001.8H207.2V1999.8H206.2V2000.2H205.2V1999.1H204.2V1999.5H203.2V2001.7H202.2V1999.4H201.2V2001.5H200.2V2004.4H199.2V2001.9H198.2V1998.8H197.2V1998.4H196.2V1998.3H195.2V2003.7H194.2V1999.6H193.2V2000.1H192.2V2009.1H191.2V2000.2H190.2V1999.2H189.2V2004.3H188.2V2003.5H187.2V1999.1H186.2V2000.7H185.2V2000.4H184.2V1998.7H183.2V2001.3H182.2V2000.7H181.2V1998.2H180.2V1999.8H179.2V2001.2H178.2V1998.7H177.2V1998.2H176.2V2003.5H175.2V1999.2H174.2V2005.2H173.2V2000.2H172.2V2000.9H171.2V2001.8H170.2V1999.5H169.2V2001.2H168.2V1999.7H167.2V2000.7H166.2V1999.8H165.2V2008.1H164.2V1998.3H163.2V2007H162.2V2001.2H161.2V2005.3H160.2V2000.7H159.2V2003.8H158.2V2003.9H157.2V2003.1H156.2V1999.4H155.2V2000.6H154.2V1998.1H153.2V1998.1H152.2V2001.8H151.2V2000.1H150.2V1998.7H149.2V1998.5H148.2V2001.3H147.2V1999.1H146.2V2001.6H145.2V1998.5H144.2V1999.9H143.2V1998.7H142.2V2000.1H141.2V1999.4H140.2V2000.2H139.2V1999.1H138.2V2000.2H137.2V1998.1H136.2V2001.6H135.2V2000.4H134.2V1999H133.2V1999.6H132.2V2001.5H131.2V1999.4H130.2V2004.7H129.2V2001.8H128.2V1999.6H127.2V1999.5H126.2V2001H125.2V2000H124.2V1998.1H123.2V1998H122.2V2000.1H121.2V2000.1H120.2V1998.4H119.2V1998.9H118.2V2000.9H117.2V2001.9H116.2V1998.2H115.2V1999.1H114.2Z"/>
<path fill="#7F8CBE" d="M371.1 1966.8V1966.8H372.1V1967.9H373.1V1971.5H374.1V1969.6H375.1V1968.5H376.1V1969.3H377.1V1967.6H378.1V1970.1H379.1V1968.1H380.1V1970.3H381.1V1969.8H382.1V1967.2H383.1V1970.8H384.1V1970.4H385.1V1960.1H386.1V1971H387.1V1969.2H388.1V1965.2H389.1V1963.9H390.1V1969.6H391.1V1970H392.1V1964.3H393.1V1969.3H394.1V1971.1H395.1V1971.1H396.1V1970.4H397.1V1971H398.1V1968.8H399.1V1968.5H400.1V1967.5H401.1V1964.3H402.1V1970.6H403.1V1971.5H404.1V1971.4H405.1V1969H406.1V1966.6H407.1V1969.6H408.1V1968.7H409.1V1965.7H410.1V1969.7H411.1V1969.8H412.1V1970.3H413.1V1970.8H414.1V1967.6H415.1V1964.9H416.1V1969.3H417.1V1968.2H418.1V1971.4H419.1V1969.9H420.1V1970.4H421.1V1971.4H422.1V1971.3H423.1V1969.8H424.1V1970.9H425.1V1971.5H426.1V1969.6H427.1V1970.8H428.1V1971.3H429.1V1971.3H430.1V1967.1H431.1V1967.9H432.1V1969.5H433.1V1968.6H434.1V1971.1H435.1V1969.8H436.1V1969H437.1V1968.9H438.1V1967.4H439.1V1969.6H440.1V1967.3H441.1V1967.5H442.1V1965.7H443.1V1966.1H444.1V1970.5H445.1V1969.8H446.1V1970.3H447.1V1970.9H448.1V1970.3H449.1V1969H450.1V1970.8H451.1V1967.3H452.1V1969H453.1V1970.5H454.1V1970H455.1V1968.8H456.1V1969.8H457.1V1968.7H458.1V1971.4H459.1V1969.2H460.1V1971.3H461.1V1968.7H462.1V1968.6H463.1V1968.8H464.1V1971.2H465.1V1965.9H466.1V1966.7H467.1V1968.9H468.1V1969.4H469.1V1969.2H470.1V1969.8H471.1V1964.4H472.1V1971.3H473.1V1968.8H474.1V1970.1H475.1V1970.5H476.1V1970.7H477.1V1968.8H478.1V1969.3H479.1V1969.9H480.1V1970.2H481.1V1966.6H482.1V1967.5H483.1V1966.2H484.1V1971.4H485.1V1971.2H486.1V1967.4H487.1V1971H488.1V1964.9H489.1V1969.9H490.1V1969.5H491.1V1967H492.1V1970.4H493.1V1971.2H494.1V1969.7H495.1V1970.9H496.1V1968.5H497.1V1971H498.1V1969.4H499.1V1971.2H500.1V1969.8H501.1V1970H502.1V1969.5H503.1V1961.3H504.1V1968.4H505.1V1968H506.1V1970.3H507.1V1966.2H508.1V1969.7H509.1V1968.3H510.1V1969.4H511.1V1969.5H512.1V1969.7H513.1V1965.6H514.1V1965.1H515.1V1969.3H516.1V1968.7H517.1V1969.3H518.1V1971.4H519.1V1970.7H520.1V1963.8H521.1V1969.9H522.1V1969.6H523.1V1968.3H524.1V1967.6H525.1V1968.3H526.1V1965.9H527.1V1968.4H528.1V1967H529.1V1970.2H530.1V1967.3H531.1V1971H532.1V1967.4H533.1V1965.7H534.1V1966.6H535.1V1968.5H536.1V1968H537.1V1967.3H538.1V1962H539.1V1971H540.1V1965.6H541.1V1970.8H542.1V1969.3H543.1V1971H544.1V1969.8H545.1V1968.1H546.1V1970.3H547.1V1970.6H548.1V1967.3H549.1V1965.1H550.1V1969.8H551.1V1970.8H552.1V1970.5H553.1V1970.3H554.1V1971.3H555.1V1968.9H556.1V1968.7H557.1V1968.8H558.1V1970.2H559.1V1970H560.1V1971.3H561.1V1969.4H562.1V1970.3H563.1V1970.1H564.1V1969.1H565.1V1968.3H566.1V1969.1H567.1V1970.2H568.1V1967.3H569.1V1968.9H570.1V1963.4H571.1V1969.4H572.1V1968.4H573.1V1969.7H574.1V1969.6H575.1V1969.3H576.1V1971.4H577.1V1960.9H578.1V1971H579.1V1970.1H580.1V1970H581.1V1968.4H582.1V1971.4H583.1V1967.8H584.1V1966.9H585.1V1968.5H586.1V1964.8H587.1V1971H588.1V1970.1H589.1V1967.9H590.1V1969.4H591.1V1969.8H592.1V1967.8H593.1V1969.5H594.1V1969.4H595.1V1968.5H596.1V1968.1H597.1V1971.3H598.1V1969.3H599.1V1968.4H600.1V1968.7H601.1V1970.2H602.1V1967.9H603.1V1969.6H604.1V1966.2H605.1V1971H606.1V1970.3H607.1V1970.9H608.1V1968.8H609.1V1964.6H610.1V1966.6H611.1V1964.8H612.1V1966.8H613.1V1970.1H614.1V1970.2H614.9V1998.6H614.1V1998.6H613.1V1999.8H612.1V1998.7H611.1V1998.2H610.1V1999H609.1V2000.7H608.1V1998.8H607.1V2000.3H606.1V1999.1H605.1V2000.7H604.1V1999.3H603.1V1998.1H602.1V2001.9H601.1V1998.7H600.1V2006H599.1V1998.2H598.1V1999.4H597.1V1999.4H596.1V1999.4H595.1V2000.3H594.1V1999.6H593.1V1999.3H592.1V2001.1H591.1V1999.1H590.1V2002.6H589.1V1998.3H588.1V2002.7H587.1V1998.7H586.1V1998.5H585.1V2001.6H584.1V1999.1H583.1V2001.1H582.1V1999.9H581.1V1998.1H580.1V1998.3H579.1V1998.4H578.1V2000.3H577.1V2003.5H576.1V2001.8H575.1V2000.4H574.1V2006.9H573.1V1999.4H572.1V2001.8H571.1V1999.5H570.1V1998.6H569.1V1998.6H568.1V2000.4H567.1V1999.5H566.1V2000H565.1V1999.3H564.1V1998.8H563.1V2002.5H562.1V1999.2H561.1V2002.1H560.1V2001H559.1V2003.9H558.1V2001.8H557.1V1999.8H556.1V2001.4H555.1V2000.8H554.1V1999.5H553.1V1999.1H552.1V1999.4H551.1V1999.8H550.1V2000.8H549.1V2002.5H548.1V1998.7H547.1V2000.7H546.1V2002.9H545.1V2000.3H544.1V2001.8H543.1V1998.1H542.1V1998.9H541.1V1999.4H540.1V2000.2H539.1V1998.7H538.1V2003.7H537.1V1998.2H536.1V1998.2H535.1V1998.2H534.1V2001.9H533.1V1998.8H532.1V2002H531.1V1999.3H530.1V1998.6H529.1V2001.8H528.1V2001H527.1V2005.1H526.1V2004.5H525.1V2000.6H524.1V1998.2H523.1V1999.8H522.1V2001.4H521.1V2000.6H520.1V1999.7H519.1V2000.1H518.1V1999.5H517.1V2001.2H516.1V1999.9H515.1V2004.6H514.1V2002.4H513.1V2003.3H512.1V2002.9H511.1V2005.5H510.1V2001.9H509.1V1998.3H508.1V2000H507.1V2005H506.1V1999.3H505.1V1998.3H504.1V1999.1H503.1V1999.6H502.1V1999.7H501.1V1999.7H500.1V1998.5H499.1V1998.9H498.1V1999.6H497.1V1998.4H496.1V2000.9H495.1V1999.8H494.1V1998.6H493.1V2002.7H492.1V1999.4H491.1V2000.2H490.1V1998.3H489.1V1999.9H488.1V1999.5H487.1V2000.2H486.1V2003.8H485.1V2002.8H484.1V1998.3H483.1V2002.5H482.1V1999.5H481.1V1998.6H480.1V2001.2H479.1V1998.5H478.1V1999.1H477.1V1999.6H476.1V2002.5H475.1V2000.4H474.1V2000.7H473.1V2001.5H472.1V2000H471.1V1998.2H470.1V2000.7H469.1V2000H468.1V1999.7H467.1V1999.8H466.1V2002.9H465.1V2002.4H464.1V1998.4H463.1V1999.7H462.1V1999.2H461.1V1998.6H460.1V2001.2H459.1V1999.3H458.1V2000H457.1V2001.1H456.1V1999.3H455.1V1999.6H454.1V2002.5H453.1V1998.4H452.1V1998.6H451.1V2000.7H450.1V1999.7H449.1V1999.6H448.1V2000.2H447.1V2000.9H446.1V1998.4H445.1V1998.1H444.1V2001.1H443.1V2004.4H442.1V2003.8H441.1V2000.2H440.1V1998.2H439.1V2000H438.1V2003.4H437.1V1998.5H436.1V1998.5H435.1V2000H434.1V1998.7H433.1V2003.6H432.1V2000.5H431.1V2005.2H430.1V2001.3H429.1V2000.2H428.1V1998.4H427.1V2000.3H426.1V1998.8H425.1V2006.8H424.1V2005.8H423.1V1999H422.1V1999.8H421.1V1998.7H420.1V2001.8H419.1V1999.7H418.1V2000.1H417.1V1998.8H416.1V1999.6H415.1V2000.7H414.1V2001.9H413.1V2003.2H412.1V1999.4H411.1V1998.6H410.1V1998.2H409.1V2001.4H408.1V1998H407.1V1999.2H406.1V2003.9H405.1V2000.3H404.1V2003.4H403.1V1998.2H402.1V2002.6H401.1V2000H400.1V2000.7H399.1V2002.6H398.1V1999.9H397.1V1998.4H396.1V1999.6H395.1V2000.6H394.1V2003.8H393.1V2004.8H392.1V2000.4H391.1V2004.5H390.1V2001.3H389.1V1999.2H388.1V1999.7H387.1V1999H386.1V1999.7H385.1V1998.8H384.1V2000H383.1V1998.9H382.1V1999.3H381.1V2001.4H380.1V1999.2H379.1V2001.8H378.1V2000.9H377.1V1999.5H376.1V2000.1H375.1V2000.4H374.1V2001.5H373.1V2000.2H372.1V2004H371.1Z"/>
<path fill="#D32F2F" d="M626.5 1970.1V1970.1H627.5V1967.8H628.5V1968.3H629.5V1969.1H630.5V1968.3H631.5V1970.4H632.5V1971.4H633.5V1970.5H634.5V1968.5H635.5V1969H636.5V1969.3H637.5V1971H638.5V1970.2H639.5V1968.7H640.5V1968.2H641.5V1969.4H642.5V1970.3H643.5V1967.2H644.5V1967.2H645.5V1967.5H646.5V1965.9H647.5V1966.7H648.5V1968.5H649.5V1967.8H650.5V1971.5H651.5V1971H652.5V1968.3H653.5V1966.8H654.5V1967H655.5V1968.9H656.5V1968.7H657.5V1967.6H658.5V1970.1H659.5V1965.7H660.5V1964.9H661.5V1967.4H662.5V1967H663.5V1970.3H664.5V1968.7H665.5V1970.6H666.5V1967.7H667.5V1969.8H668.5V1963.9H669.5V1961.3H670.5V1969.9H671.5V1968.4H672.5V1966.9H673.5V1969.3H674.5V1968.1H675.5V1965.9H676.5V1971.2H677.5V1968.4H678.5V1969.4H679.5V1970.2H680.5V1970.4H681.5V1969.2H682.5V1971.2H683.5V1969.1H684.5V1971.3H685.5V1968.6H686.5V1968.5H687.5V1971H688.5V1970.6H689.5V1971.3H690.5V1965.4H691.5V1966H692.5V1970H693.5V1970.9H694.5V1970.4H695.5V1969.8H696.5V1970.4H697.5V1970.9H698.5V1966.9H699.5V1969.6H700.5V1971H701.5V1969.6H702.5V1968.2H703.5V1969.6H704.5V1966.5H705.5V1970.5H706.5V1969.4H707.5V1969.6H708.5V1969.2H709.5V1967.4H710.5V1968.6H711.5V1968.9H712.5V1966.1H713.5V1962.8H714.5V1971.1H715.5V1969.2H716.5V1969.3H717.5V1962.8H718.5V1967.7H719.5V1968.1H720.5V1970.9H721.5V1971H722.5V1968.6H723.5V1968.2H724.5V1969.6H725.5V1970.3H726.5V1967.5H727.5V1969.5H728.5V1970.8H729.5V1968.6H730.5V1967.6H731.5V1964.9H732.5V1969.7H733.5V1970.4H734.5V1968H735.5V1965H736.5V1965.7H737.5V1970.9H738.5V1968.9H739.5V1968.8H740.5V1965.6H741.5V1965.9H742.5V1970.8H743.5V1969.1H744.5V1971.5H745.5V1971H746.5V1964.3H747.5V1969.7H748.5V1969.2H749.5V1967.5H750.5V1971.5H751.5V1969.6H752.5V1969.2H753.5V1969.3H754.5V1968.4H755.5V1965.5H756.5V1970.9H757.5V1968H758.5V1968.8H759.5V1971.1H760.5V1970.3H761.5V1965.6H762.5V1969.3H763.5V1970.8H764.5V1968.9H765.5V1970.3H766.5V1968.5H767.5V1969.3H768.5V1965.4H769.5V1964.9H770.5V1969.2H771.5V1967.3H772.5V1970.3H773.5V1968.8H774.5V1971.3H775.5V1963.8H776.5V1967.8H777.5V1968.4H778.5V1971.4H779.5V1968H780.5V1971H781.5V1970.9H782.5V1969.4H783.5V1970.2H784.5V1968.9H785.5V1964.8H786.5V1969.2H787.5V1970.1H788.5V1970.9H789.5V1970H790.5V1971.5H791.5V1970.2H792.5V1971.3H793.5V1970.4H794.5V1970H795.5V1966.4H796.5V1969.4H797.5V1967H798.5V1966.4H799.5V1970.2H800.5V1967H801.5V1970.9H802.5V1966.2H803.5V1970.8H804.5V1966.7H805.5V1966.9H806.5V1969.2H807.5V1970.6H808.5V1971.5H809.5V1969.5H810.5V1968H811.5V1971.4H812.5V1968.4H813.5V1967.9H814.5V1965.2H815.5V1970.3H816.5V1967.6H817.5V1971.4H818.5V1964.7H819.5V1969.5H820.5V1968.9H821.5V1970.3H822.5V1968.2H823.5V1968.5H824.5V1969.9H825.5V1970.5H826.5V1969.5H827.5V1970.3H828.5V1967.7H829.5V1970H830.5V1971.4H831.5V1966.5H832.5V1968.9H833.5V1969.8H834.5V1967.8H835.5V1971.4H836.5V1969.3H837.5V1971H838.5V1970.1H839.5V1969.5H840.5V1970.5H841.5V1961.7H842.5V1970.7H843.5V1970H844.5V1969.5H845.5V1966.2H846.5V1965.8H847.5V1971.2H848.5V1970.4H849.5V1970.6H850.5V1966.1H851.5V1971.1H852.5V1970.3H853.5V1970.3H854.5V1968.9H855.5V1962.3H856.5V1968.6H857.5V1968H858.5V1970.8H859.5V1971.5H860.5V1970.3H861.5V1965.1H862.5V1968.9H863.5V1965.9H864.5V1967.2H865.5V1970H866.5V1969.8H867.5V1970.3H868.5V1971.3H869.5V1970.3H870.5V1966.6H870.7V1998H870.5V1999.6H869.5V2000.9H868.5V2001H867.5V1999.8H866.5V1998.6H865.5V2004.3H864.5V2000.9H863.5V2001.1H862.5V2003.4H861.5V2000.8H860.5V2003.3H859.5V1998.5H858.5V2001.1H857.5V2000.3H856.5V2000.5H855.5V2000.2H854.5V1999.2H853.5V1999.4H852.5V1999.9H851.5V2002H850.5V1998.9H849.5V2009.5H848.5V2002.8H847.5V1999.2H846.5V2000.8H845.5V1998.9H844.5V2001.2H843.5V1999.5H842.5V1998.2H841.5V1998H840.5V2001.7H839.5V2003.6H838.5V1999H837.5V1998.4H836.5V2002.8H835.5V1999H834.5V2001.9H833.5V1998.7H832.5V1999.6H831.5V1999H830.5V1999.8H829.5V2004.5H828.5V1999.7H827.5V2006.4H826.5V1999.9H825.5V1998.9H824.5V1999.2H823.5V2000.7H822.5V2002.5H821.5V1998.2H820.5V1999H819.5V2004.3H818.5V2001.3H817.5V2002.2H816.5V2002H815.5V1999.3H814.5V1998.7H813.5V1998H812.5V2002.2H811.5V1998.7H810.5V1999.3H809.5V2006.2H808.5V2001.7H807.5V2002H806.5V1998.6H805.5V2001.5H804.5V1998.5H803.5V2000.2H802.5V2002.7H801.5V2002.1H800.5V2000.5H799.5V2000.4H798.5V2004.3H797.5V1998.2H796.5V2000H795.5V1999.5H794.5V2002.5H793.5V1998.7H792.5V2002.7H791.5V1999.9H790.5V2000.1H789.5V1998.2H788.5V2000.6H787.5V1999.2H786.5V2001.1H785.5V2000.1H784.5V2003.3H783.5V2001.6H782.5V2001.8H781.5V2000.6H780.5V1999.4H779.5V2001.9H778.5V2000.5H777.5V1999.5H776.5V2003.7H775.5V2000.3H774.5V2004.8H773.5V1999.8H772.5V1999.4H771.5V2002.3H770.5V2002.9H769.5V1999H768.5V1999.4H767.5V1999.3H766.5V2002.6H765.5V1999.6H764.5V2000H763.5V1999.4H762.5V2002.6H761.5V1998.1H760.5V1999.5H759.5V2001.7H758.5V1999.8H757.5V2002.6H756.5V1999.8H755.5V1998.9H754.5V2002.6H753.5V1998.8H752.5V2002.7H751.5V2001.7H750.5V1999.5H749.5V2000.2H748.5V1999.2H747.5V1999.2H746.5V1999H745.5V2000H744.5V2000.8H743.5V2001.6H742.5V2003.2H741.5V2000.9H740.5V2001.7H739.5V1998.3H738.5V2002.3H737.5V1999.9H736.5V2001H735.5V2001.8H734.5V1999.1H733.5V2002.2H732.5V2003.4H731.5V1999.8H730.5V2002.4H729.5V2007.4H728.5V2003H727.5V2000.3H726.5V2003.6H725.5V2001H724.5V1999.2H723.5V2000H722.5V2003.6H721.5V2001.2H720.5V1998.1H719.5V1999.9H718.5V1998.3H717.5V2001.1H716.5V1998.8H715.5V2000.2H714.5V1998.5H713.5V2000.3H712.5V1998.7H711.5V2000.6H710.5V1998.7H709.5V1998.6H708.5V2006.4H707.5V1998.3H706.5V1999.6H705.5V1998.8H704.5V1998.4H703.5V1998.6H702.5V2001.4H701.5V2004.8H700.5V1999H699.5V2000.1H698.5V1999.4H697.5V2000.5H696.5V1999.6H695.5V2005.2H694.5V1999.5H693.5V1998.7H692.5V2003.3H691.5V2000.6H690.5V1998.5H689.5V2001.9H688.5V2000.7H687.5V1998.2H686.5V1998.2H685.5V2000.2H684.5V2002.7H683.5V2000.5H682.5V1998.3H681.5V1999.9H680.5V1999.9H679.5V1998.6H678.5V1999.9H677.5V1998.4H676.5V1998.9H675.5V2003.4H674.5V2002H673.5V2005.5H672.5V1999.9H671.5V2001.8H670.5V2003.4H669.5V2001.1H668.5V1999.9H667.5V1998.3H666.5V2001H665.5V1998.5H664.5V1998.2H663.5V1998.5H662.5V2007.4H661.5V2004.1H660.5V2000.8H659.5V1998.4H658.5V1998.1H657.5V1998.8H656.5V1999.1H655.5V2000.5H654.5V1999.3H653.5V2003H652.5V2000.4H651.5V1999.6H650.5V1998.5H649.5V2001.8H648.5V2003.6H647.5V2001.2H646.5V1998.9H645.5V2001H644.5V2004H643.5V2001.7H642.5V1999.5H641.5V1999H640.5V2000.6H639.5V2000.6H638.5V2001.9H637.5V2002.1H636.5V2001.1H635.5V1998.4H634.5V1999.5H633.5V1999.8H632.5V2000.8H631.5V2001.1H630.5V2000.4H629.5V1999.9H628.5V1999.1H627.5V1998.4H626.5Z"/>
<path fill="#DB7479" d="M883.3 1967.2V1967.2H884.3V1971.1H885.3V1968.6H886.3V1969.6H887.3V1968.5H888.3V1970.2H889.3V1969.5H890.3V1970.5H891.3V1966.1H892.3V1969.7H893.3V1965.6H894.3V1970H895.3V1970.7H896.3V1968.7H897.3V1967.9H898.3V1963.5H899.3V1968.6H900.3V1968.7H901.3V1970.8H902.3V1970.5H903.3V1968.8H904.3V1968.6H905.3V1970.5H906.3V1971.2H907.3V1961.6H908.3V1970.4H909.3V1967.4H910.3V1970.7H911.3V1968.3H912.3V1969.5H913.3V1971.3H914.3V1969.4H915.3V1965.4H916.3V1969.4H917.3V1968.1H918.3V1965.8H919.3V1970.8H920.3V1969.9H921.3V1970H922.3V1969.9H923.3V1970.2H924.3V1968.3H925.3V1971H926.3V1967.9H927.3V1968.6H928.3V1968.4H929.3V1968.3H930.3V1967.2H931.3V1970.4H932.3V1970.5H933.3V1970.6H934.3V1970.8H935.3V1971.4H936.3V1970.6H937.3V1964.9H938.3V1971.2H939.3V1968.7H940.3V1970.1H941.3V1970.2H942.3V1966.3H943.3V1966.6H944.3V1970.7H945.3V1968.4H946.3V1966.7H947.3V1970.9H948.3V1970.3H949.3V1970.5H950.3V1971.5H951.3V1970.7H952.3V1967.8H953.3V1970.5H954.3V1970.2H955.3V1971.3H956.3V1970.2H957.3V1969.3H958.3V1971.1H959.3V1966.2H960.3V1970.2H961.3V1971H962.3V1969.2H963.3V1969.7H964.3V1969.4H965.3V1965.1H966.3V1970.3H967.3V1966.7H968.3V1971.1H969.3V1970.6H970.3V1969.4H971.3V1968.8H972.3V1971.1H973.3V1964.7H974.3V1969.8H975.3V1966.1H976.3V1966.7H977.3V1970.9H978.3V1966.9H979.3V1971.2H980.3V1968.6H981.3V1962.3H982.3V1968.6H983.3V1970.8H984.3V1965.4H985.3V1970.8H986.3V1968.2H987.3V1966.2H988.3V1970.8H989.3V1968.3H990.3V1966.8H991.3V1970.7H992.3V1969.8H993.3V1971.4H994.3V1971.2H995.3V1967.7H996.3V1970.3H997.3V1970.7H998.3V1966.6H999.3V1969.2H1000.3V1970H1001.3V1965.6H1002.3V1970.5H1003.3V1969H1004.3V1971.3H1005.3V1970.8H1006.3V1971.2H1007.3V1965.2H1008.3V1966.6H1009.3V1971H1010.3V1970.4H1011.3V1970.4H1012.3V1968.3H1013.3V1967.2H1014.3V1970.5H1015.3V1964.3H1016.3V1969.2H1017.3V1965.6H1018.3V1969.5H1019.3V1964.9H1020.3V1971.2H1021.3V1959.5H1022.3V1971H1023.3V1967.5H1024.3V1967.7H1025.3V1966.2H1026.3V1967.4H1027.3V1961.4H1028.3V1967.5H1029.3V1968.2H1030.3V1968.8H1031.3V1969.6H1032.3V1970.5H1033.3V1966.7H1034.3V1970.3H1035.3V1969.5H1036.3V1971.1H1037.3V1970.3H1038.3V1966.5H1039.3V1968.1H1040.3V1971.2H1041.3V1970.2H1042.3V1970.5H1043.3V1970.4H1044.3V1969.4H1045.3V1965.2H1046.3V1970.9H1047.3V1965.6H1048.3V1971.4H1049.3V1967.3H1050.3V1966.9H1051.3V1967.5H1052.3V1970.7H1053.3V1968.4H1054.3V1969.4H1055.3V1971.4H1056.3V1967.5H1057.3V1967.6H1058.3V1970.9H1059.3V1968.1H1060.3V1969H1061.3V1970.9H1062.3V1967.1H1063.3V1969.1H1064.3V1965H1065.3V1968.8H1066.3V1971.3H1067.3V1969.1H1068.3V1968.2H1069.3V1968.5H1070.3V1970.5H1071.3V1967.7H1072.3V1967.1H1073.3V1969.1H1074.3V1970.4H1075.3V1966.1H1076.3V1969.7H1077.3V1971.4H1078.3V1970.1H1079.3V1970.5H1080.3V1968.2H1081.3V1970.9H1082.3V1969.2H1083.3V1968.6H1084.3V1970.9H1085.3V1969H1086.3V1966.6H1087.3V1970.9H1088.3V1968.1H1089.3V1968.4H1090.3V1969.5H1091.3V1970.6H1092.3V1970.1H1093.3V1970.6H1094.3V1969.6H1095.3V1970.2H1096.3V1968.9H1097.3V1966.2H1098.3V1971.4H1099.3V1969.6H1100.3V1969.4H1101.3V1971.4H1102.3V1970.7H1103.3V1971.2H1104.3V1967.3H1105.3V1969.9H1106.3V1969.8H1107.3V1968.3H1108.3V1966.4H1109.3V1965.9H1110.3V1970.2H1111.3V1967.7H1112.3V1968.7H1113.3V1968H1114.3V1969.8H1115.3V1969.2H1116.3V1970.4H1117.3V1969.2H1118.3V1971.1H1119.3V1969.7H1120.3V1969.1H1121.3V1967H1122.3V1964.5H1123.3V1971.2H1124.3V1971H1125.3V1968H1126.3V1964.1H1127.3V1967.6H1127.8V2001.5H1127.3V1998.8H1126.3V1998.4H1125.3V2002.8H1124.3V2000.5H1123.3V2002.2H1122.3V1999H1121.3V2000.4H1120.3V1998.3H1119.3V2000H1118.3V2002.8H1117.3V2001.8H1116.3V2000.3H1115.3V2001.4H1114.3V1999.1H1113.3V1998.5H1112.3V2002.7H1111.3V2000.6H1110.3V2002.3H1109.3V2000.3H1108.3V2001.9H1107.3V1999.4H1106.3V2000.1H1105.3V2004.1H1104.3V2004H1103.3V2002H1102.3V2002.1H1101.3V2011.4H1100.3V2002.4H1099.3V1998.9H1098.3V2000.4H1097.3V2001.4H1096.3V2000H1095.3V2001.6H1094.3V1998.8H1093.3V1998.9H1092.3V1998.4H1091.3V2002.5H1090.3V1999.3H1089.3V1999H1088.3V2002.1H1087.3V1999H1086.3V1998.2H1085.3V1998.8H1084.3V2002.9H1083.3V2003H1082.3V2009.6H1081.3V2002.2H1080.3V1999.3H1079.3V2001.9H1078.3V1998.3H1077.3V1998.2H1076.3V2000.3H1075.3V2000.9H1074.3V1998.3H1073.3V1999.5H1072.3V1998.1H1071.3V2000H1070.3V1999.1H1069.3V2000.9H1068.3V1999.4H1067.3V1998.8H1066.3V1998.9H1065.3V1999.4H1064.3V2002.2H1063.3V1999.5H1062.3V1998.4H1061.3V1998.8H1060.3V1998.6H1059.3V2000.1H1058.3V1999.3H1057.3V1998.5H1056.3V1998.1H1055.3V1999.8H1054.3V1999.9H1053.3V2000.6H1052.3V2000H1051.3V1998.8H1050.3V2001.6H1049.3V1998H1048.3V2002.3H1047.3V1999.2H1046.3V1998.4H1045.3V1999.6H1044.3V2000H1043.3V2006.4H1042.3V1999H1041.3V1999.7H1040.3V2001.6H1039.3V2001.4H1038.3V2003.4H1037.3V2001.7H1036.3V1999.5H1035.3V2007.1H1034.3V2000.5H1033.3V2000.8H1032.3V1999.5H1031.3V1998.2H1030.3V1998.2H1029.3V1998.4H1028.3V1999.8H1027.3V1998.4H1026.3V1999.4H1025.3V2000.4H1024.3V1999.9H1023.3V2002.1H1022.3V2000.3H1021.3V2000.1H1020.3V1998.4H1019.3V1998.5H1018.3V2000.7H1017.3V2002H1016.3V2003.7H1015.3V1998.3H1014.3V2000.2H1013.3V2002.9H1012.3V2005.5H1011.3V1999.3H1010.3V2001.6H1009.3V1998.9H1008.3V2002.7H1007.3V2003.3H1006.3V2003.7H1005.3V1998.5H1004.3V2001.2H1003.3V1999.9H1002.3V2002H1001.3V2000.7H1000.3V1998.8H999.3V2001.8H998.3V1998.1H997.3V2002.7H996.3V2001.6H995.3V1998.2H994.3V2001.5H993.3V1998.6H992.3V1998.5H991.3V1999.6H990.3V1999.7H989.3V2002.4H988.3V1998.1H987.3V1999.2H986.3V1998.1H985.3V1998.8H984.3V2007.4H983.3V1998.2H982.3V1999H981.3V1999H980.3V2000.7H979.3V2001.1H978.3V2000.4H977.3V2001.6H976.3V2000H975.3V2003.2H974.3V1999.8H973.3V2003.5H972.3V1998.8H971.3V2002.7H970.3V2003.2H969.3V1998.3H968.3V2001.1H967.3V2000.6H966.3V2001.2H965.3V1999.8H964.3V2001.4H963.3V2000.4H962.3V2001.2H961.3V1999.8H960.3V2001.9H959.3V1999.5H958.3V2002.5H957.3V1999.2H956.3V1998.1H955.3V1999H954.3V2001.2H953.3V2000.4H952.3V1998.8H951.3V1998.1H950.3V2003.1H949.3V2001H948.3V1998.7H947.3V2000.2H946.3V1999.9H945.3V2002.4H944.3V1999.4H943.3V2005.7H942.3V1998.5H941.3V1998.7H940.3V1998.5H939.3V1998.7H938.3V2001.9H937.3V1999.7H936.3V1998.7H935.3V2000.4H934.3V2004.1H933.3V1998.8H932.3V1999H931.3V2001.2H930.3V2000.8H929.3V2002.4H928.3V2001.2H927.3V2000.4H926.3V2002.1H925.3V2001.4H924.3V1999.4H923.3V2001.1H922.3V1998.3H921.3V2000.7H920.3V1999.7H919.3V1999.9H918.3V1998.9H917.3V2002.4H916.3V2001H915.3V2004.3H914.3V1998.9H913.3V2000.8H912.3V2002.1H911.3V1998.6H910.3V1999.8H909.3V1999.2H908.3V1999.3H907.3V2001.2H906.3V1999.4H905.3V1998.9H904.3V2000.1H903.3V2000.8H902.3V2000.4H901.3V2001H900.3V2000.1H899.3V2000.5H898.3V2005.3H897.3V2000.5H896.3V1999.3H895.3V1998.3H894.3V1998.3H893.3V2000.3H892.3V1999.4H891.3V1998.2H890.3V2002.4H889.3V1999.2H888.3V2002.3H887.3V2002.6H886.3V1999.2H885.3V2001.4H884.3V1998.2H883.3Z"/>
<rect x="118.1" y="1858.2" width="1.6" height="266" fill="#4A5AA6"/>
<rect x="380.3" y="1917.5" width="1.6" height="134.3" fill="#8794C4"/>
<path fill="#38499A" d="M114.2 2343.2 115.2 2343.7 116.2 2343.5 117.2 2344.6 118.2 2344.8 119.2 2344.3 120.2 2343.1 121.2 2342.2 122.2 2342.3 123.2 2344.4 124.2 2345.6 125.2 2345.4 126.2 2343.9 127.2 2344.4 128.2 2344.5 129.2 2344.8 130.2 2346.2 131.2 2343.6 132.2 2342.3 133.2 2328.7 134.2 2311.3 135.2 2278.2 136.2 2238.2 137.2 2205.2 138.2 2173.3 139.2 2145 140.2 2169.3 141.2 2201.4 142.2 2237.3 143.2 2275.7 144.2 2310 145.2 2331.5 146.2 2353.6 147.2 2372.3 148.2 2378.7 149.2 2386.4 150.2 2391.2 151.2 2394.6 152.2 2396.8 153.2 2399.3 154.2 2398.4 155.2 2398.3 156.2 2397.7 157.2 2395.8 158.2 2396 159.2 2395.7 160.2 2395.1 161.2 2394.6 162.2 2395.1 163.2 2394.4 164.2 2394.6 165.2 2393.5 166.2 2393.1 167.2 2393.4 168.2 2393.5 169.2 2392.2 170.2 2391.6 171.2 2392.6 172.2 2392.4 173.2 2391.7 174.2 2390.9 175.2 2391.5 176.2 2391 177.2 2390.5 178.2 2390.6 179.2 2389.6 180.2 2389.9 181.2 2389.3 182.2 2389.2 183.2 2388.9 184.2 2388.5 185.2 2388.2 186.2 2387.7 187.2 2387.8 188.2 2386.4 189.2 2383.9 190.2 2376.9 191.2 2366.4 192.2 2355.6 193.2 2344.8 194.2 2339.5 195.2 2334.1 196.2 2327.1 197.2 2323.5 198.2 2323 199.2 2321.8 200.2 2320.6 201.2 2319.2 202.2 2319.5 203.2 2319 204.2 2318.6 205.2 2318.5 206.2 2319.9 207.2 2322.4 208.2 2322.3 209.2 2326.8 210.2 2328.1 211.2 2330 212.2 2331.2 213.2 2330.1 214.2 2329.1 215.2 2327.1 216.2 2325.1 217.2 2323.1 218.2 2320.3 219.2 2318.5 220.2 2317.5 221.2 2317.3 222.2 2315 223.2 2315.8 224.2 2315.2 225.2 2314.7 226.2 2315.8 227.2 2316.5 228.2 2316.9 229.2 2316.9 230.2 2318 231.2 2317.8 232.2 2318 233.2 2317.5 234.2 2318.7 235.2 2315.8 236.2 2317.4 237.2 2316.4 238.2 2318 239.2 2318.9 240.2 2319.1 241.2 2319.3 242.2 2319.6 243.2 2319.8 244.2 2320.1 245.2 2320.7 246.2 2320.4 247.2 2321.4 248.2 2322.8 249.2 2322.8 250.2 2325.3 251.2 2327 252.2 2327.3 253.2 2327.4 254.2 2330.8 255.2 2332.4 256.2 2333.2 257.2 2335.7 258.2 2336.7 259.2 2337.3 260.2 2339.9 261.2 2339.5 262.2 2341.9 263.2 2343 264.2 2342.8 265.2 2343.5 266.2 2343 267.2 2343.6 268.2 2343.1 269.2 2343.8 270.2 2343.3 271.2 2342 272.2 2342.3 273.2 2343.2 274.2 2342.5 275.2 2343.2 276.2 2342.1 277.2 2341.9 278.2 2341.4 279.2 2341.8 280.2 2341.8 281.2 2341.4 282.2 2341.9 283.2 2341.9 284.2 2342.7 285.2 2342.7 286.2 2341.8 287.2 2342.8 288.2 2342.2 289.2 2342 290.2 2343.2 291.2 2342.5 292.2 2343.5 293.2 2342.4 294.2 2342.4 295.2 2343.2 296.2 2342.5 297.2 2343.3 298.2 2343.7 299.2 2344 300.2 2343.5 301.2 2344 302.2 2343.2 303.2 2341.5 304.2 2341.9 305.2 2343 306.2 2342.3 307.2 2341.8 308.2 2342.1 309.2 2342 310.2 2342.1 311.2 2342 312.2 2340.1 313.2 2340.7 314.2 2341.7 315.2 2341.6 316.2 2341.5 317.2 2340.2 318.2 2340 319.2 2340.9 320.2 2340.7 321.2 2341.1 322.2 2341.3 323.2 2340.2 324.2 2341.7 325.2 2340.9 326.2 2341.7 327.2 2341 328.2 2341.8 329.2 2342.4 330.2 2342.1 331.2 2342.5 332.2 2341.7 333.2 2342.8 334.2 2341.9 335.2 2343 336.2 2342.4 337.2 2343.4 338.2 2342.7 339.2 2343.6 340.2 2343 341.2 2344.7 342.2 2343.7 343.2 2345.6 344.2 2345.8 345.2 2344.9 346.2 2345.4 347.2 2345.7 348.2 2344.7 349.2 2344.8 350.2 2345.5 351.2 2344.1 352.2 2344 353.2 2344.7 354.2 2344.3 355.2 2344.5 356.2 2344.1 357.2 2343.1 358.2 2343.7 L358.2 2352.1 357.2 2352.4 356.2 2352.2 355.2 2353.3 354.2 2352.9 353.2 2353.7 352.2 2353.3 351.2 2354 350.2 2353 349.2 2354.5 348.2 2355.1 347.2 2353.6 346.2 2354.7 345.2 2353.9 344.2 2353.7 343.2 2354.2 342.2 2353.8 341.2 2353.8 340.2 2352.5 339.2 2352.9 338.2 2353.2 337.2 2351.6 336.2 2351.2 335.2 2352 334.2 2351.5 333.2 2351 332.2 2351.8 331.2 2350.3 330.2 2350.2 329.2 2350.3 328.2 2349.9 327.2 2350.7 326.2 2350.1 325.2 2349.8 324.2 2350 323.2 2349.7 322.2 2349.6 321.2 2349.6 320.2 2349.4 319.2 2349.6 318.2 2349.3 317.2 2350.4 316.2 2349.7 315.2 2351.3 314.2 2349.8 313.2 2351.2 312.2 2349.6 311.2 2349.9 310.2 2349.8 309.2 2350 308.2 2350.2 307.2 2351 306.2 2352 305.2 2351.1 304.2 2351.9 303.2 2351.2 302.2 2351.7 301.2 2351.6 300.2 2351.9 299.2 2351.8 298.2 2352.3 297.2 2352.1 296.2 2351.4 295.2 2351.8 294.2 2352.4 293.2 2351.2 292.2 2351 291.2 2352 290.2 2351.6 289.2 2352.6 288.2 2350.9 287.2 2350.7 286.2 2350.8 285.2 2351.3 284.2 2350.5 283.2 2350.3 282.2 2350.8 281.2 2350.3 280.2 2349.9 279.2 2350.1 278.2 2350.2 277.2 2351.4 276.2 2352 275.2 2351.2 274.2 2351.7 273.2 2351.8 272.2 2351.7 271.2 2351.6 270.2 2352 269.2 2351.9 268.2 2351.7 267.2 2352.8 266.2 2351.3 265.2 2351.2 264.2 2351.6 263.2 2351.1 262.2 2350.5 261.2 2348.9 260.2 2347.5 259.2 2346.4 258.2 2346.2 257.2 2344 256.2 2343.1 255.2 2340.7 254.2 2339.4 253.2 2338.3 252.2 2337.9 251.2 2335.7 250.2 2334.3 249.2 2331.9 248.2 2330.6 247.2 2329.8 246.2 2329.3 245.2 2328.3 244.2 2328.2 243.2 2328.6 242.2 2328 241.2 2327.8 240.2 2327.4 239.2 2327 238.2 2326.9 237.2 2326.8 236.2 2326.5 235.2 2328 234.2 2326.6 233.2 2326.9 232.2 2326 231.2 2327.4 230.2 2326.9 229.2 2325.9 228.2 2325.2 227.2 2325.1 226.2 2324.5 225.2 2324.4 224.2 2323.9 223.2 2325.1 222.2 2325.8 221.2 2325.3 220.2 2325.9 219.2 2329.2 218.2 2330.3 217.2 2331.6 216.2 2334.2 215.2 2335.4 214.2 2337.1 213.2 2339 212.2 2340.8 211.2 2339.3 210.2 2337.3 209.2 2335 208.2 2332.9 207.2 2330.6 206.2 2329.5 205.2 2326.8 204.2 2326.6 203.2 2328 202.2 2327.7 201.2 2328 200.2 2329 199.2 2330.2 198.2 2331.2 197.2 2332 196.2 2336.9 195.2 2342.7 194.2 2348.1 193.2 2352.7 192.2 2363.3 191.2 2375.8 190.2 2386.9 189.2 2391.6 188.2 2395.3 187.2 2396.4 186.2 2396.4 185.2 2397.3 184.2 2397.7 183.2 2397 182.2 2398.1 181.2 2398.1 180.2 2399 179.2 2398.1 178.2 2398.4 177.2 2399.2 176.2 2399.5 175.2 2401.3 174.2 2399.9 173.2 2401.1 172.2 2400.5 171.2 2401.5 170.2 2401.4 169.2 2401.3 168.2 2402 167.2 2403.1 166.2 2402.3 165.2 2403.3 164.2 2403.1 163.2 2402.7 162.2 2403.3 161.2 2404 160.2 2403.5 159.2 2403.5 158.2 2404.1 157.2 2404.7 156.2 2406 155.2 2406.5 154.2 2407.8 153.2 2408 152.2 2404.9 151.2 2403 150.2 2400.7 149.2 2394.4 148.2 2388.6 147.2 2380.9 146.2 2363.4 145.2 2340.4 144.2 2318.3 143.2 2283.6 142.2 2245.5 141.2 2209.4 140.2 2178.2 139.2 2154.3 138.2 2184.2 137.2 2214 136.2 2246.1 135.2 2287.9 134.2 2319.2 133.2 2337.9 132.2 2350.5 131.2 2353.2 130.2 2354.9 129.2 2354.9 128.2 2354.5 127.2 2352.6 126.2 2352.7 125.2 2354.2 124.2 2353.8 123.2 2353.9 122.2 2353.3 121.2 2351.5 120.2 2352.8 119.2 2352 118.2 2353.2 117.2 2353.7 116.2 2353.2 115.2 2352.4 114.2 2352.3Z"/>
<path fill="none" stroke="#5B69AE" stroke-width="3.2" stroke-linejoin="round" d="M132.5 2346 L134.5 2310 L136.5 2230 L139.3 2146 L141.5 2215 L144 2310 L147 2375 L150 2396 L153.4 2404 L158 2400"/>
<path fill="none" stroke="#38499A" stroke-width="1.6" stroke-linejoin="round" d="M131.4 2346 L133.4 2310 L135.4 2230 L139.3 2146 L142.6 2215 L145.1 2310 L148.1 2375"/>
<path fill="none" stroke="#38499A" stroke-width="2.5" stroke-linejoin="round" d="M188 2392 L190 2385 L193 2350 L197 2328 L201 2324"/>
<rect x="118.1" y="2340" width="1.6" height="48" fill="#4A5AA6"/>
<path fill="#7F8CBE" d="M371.1 2337 372.1 2336.3 373.1 2337.6 374.1 2337.9 375.1 2336.9 376.1 2337.2 377.1 2338.1 378.1 2338.1 379.1 2338.5 380.1 2339.2 381.1 2338.9 382.1 2340.1 383.1 2340 384.1 2338.4 385.1 2337.4 386.1 2335.7 387.1 2333.6 388.1 2332.9 389.1 2329.6 390.1 2326.1 391.1 2322.6 392.1 2320 393.1 2316 394.1 2314.8 395.1 2312.2 396.1 2309.6 397.1 2309 398.1 2306.3 399.1 2311.6 400.1 2316 401.1 2320.9 402.1 2324.7 403.1 2330.7 404.1 2335.8 405.1 2340.7 406.1 2342.9 407.1 2345.6 408.1 2347.5 409.1 2351 410.1 2353.3 411.1 2353.4 412.1 2353.9 413.1 2355.4 414.1 2356.1 415.1 2355.6 416.1 2356.7 417.1 2357.1 418.1 2357.1 419.1 2356.2 420.1 2356.8 421.1 2356.9 422.1 2357.6 423.1 2359.4 424.1 2359.5 425.1 2360.4 426.1 2359 427.1 2356.3 428.1 2353.5 429.1 2353.1 430.1 2351.7 431.1 2349.9 432.1 2346.9 433.1 2347.2 434.1 2346.5 435.1 2345.2 436.1 2344.4 437.1 2344.8 438.1 2344.7 439.1 2343.7 440.1 2343.8 441.1 2343.3 442.1 2342.8 443.1 2343.7 444.1 2342.5 445.1 2342.3 446.1 2342.8 447.1 2341.7 448.1 2342.1 449.1 2342 450.1 2340.9 451.1 2341.1 452.1 2341.3 453.1 2340.9 454.1 2341.9 455.1 2343.5 456.1 2344.1 457.1 2344 458.1 2344.9 459.1 2345.1 460.1 2346.3 461.1 2346.8 462.1 2346.1 463.1 2345.8 464.1 2344.4 465.1 2343.9 466.1 2343.2 467.1 2342.3 468.1 2340.7 469.1 2341.3 470.1 2340.2 471.1 2341 472.1 2340.7 473.1 2340.6 474.1 2339.4 475.1 2339.9 476.1 2339.3 477.1 2339.9 478.1 2340.2 479.1 2339.8 480.1 2340.3 481.1 2340.3 482.1 2340 483.1 2339.6 484.1 2340.4 485.1 2340.3 486.1 2340.4 487.1 2339.6 488.1 2339.8 489.1 2340.2 490.1 2340.4 491.1 2339.4 492.1 2339.7 493.1 2339.7 494.1 2339.1 495.1 2339 496.1 2338.5 497.1 2338.4 498.1 2338.1 499.1 2338.4 500.1 2337.9 501.1 2337.9 502.1 2337.9 503.1 2338.2 504.1 2337.5 505.1 2336.9 506.1 2337.2 507.1 2337.5 508.1 2336.8 509.1 2335.6 510.1 2336.3 511.1 2337.4 512.1 2337 513.1 2337.7 514.1 2336.8 515.1 2337.7 516.1 2337.7 517.1 2337.2 518.1 2337.7 519.1 2337 520.1 2337.3 521.1 2338.3 522.1 2337.9 523.1 2338.5 524.1 2338.5 525.1 2338.8 526.1 2339.2 527.1 2339 528.1 2339.1 529.1 2337.5 530.1 2339.7 531.1 2339 532.1 2339.2 533.1 2338.2 534.1 2339.8 535.1 2339.7 536.1 2340.1 537.1 2340.5 538.1 2340.6 539.1 2340.1 540.1 2340.5 541.1 2340.8 542.1 2340.7 543.1 2340.7 544.1 2340.9 545.1 2340.7 546.1 2339.4 547.1 2340.5 548.1 2340.9 549.1 2340.3 550.1 2340.8 551.1 2340.2 552.1 2341.6 553.1 2341 554.1 2341 555.1 2341.6 556.1 2341.5 557.1 2341.2 558.1 2341.6 559.1 2341.6 560.1 2340.2 561.1 2341 562.1 2341.9 563.1 2342.1 564.1 2342.2 565.1 2342 566.1 2342.2 567.1 2341.6 568.1 2341.9 569.1 2341.9 570.1 2342.1 571.1 2341.7 572.1 2341.5 573.1 2341.7 574.1 2341.7 575.1 2342.4 576.1 2342.2 577.1 2341.8 578.1 2342.2 579.1 2341.5 580.1 2342 581.1 2342 582.1 2341.2 583.1 2340.9 584.1 2341.6 585.1 2341.1 586.1 2341.1 587.1 2340.1 588.1 2340.8 589.1 2340.4 590.1 2339.5 591.1 2339.8 592.1 2338.9 593.1 2338.4 594.1 2339.2 595.1 2339 596.1 2339.1 597.1 2338.8 598.1 2337.8 599.1 2337.2 600.1 2337.5 601.1 2338.5 602.1 2338 603.1 2338.1 604.1 2338.7 605.1 2338.7 606.1 2339.2 607.1 2339 608.1 2338.7 609.1 2339.4 610.1 2339.5 611.1 2339.8 612.1 2339.1 613.1 2340.2 614.1 2340.2 L614.1 2349.8 613.1 2349.5 612.1 2349.5 611.1 2349.4 610.1 2349.2 609.1 2349 608.1 2348.6 607.1 2348.5 606.1 2348.4 605.1 2348.9 604.1 2348.2 603.1 2348 602.1 2349.1 601.1 2348.4 600.1 2348.4 599.1 2348 598.1 2348.3 597.1 2348.4 596.1 2349.8 595.1 2349.1 594.1 2350.1 593.1 2349.5 592.1 2349.7 591.1 2349.3 590.1 2349.6 589.1 2349.9 588.1 2350.3 587.1 2350.4 586.1 2350.9 585.1 2350.5 584.1 2351.1 583.1 2351.6 582.1 2351.8 581.1 2352.4 580.1 2351.8 579.1 2352 578.1 2352.3 577.1 2351.9 576.1 2352.2 575.1 2351.9 574.1 2352.3 573.1 2351.8 572.1 2351.9 571.1 2351.9 570.1 2352.8 569.1 2351.8 568.1 2352.1 567.1 2351.9 566.1 2353 565.1 2352.5 564.1 2351.7 563.1 2352.3 562.1 2351.7 561.1 2351.8 560.1 2351.9 559.1 2351.8 558.1 2351.8 557.1 2351.8 556.1 2352.2 555.1 2351 554.1 2350.8 553.1 2351 552.1 2351.1 551.1 2351 550.1 2350.6 549.1 2352.1 548.1 2351.1 547.1 2350.5 546.1 2350.5 545.1 2350.7 544.1 2350.2 543.1 2350.4 542.1 2350.1 541.1 2350.3 540.1 2351 539.1 2351.1 538.1 2350.6 537.1 2350.3 536.1 2350.1 535.1 2350.1 534.1 2349.6 533.1 2349.6 532.1 2349.4 531.1 2350.1 530.1 2349.4 529.1 2349.7 528.1 2349 527.1 2348.7 526.1 2349.1 525.1 2348.5 524.1 2348.2 523.1 2348.2 522.1 2348.4 521.1 2348.7 520.1 2347.7 519.1 2347.9 518.1 2347.8 517.1 2348.3 516.1 2347.5 515.1 2348.4 514.1 2347.3 513.1 2347.1 512.1 2348.2 511.1 2347.9 510.1 2346.6 509.1 2346.9 508.1 2346.8 507.1 2348.7 506.1 2347.6 505.1 2347.1 504.1 2348.1 503.1 2348.2 502.1 2347.5 501.1 2347.5 500.1 2348.2 499.1 2348.3 498.1 2348.1 497.1 2350.3 496.1 2348.7 495.1 2348.6 494.1 2349.3 493.1 2349.9 492.1 2349.5 491.1 2349.5 490.1 2350.5 489.1 2349.6 488.1 2349.8 487.1 2349.9 486.1 2350.1 485.1 2349.6 484.1 2351.5 483.1 2349.6 482.1 2350.1 481.1 2350.4 480.1 2351.6 479.1 2350.1 478.1 2351.1 477.1 2350.1 476.1 2350.2 475.1 2349.6 474.1 2350.8 473.1 2350.1 472.1 2351.1 471.1 2351.9 470.1 2351.4 469.1 2351.8 468.1 2351.5 467.1 2351.6 466.1 2352.6 465.1 2355.1 464.1 2354.7 463.1 2355.9 462.1 2357.9 461.1 2356.2 460.1 2355.8 459.1 2355.5 458.1 2357.2 457.1 2354.9 456.1 2354.3 455.1 2353 454.1 2352.5 453.1 2351.8 452.1 2350.7 451.1 2353.1 450.1 2351.6 449.1 2351.9 448.1 2352.2 447.1 2352.5 446.1 2352 445.1 2352.6 444.1 2353.3 443.1 2353.7 442.1 2353.8 441.1 2353.6 440.1 2354 439.1 2354.4 438.1 2354.3 437.1 2355.2 436.1 2356.2 435.1 2355.7 434.1 2355.9 433.1 2357 432.1 2357.7 431.1 2359.1 430.1 2361.2 429.1 2364.4 428.1 2365.2 427.1 2366.7 426.1 2368.6 425.1 2370.9 424.1 2371 423.1 2368.8 422.1 2368.9 421.1 2366.8 420.1 2367.5 419.1 2367.9 418.1 2366.5 417.1 2368 416.1 2367.1 415.1 2366 414.1 2365.4 413.1 2364.9 412.1 2364.3 411.1 2363.5 410.1 2363.6 409.1 2360.9 408.1 2358.9 407.1 2355 406.1 2353.1 405.1 2350 404.1 2345.6 403.1 2340.7 402.1 2336.8 401.1 2330.2 400.1 2325.6 399.1 2321.5 398.1 2316.8 397.1 2318 396.1 2319.6 395.1 2321.9 394.1 2324.8 393.1 2327.3 392.1 2329.3 391.1 2332.5 390.1 2337.3 389.1 2340.2 388.1 2343.6 387.1 2345.2 386.1 2345.3 385.1 2346.9 384.1 2348.1 383.1 2349.6 382.1 2349.7 381.1 2348.8 380.1 2349.1 379.1 2348.7 378.1 2348.2 377.1 2348.3 376.1 2347.9 375.1 2347.2 374.1 2348.4 373.1 2347.3 372.1 2348.2 371.1 2347.1Z"/>
<path fill="none" stroke="#7F8CBE" stroke-width="3" stroke-linejoin="round" d="M383 2345 L388 2338 L392 2325 L396 2315 L398.2 2312 L401 2325 L405 2345 L410 2358"/>
<path fill="#D32F2F" d="M626.5 2342.3 627.5 2342.8 628.5 2343.2 629.5 2344 630.5 2343.8 631.5 2340.4 632.5 2341.2 633.5 2339.2 634.5 2337.9 635.5 2336.9 636.5 2337.2 637.5 2337.7 638.5 2337.6 639.5 2337.9 640.5 2338.5 641.5 2340.3 642.5 2340.1 643.5 2341 644.5 2343.6 645.5 2344 646.5 2344.2 647.5 2345.7 648.5 2346 649.5 2347.1 650.5 2346.3 651.5 2347.2 652.5 2347.4 653.5 2346.5 654.5 2345.9 655.5 2347.3 656.5 2347.1 657.5 2346.2 658.5 2346.3 659.5 2346.6 660.5 2345 661.5 2346 662.5 2345.6 663.5 2345 664.5 2345 665.5 2344.4 666.5 2343.9 667.5 2343.3 668.5 2342.6 669.5 2342.5 670.5 2340.4 671.5 2341.7 672.5 2340.9 673.5 2340 674.5 2339.7 675.5 2339.5 676.5 2339.2 677.5 2338.2 678.5 2337.6 679.5 2337.3 680.5 2336.9 681.5 2336.6 682.5 2335.6 683.5 2335.1 684.5 2336 685.5 2336.3 686.5 2337.5 687.5 2339 688.5 2340 689.5 2340.7 690.5 2341.6 691.5 2343.6 692.5 2345.2 693.5 2346.4 694.5 2348.9 695.5 2350.7 696.5 2351.3 697.5 2351.8 698.5 2351.2 699.5 2350 700.5 2349.8 701.5 2348.1 702.5 2347.5 703.5 2346.7 704.5 2345.7 705.5 2344.2 706.5 2344.3 707.5 2343.6 708.5 2341.8 709.5 2341.5 710.5 2341.3 711.5 2340.8 712.5 2339.6 713.5 2339.4 714.5 2339.7 715.5 2338.8 716.5 2337.9 717.5 2338.2 718.5 2337.7 719.5 2338.3 720.5 2339 721.5 2338.8 722.5 2338.9 723.5 2339.9 724.5 2340.1 725.5 2340.4 726.5 2340.6 727.5 2341 728.5 2340.5 729.5 2341.9 730.5 2340.6 731.5 2342.3 732.5 2341.5 733.5 2341.4 734.5 2343 735.5 2342.2 736.5 2343 737.5 2343.5 738.5 2343.8 739.5 2344.4 740.5 2343.9 741.5 2344.1 742.5 2344.5 743.5 2344.2 744.5 2343.9 745.5 2344.4 746.5 2343.6 747.5 2344.2 748.5 2344.1 749.5 2344.3 750.5 2343.4 751.5 2343.9 752.5 2343.4 753.5 2343.3 754.5 2342.9 755.5 2343.4 756.5 2343 757.5 2342.9 758.5 2342.7 759.5 2341.4 760.5 2342.3 761.5 2342.2 762.5 2342.5 763.5 2343 764.5 2343.4 765.5 2343.3 766.5 2342.8 767.5 2343.6 768.5 2343.6 769.5 2343.5 770.5 2344.1 771.5 2344.3 772.5 2344.9 773.5 2345.4 774.5 2345.2 775.5 2346.1 776.5 2346.7 777.5 2347.2 778.5 2346.2 779.5 2347.6 780.5 2348.3 781.5 2347.7 782.5 2347.3 783.5 2346.8 784.5 2346.3 785.5 2345.8 786.5 2344.4 787.5 2343.9 788.5 2344.2 789.5 2342.9 790.5 2342.5 791.5 2342.4 792.5 2343.2 793.5 2342.5 794.5 2341.4 795.5 2342.7 796.5 2342.2 797.5 2342 798.5 2342.5 799.5 2342.3 800.5 2342.3 801.5 2342.2 802.5 2342 803.5 2342 804.5 2341.8 805.5 2341.8 806.5 2342.6 807.5 2343.1 808.5 2342.7 809.5 2342.9 810.5 2342.7 811.5 2343.1 812.5 2343.3 813.5 2342.9 814.5 2342.4 815.5 2342.1 816.5 2342.6 817.5 2341.7 818.5 2341.9 819.5 2342 820.5 2342 821.5 2342.8 822.5 2342.4 823.5 2343.3 824.5 2343.1 825.5 2341.2 826.5 2343.2 827.5 2343.8 828.5 2343.7 829.5 2345 830.5 2345 831.5 2345.5 832.5 2346.1 833.5 2346.1 834.5 2346.8 835.5 2347 836.5 2346.7 837.5 2346.3 838.5 2345.2 839.5 2345.9 840.5 2345 841.5 2344.1 842.5 2344.5 843.5 2343.2 844.5 2342.2 845.5 2341.9 846.5 2340.7 847.5 2339.9 848.5 2338.5 849.5 2337.6 850.5 2337.2 851.5 2337.9 852.5 2338 853.5 2338.5 854.5 2337.1 855.5 2338.7 856.5 2339.4 857.5 2339.9 858.5 2340.1 859.5 2339.6 860.5 2341 861.5 2341.8 862.5 2341.2 863.5 2341.1 864.5 2341.5 865.5 2342.2 866.5 2342.5 867.5 2342 868.5 2341.8 869.5 2342.8 870.5 2342.3 L870.5 2352.8 869.5 2352.4 868.5 2352.8 867.5 2353.5 866.5 2352.6 865.5 2353.1 864.5 2352.8 863.5 2351.9 862.5 2351.7 861.5 2351.8 860.5 2351.1 859.5 2350.1 858.5 2350.4 857.5 2349.8 856.5 2349.3 855.5 2349.6 854.5 2348.6 853.5 2347.7 852.5 2347.8 851.5 2347.3 850.5 2347.7 849.5 2347.2 848.5 2348.5 847.5 2349.7 846.5 2351 845.5 2351.2 844.5 2352.1 843.5 2353.7 842.5 2354.4 841.5 2355.4 840.5 2354.6 839.5 2356 838.5 2355.9 837.5 2356.8 836.5 2357.2 835.5 2357.1 834.5 2356.5 833.5 2356.4 832.5 2355.6 831.5 2355 830.5 2355.2 829.5 2355.4 828.5 2353.9 827.5 2354.3 826.5 2353.3 825.5 2354.1 824.5 2353.4 823.5 2352.8 822.5 2352.8 821.5 2352.3 820.5 2351.7 819.5 2352.1 818.5 2352.6 817.5 2352.2 816.5 2352.7 815.5 2353.2 814.5 2352.6 813.5 2353.1 812.5 2352.7 811.5 2352.9 810.5 2352.6 809.5 2352.8 808.5 2353.1 807.5 2352.9 806.5 2352.3 805.5 2352.7 804.5 2352.6 803.5 2352.4 802.5 2352.5 801.5 2352 800.5 2351.7 799.5 2352.3 798.5 2352.2 797.5 2353.5 796.5 2353.2 795.5 2352.1 794.5 2352.7 793.5 2352.8 792.5 2352.7 791.5 2352.4 790.5 2352.5 789.5 2353.1 788.5 2354.3 787.5 2353.9 786.5 2356.2 785.5 2355.1 784.5 2355.9 783.5 2356.8 782.5 2356.7 781.5 2357.8 780.5 2357.4 779.5 2357.1 778.5 2357.2 777.5 2357.1 776.5 2356.3 775.5 2356.2 774.5 2355.9 773.5 2355.1 772.5 2354.8 771.5 2354.3 770.5 2353.8 769.5 2354.3 768.5 2353.4 767.5 2353.8 766.5 2353.2 765.5 2353.2 764.5 2352.9 763.5 2352.7 762.5 2352.6 761.5 2352.3 760.5 2351.9 759.5 2352.8 758.5 2351.8 757.5 2352.8 756.5 2354 755.5 2352.5 754.5 2353.2 753.5 2353 752.5 2354.1 751.5 2353.7 750.5 2353.7 749.5 2354.2 748.5 2353.8 747.5 2353.8 746.5 2354.3 745.5 2354.2 744.5 2353.7 743.5 2354.3 742.5 2354.3 741.5 2353.5 740.5 2354.1 739.5 2353.6 738.5 2354.4 737.5 2354.2 736.5 2352.8 735.5 2353 734.5 2352.5 733.5 2352.2 732.5 2352 731.5 2351.6 730.5 2351.3 729.5 2352.2 728.5 2351.3 727.5 2350.6 726.5 2350.3 725.5 2350.6 724.5 2349.6 723.5 2349.9 722.5 2349.1 721.5 2348.7 720.5 2349.2 719.5 2348.7 718.5 2348.8 717.5 2347.8 716.5 2349.2 715.5 2349.2 714.5 2349.3 713.5 2349.7 712.5 2349.6 711.5 2350.1 710.5 2351.6 709.5 2351.1 708.5 2351.9 707.5 2353.1 706.5 2353.6 705.5 2355.6 704.5 2355.7 703.5 2357.3 702.5 2357.4 701.5 2358.6 700.5 2359.2 699.5 2360.6 698.5 2361.1 697.5 2363.1 696.5 2362 695.5 2361.4 694.5 2359.6 693.5 2357.2 692.5 2356.1 691.5 2353.2 690.5 2351.6 689.5 2350.7 688.5 2349.5 687.5 2349.5 686.5 2347.7 685.5 2346.8 684.5 2346.5 683.5 2345.6 682.5 2345.5 681.5 2346.2 680.5 2346.5 679.5 2347 678.5 2348.1 677.5 2348.3 676.5 2348.7 675.5 2348.8 674.5 2350.5 673.5 2350.3 672.5 2351.5 671.5 2351.1 670.5 2351.4 669.5 2351.8 668.5 2353.3 667.5 2353.6 666.5 2353.4 665.5 2354.8 664.5 2355.5 663.5 2354.7 662.5 2355.5 661.5 2355.8 660.5 2357.6 659.5 2355.9 658.5 2356.8 657.5 2357.4 656.5 2356.9 655.5 2356.9 654.5 2357.7 653.5 2357.4 652.5 2357.5 651.5 2357.2 650.5 2357 649.5 2356.3 648.5 2355.5 647.5 2355.4 646.5 2354.7 645.5 2354.7 644.5 2352.9 643.5 2353.5 642.5 2352 641.5 2349.9 640.5 2348.8 639.5 2347.1 638.5 2346.8 637.5 2348.5 636.5 2347.9 635.5 2348.1 634.5 2348.2 633.5 2350.1 632.5 2350.9 631.5 2352.5 630.5 2353.3 629.5 2354 628.5 2353.7 627.5 2352.3 626.5 2351.7Z"/>
<path fill="#DB7479" d="M883.3 2347.8 884.3 2349.7 885.3 2351.5 886.3 2352.8 887.3 2354.1 888.3 2356.1 889.3 2355.7 890.3 2354.6 891.3 2352.5 892.3 2349.5 893.3 2348.3 894.3 2345.4 895.3 2343.7 896.3 2342.5 897.3 2341.1 898.3 2341.2 899.3 2340.5 900.3 2341.4 901.3 2341.6 902.3 2340.1 903.3 2341.8 904.3 2341.4 905.3 2340.5 906.3 2342.3 907.3 2342.6 908.3 2342.8 909.3 2343 910.3 2343.3 911.3 2343.8 912.3 2343.8 913.3 2342.9 914.3 2342.7 915.3 2342.1 916.3 2341.9 917.3 2341.3 918.3 2341 919.3 2340.5 920.3 2340 921.3 2339.5 922.3 2339.9 923.3 2339.2 924.3 2339.6 925.3 2339.6 926.3 2339.5 927.3 2339.3 928.3 2337.4 929.3 2339.2 930.3 2339.1 931.3 2339 932.3 2338.3 933.3 2338.1 934.3 2338.5 935.3 2338.2 936.3 2337.6 937.3 2338 938.3 2338.9 939.3 2338.7 940.3 2340 941.3 2339.7 942.3 2340.8 943.3 2341.4 944.3 2342.3 945.3 2342.6 946.3 2343.3 947.3 2343.7 948.3 2343.7 949.3 2344.5 950.3 2344.9 951.3 2344.5 952.3 2344.1 953.3 2343.4 954.3 2343.7 955.3 2343.2 956.3 2342.9 957.3 2342.5 958.3 2342.1 959.3 2342.2 960.3 2340.6 961.3 2341.3 962.3 2341.1 963.3 2339.9 964.3 2340.2 965.3 2339.1 966.3 2339.2 967.3 2339.1 968.3 2340.5 969.3 2340 970.3 2340.5 971.3 2340.4 972.3 2339.7 973.3 2339.7 974.3 2341.1 975.3 2341.2 976.3 2340.7 977.3 2341.3 978.3 2340.9 979.3 2340.7 980.3 2341 981.3 2341.3 982.3 2341 983.3 2342.2 984.3 2341.3 985.3 2341.8 986.3 2342.6 987.3 2342.6 988.3 2342.2 989.3 2342.5 990.3 2342.7 991.3 2342.4 992.3 2343.2 993.3 2343.6 994.3 2343.6 995.3 2344.1 996.3 2344 997.3 2344.4 998.3 2344.3 999.3 2343.9 1000.3 2345.3 1001.3 2345 1002.3 2345.6 1003.3 2345.7 1004.3 2345.3 1005.3 2345.3 1006.3 2346.5 1007.3 2345.8 1008.3 2346.7 1009.3 2346.5 1010.3 2347 1011.3 2346.9 1012.3 2347.7 1013.3 2347.6 1014.3 2348.1 1015.3 2348.1 1016.3 2346.7 1017.3 2347.5 1018.3 2346.6 1019.3 2346.7 1020.3 2346.4 1021.3 2346.2 1022.3 2345.2 1023.3 2344.5 1024.3 2345.2 1025.3 2344.6 1026.3 2343.6 1027.3 2344.1 1028.3 2343.8 1029.3 2344 1030.3 2344 1031.3 2342.4 1032.3 2343.1 1033.3 2343 1034.3 2343.3 1035.3 2343.1 1036.3 2342.7 1037.3 2343.1 1038.3 2342.2 1039.3 2342.5 1040.3 2342.4 1041.3 2343.1 1042.3 2343.1 1043.3 2342.3 1044.3 2343.1 1045.3 2342.7 1046.3 2342.9 1047.3 2343 1048.3 2343.9 1049.3 2342.7 1050.3 2343.7 1051.3 2343.6 1052.3 2344 1053.3 2343.5 1054.3 2344.8 1055.3 2345.4 1056.3 2345.4 1057.3 2346.8 1058.3 2347.2 1059.3 2347.5 1060.3 2349.1 1061.3 2349.2 1062.3 2350.4 1063.3 2350.2 1064.3 2350.1 1065.3 2349.6 1066.3 2347.9 1067.3 2347.5 1068.3 2348.1 1069.3 2347.6 1070.3 2345.7 1071.3 2346.1 1072.3 2346.5 1073.3 2345.1 1074.3 2345.7 1075.3 2345.4 1076.3 2345.7 1077.3 2345.3 1078.3 2345 1079.3 2345.3 1080.3 2344.5 1081.3 2345.3 1082.3 2345.1 1083.3 2345.4 1084.3 2345.4 1085.3 2345.4 1086.3 2345.4 1087.3 2345.2 1088.3 2345.5 1089.3 2345.8 1090.3 2345.1 1091.3 2345.7 1092.3 2345 1093.3 2345.6 1094.3 2344.7 1095.3 2346 1096.3 2346.1 1097.3 2345.2 1098.3 2345.2 1099.3 2345.7 1100.3 2344.7 1101.3 2345.1 1102.3 2344.9 1103.3 2345.3 1104.3 2344.5 1105.3 2344.4 1106.3 2343.8 1107.3 2344.5 1108.3 2343.4 1109.3 2342.7 1110.3 2343.1 1111.3 2342 1112.3 2342.9 1113.3 2342.1 1114.3 2342.1 1115.3 2340.8 1116.3 2341.6 1117.3 2342.2 1118.3 2342.8 1119.3 2343.3 1120.3 2342.8 1121.3 2343 1122.3 2344.3 1123.3 2344.9 1124.3 2344.8 1125.3 2344.8 1126.3 2346.4 1127.3 2346.5 L1127.3 2356.8 1126.3 2356.5 1125.3 2356.4 1124.3 2355.1 1123.3 2355.6 1122.3 2355.7 1121.3 2353.7 1120.3 2353.6 1119.3 2353.8 1118.3 2352.9 1117.3 2352.8 1116.3 2352.4 1115.3 2352.3 1114.3 2353.2 1113.3 2352.4 1112.3 2353.5 1111.3 2353 1110.3 2353.7 1109.3 2353.7 1108.3 2354.5 1107.3 2354.4 1106.3 2355 1105.3 2355.5 1104.3 2355.1 1103.3 2355.3 1102.3 2356.1 1101.3 2355.7 1100.3 2355.3 1099.3 2356.1 1098.3 2355.6 1097.3 2356.4 1096.3 2356.4 1095.3 2356.2 1094.3 2355.7 1093.3 2356.5 1092.3 2357.5 1091.3 2355.9 1090.3 2356.5 1089.3 2356.1 1088.3 2355.5 1087.3 2355.7 1086.3 2355.6 1085.3 2355.1 1084.3 2355.9 1083.3 2356.1 1082.3 2355.2 1081.3 2355.3 1080.3 2355.2 1079.3 2355.3 1078.3 2355.3 1077.3 2356.9 1076.3 2355.7 1075.3 2356.8 1074.3 2356.3 1073.3 2356.3 1072.3 2356.8 1071.3 2357.1 1070.3 2357.1 1069.3 2357.4 1068.3 2358.1 1067.3 2358.7 1066.3 2359.2 1065.3 2359.6 1064.3 2360.1 1063.3 2361.6 1062.3 2360.8 1061.3 2360.6 1060.3 2360 1059.3 2358.8 1058.3 2357.9 1057.3 2357.4 1056.3 2357.2 1055.3 2356 1054.3 2355.6 1053.3 2354.8 1052.3 2354.7 1051.3 2354.5 1050.3 2355.1 1049.3 2354 1048.3 2353.6 1047.3 2353.7 1046.3 2353.3 1045.3 2353.1 1044.3 2353.4 1043.3 2352.9 1042.3 2353.7 1041.3 2352.9 1040.3 2353.6 1039.3 2353 1038.3 2352.8 1037.3 2353.2 1036.3 2353.6 1035.3 2352.9 1034.3 2353.6 1033.3 2353.2 1032.3 2353.4 1031.3 2353.8 1030.3 2353.9 1029.3 2355.3 1028.3 2354.7 1027.3 2355.3 1026.3 2354.7 1025.3 2356.1 1024.3 2356.7 1023.3 2355.9 1022.3 2356 1021.3 2356.1 1020.3 2356.7 1019.3 2357.3 1018.3 2357.5 1017.3 2357.6 1016.3 2357.8 1015.3 2357.8 1014.3 2357.7 1013.3 2358.1 1012.3 2357.6 1011.3 2357.2 1010.3 2358 1009.3 2356.6 1008.3 2356.8 1007.3 2356.2 1006.3 2357.2 1005.3 2356.9 1004.3 2355.7 1003.3 2355.9 1002.3 2355.7 1001.3 2355.3 1000.3 2355.8 999.3 2354.8 998.3 2355.6 997.3 2355.3 996.3 2354.2 995.3 2354.6 994.3 2354.8 993.3 2355.1 992.3 2355 991.3 2354 990.3 2353 989.3 2352.8 988.3 2353.2 987.3 2352.8 986.3 2353.5 985.3 2352.8 984.3 2353.4 983.3 2352.1 982.3 2352.2 981.3 2352.3 980.3 2351.6 979.3 2352 978.3 2351.7 977.3 2352.3 976.3 2350.9 975.3 2353 974.3 2351.1 973.3 2351.4 972.3 2351.2 971.3 2350.5 970.3 2350.4 969.3 2351.1 968.3 2350.1 967.3 2350.6 966.3 2350.2 965.3 2349.8 964.3 2350.3 963.3 2350.5 962.3 2350.9 961.3 2351.5 960.3 2352.1 959.3 2352 958.3 2352.3 957.3 2352.7 956.3 2353.1 955.3 2353.9 954.3 2353.7 953.3 2354.3 952.3 2355.2 951.3 2355.3 950.3 2355 949.3 2354.9 948.3 2354.6 947.3 2354.5 946.3 2352.9 945.3 2353.2 944.3 2352.4 943.3 2351.7 942.3 2350.9 941.3 2350.4 940.3 2350.4 939.3 2349.8 938.3 2349.2 937.3 2348.1 936.3 2348.9 935.3 2348.6 934.3 2349.7 933.3 2349.1 932.3 2348.9 931.3 2349.6 930.3 2349.8 929.3 2349 928.3 2349.6 927.3 2349.4 926.3 2349.3 925.3 2350.2 924.3 2350.2 923.3 2350.4 922.3 2350.2 921.3 2350.4 920.3 2350.3 919.3 2350.4 918.3 2351.3 917.3 2351.6 916.3 2352.1 915.3 2353.2 914.3 2352.6 913.3 2353.2 912.3 2353.9 911.3 2354.5 910.3 2354 909.3 2353.2 908.3 2353.2 907.3 2352.5 906.3 2352.1 905.3 2352.7 904.3 2352.9 903.3 2351.6 902.3 2351.5 901.3 2351.3 900.3 2351.3 899.3 2352.3 898.3 2351.4 897.3 2350.9 896.3 2353 895.3 2355.2 894.3 2356.3 893.3 2358.5 892.3 2360.4 891.3 2363 890.3 2365 889.3 2366.3 888.3 2366.1 887.3 2364.9 886.3 2363.6 885.3 2361.7 884.3 2360.8 883.3 2358.8Z"/>
<rect x="113.5" y="2431.4" width="502.1" height="6.4" fill="#000"/>
<rect x="628" y="2431.4" width="499.8" height="6.4" fill="#000"/>
<path fill="#000" d="M236.7 1887 H250.7 V1928.3 H285.7 V1942.5 H236.7 Z"/>
<path fill="#000" d="M899.6 2247.2 H913.8 V2284.3 H948.6 V2298.5 H899.6 Z"/>
<text x="37.3" y="1873.4" font-size="46" text-anchor="start" font-weight="bold" >d</text>
<text x="37.3" y="2158.6" font-size="46" text-anchor="start" font-weight="bold" >e</text>
<text x="236.8" y="1873.6" font-size="45.8">10 <tspan font-style="italic">µ</tspan>V</text>
<text x="298" y="1941.2" font-size="45.8" text-anchor="start" font-weight="normal" >2 s</text>
<text x="899" y="2233.5" font-size="45.8">500 <tspan font-style="italic">µ</tspan>V</text>
<text x="961" y="2297.5" font-size="45.8" text-anchor="start" font-weight="normal" >2 s</text>
<text x="46.4" y="1983.5" font-size="45.8" text-anchor="middle" font-weight="normal" transform="rotate(-90 46.4 1983.5)" >High</text>
<text x="101.1" y="1982" font-size="45.8" text-anchor="middle" font-weight="normal" transform="rotate(-90 101.1 1982)" >Bandpass</text>
<text x="41.3" y="2344.4" font-size="45.8" text-anchor="middle" font-weight="normal" transform="rotate(-90 41.3 2344.4)" >Low</text>
<text x="95.9" y="2344.4" font-size="45.8" text-anchor="middle" font-weight="normal" transform="rotate(-90 95.9 2344.4)" >Pass</text>
<text x="365.4" y="2485" font-size="45.8" text-anchor="middle" font-weight="normal" >Isoflurane at 1.3%</text>
<text x="879.5" y="2485" font-size="45.8" text-anchor="middle" font-weight="normal" >Isoflurane at 5%</text></g>
<g id="panel-f"><path d="M1357 1899.7 V2339 M1338.5 1903 H1360.2 M1338.5 1989.5 H1360.2 M1338.5 2076 H1360.2 M1338.5 2162.6 H1360.2 M1338.5 2249.1 H1360.2 M1338.5 2335.7 H1360.2 M1445 1904.5 V1886.4 H1560.3 V1904.5 M1445 2384.4 V2366.3 H1560.3 V2384.4 M1412.7 1947.8 H1475 M1444.6 1947.8 V1963 M1398 2105.7 H1475 M1444.6 2100 V2105.7 M1529.7 2188.4 H1591.6 M1560.3 2188.4 V2260 M1515.8 2332.5 H1606 M1560.3 2327 V2332.5" stroke="#000" stroke-width="6.5" fill="none"/>
<rect x="1381.4" y="1965.7" width="123.8" height="132.2" fill="#4381C3" stroke="#000" stroke-width="6.5"/>
<path d="M1381.4 2033.6 H1505.2" stroke="#000" stroke-width="7.5"/>
<rect x="1498.1" y="2261.2" width="125.1" height="63.6" fill="#F22A2A" stroke="#000" stroke-width="6.5"/>
<path d="M1498.1 2307.6 H1623.2" stroke="#000" stroke-width="7"/>
<circle cx="1424.9" cy="1948" r="9.7" fill="#000"/>
<circle cx="1463.3" cy="1971.5" r="9.7" fill="#000"/>
<circle cx="1482.6" cy="2095" r="9.7" fill="#000"/>
<circle cx="1405.6" cy="2106" r="9.7" fill="#000"/>
<circle cx="1541" cy="2188.7" r="9.7" fill="#000"/>
<circle cx="1579.7" cy="2286" r="9.7" fill="#000"/>
<circle cx="1521.7" cy="2329" r="9.7" fill="#000"/>
<circle cx="1599" cy="2333.8" r="9.7" fill="#000"/>
<text x="1316.5" y="1923" font-size="45.8" text-anchor="end" font-weight="normal" >1</text>
<text x="1319" y="2009.5" font-size="45.8" text-anchor="end" font-weight="normal" >0.8</text>
<text x="1319" y="2096" font-size="45.8" text-anchor="end" font-weight="normal" >0.6</text>
<text x="1319" y="2182.6" font-size="45.8" text-anchor="end" font-weight="normal" >0.4</text>
<text x="1319" y="2269.1" font-size="45.8" text-anchor="end" font-weight="normal" >0.2</text>
<text x="1319" y="2355.7" font-size="45.8" text-anchor="end" font-weight="normal" >0</text>
<text x="1149" y="1873.2" font-size="46" text-anchor="start" font-weight="bold" >f</text>
<text x="1502" y="1894.5" font-size="46" text-anchor="middle" font-weight="normal" >*</text>
<text x="1445" y="2435.3" font-size="45.8" text-anchor="middle" font-weight="normal" >1.3</text>
<text x="1559.8" y="2435.3" font-size="45.8" text-anchor="middle" font-weight="normal" >5</text>
<text x="1467.5" y="2486.2" font-size="45.8" text-anchor="middle" font-weight="normal" >Isoflurane (%)</text>
<text x="1181.5" y="2158.3" font-size="45.8" text-anchor="middle" font-weight="normal" transform="rotate(-90 1181.5 2158.3)" >Normalized</text>
<text x="1237" y="2158.6" font-size="45.8" text-anchor="middle" font-weight="normal" transform="rotate(-90 1237 2158.6)" >Area Under the Curve</text></g>
</svg></body></html>
